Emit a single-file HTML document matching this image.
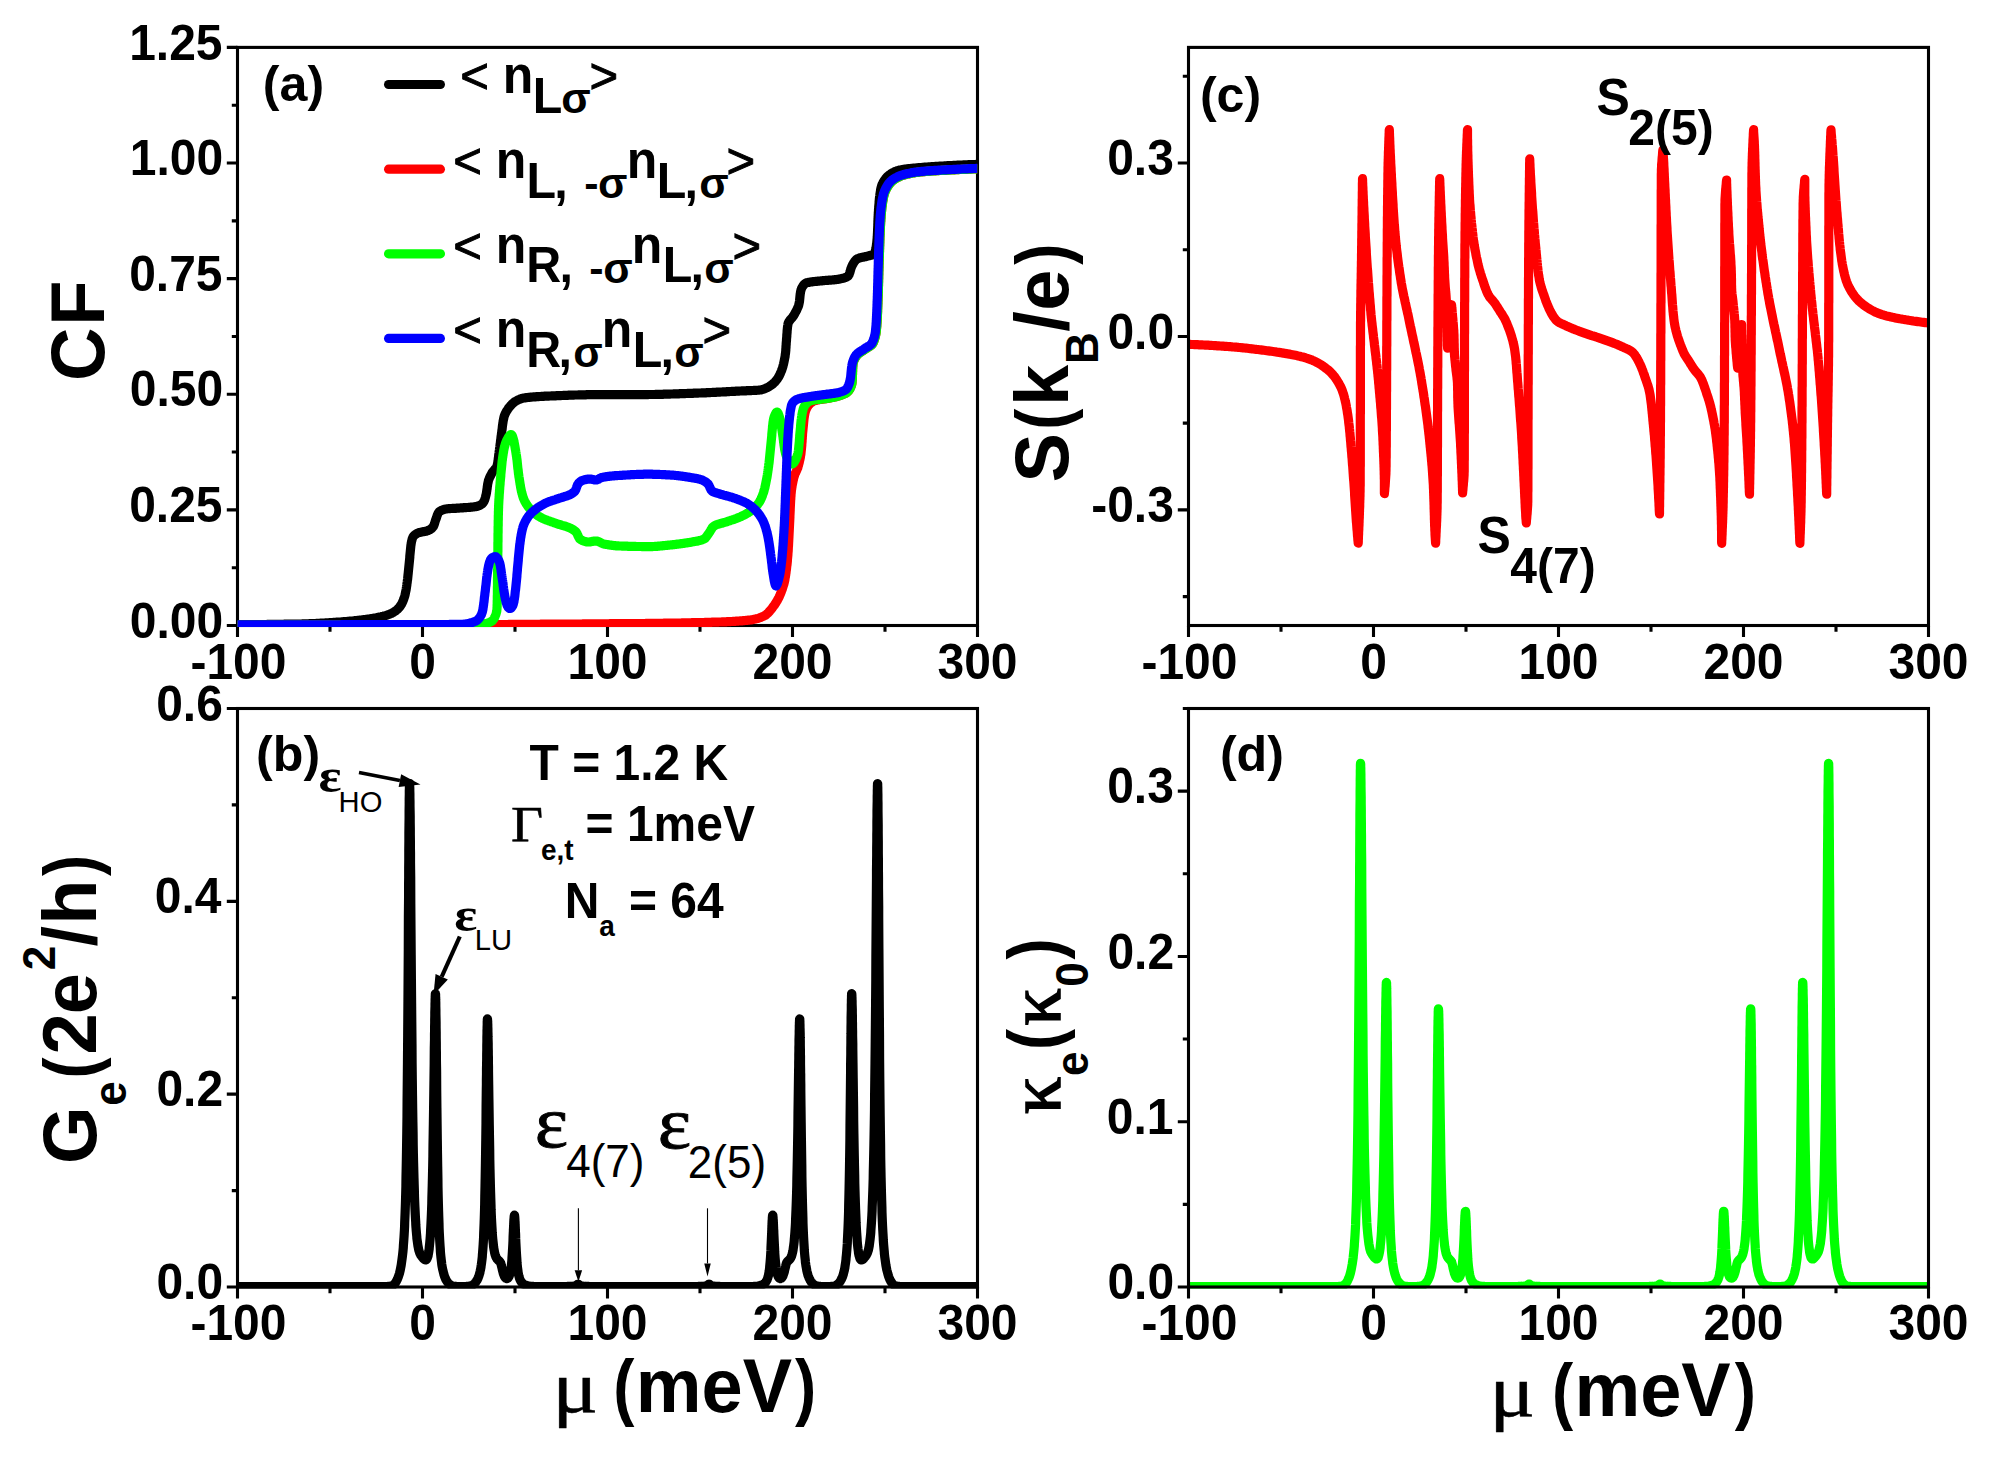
<!DOCTYPE html>
<html lang="en"><head><meta charset="utf-8"><title>Figure</title>
<style>html,body{margin:0;padding:0;background:#fff}svg{display:block}</style></head>
<body>
<svg width="1990" height="1470" viewBox="0 0 1990 1470" role="img" aria-label="Four panel figure: correlation functions, electrical conductance, Seebeck coefficient and electron thermal conductance versus chemical potential">
<desc>(a) CF versus μ (meV): &lt; nLσ&gt;, &lt; nL,-σ nL,σ&gt;, &lt; nR,-σ nL,σ&gt;, &lt; nR,σ nL,σ&gt;. (b) Ge (2e2/h) versus μ (meV), T = 1.2 K, Γe,t = 1meV, Na = 64, εHO, εLU, ε4(7), ε2(5). (c) S(kB/e) with S2(5) and S4(7). (d) κe(κ0) versus μ (meV).</desc>
<rect width="1990" height="1470" fill="#fff"/>
<defs>
<clipPath id="clipa"><rect x="237.00" y="47.40" width="740.50" height="579.65"/></clipPath>
<clipPath id="clipb"><rect x="237.00" y="708.50" width="740.50" height="580.05"/></clipPath>
<clipPath id="clipc"><rect x="1188.00" y="47.40" width="740.50" height="579.65"/></clipPath>
<clipPath id="clipd"><rect x="1188.00" y="708.50" width="740.50" height="580.05"/></clipPath>
</defs>
<rect x="237.5" y="47.4" width="740.0" height="578.1" fill="none" stroke="#000" stroke-width="3.1"/>
<path d="M237.50,625.50 L237.50,637.00 M422.50,625.50 L422.50,637.00 M607.50,625.50 L607.50,637.00 M792.50,625.50 L792.50,637.00 M977.50,625.50 L977.50,637.00 M330.00,625.50 L330.00,631.80 M515.00,625.50 L515.00,631.80 M700.00,625.50 L700.00,631.80 M885.00,625.50 L885.00,631.80 M237.50,625.50 L226.80,625.50 M237.50,509.88 L226.80,509.88 M237.50,394.26 L226.80,394.26 M237.50,278.64 L226.80,278.64 M237.50,163.02 L226.80,163.02 M237.50,47.40 L226.80,47.40 M237.50,567.69 L231.80,567.69 M237.50,452.07 L231.80,452.07 M237.50,336.45 L231.80,336.45 M237.50,220.83 L231.80,220.83 M237.50,105.21 L231.80,105.21" stroke="#000" stroke-width="3.1" fill="none"/>
<text transform="translate(129.76,637.60) scale(1.0,1.035)" font-family='"Liberation Sans", Arial, sans-serif' font-weight="bold" font-size="48" fill="#000">0.00</text>
<text transform="translate(129.16,521.98) scale(1.0,1.035)" font-family='"Liberation Sans", Arial, sans-serif' font-weight="bold" font-size="48" fill="#000">0.25</text>
<text transform="translate(129.76,406.36) scale(1.0,1.035)" font-family='"Liberation Sans", Arial, sans-serif' font-weight="bold" font-size="48" fill="#000">0.50</text>
<text transform="translate(129.16,290.74) scale(1.0,1.035)" font-family='"Liberation Sans", Arial, sans-serif' font-weight="bold" font-size="48" fill="#000">0.75</text>
<text transform="translate(129.76,175.12) scale(1.0,1.035)" font-family='"Liberation Sans", Arial, sans-serif' font-weight="bold" font-size="48" fill="#000">1.00</text>
<text transform="translate(129.16,59.50) scale(1.0,1.035)" font-family='"Liberation Sans", Arial, sans-serif' font-weight="bold" font-size="48" fill="#000">1.25</text>
<text transform="translate(190.46,678.50) scale(1.0,1.035)" font-family='"Liberation Sans", Arial, sans-serif' font-weight="bold" font-size="48" fill="#000">-100</text>
<text transform="translate(409.15,678.50) scale(1.0,1.035)" font-family='"Liberation Sans", Arial, sans-serif' font-weight="bold" font-size="48" fill="#000">0</text>
<text transform="translate(567.46,678.50) scale(1.0,1.035)" font-family='"Liberation Sans", Arial, sans-serif' font-weight="bold" font-size="48" fill="#000">100</text>
<text transform="translate(752.46,678.50) scale(1.0,1.035)" font-family='"Liberation Sans", Arial, sans-serif' font-weight="bold" font-size="48" fill="#000">200</text>
<text transform="translate(937.46,678.50) scale(1.0,1.035)" font-family='"Liberation Sans", Arial, sans-serif' font-weight="bold" font-size="48" fill="#000">300</text>
<path d="M237.5,624.6 238.5,624.6 239.5,624.6 240.5,624.6 241.5,624.6 242.5,624.6 243.5,624.6 244.5,624.6 245.5,624.6 246.5,624.6 247.5,624.6 248.5,624.6 249.5,624.6 250.5,624.6 251.5,624.6 252.5,624.6 253.5,624.6 254.5,624.5 255.5,624.5 256.5,624.5 257.5,624.5 258.5,624.5 259.5,624.5 260.5,624.5 261.5,624.5 262.6,624.5 263.6,624.5 264.6,624.5 265.6,624.5 266.6,624.5 267.6,624.4 268.6,624.4 269.6,624.4 270.6,624.4 271.6,624.4 272.6,624.4 273.6,624.4 274.6,624.4 275.6,624.4 276.6,624.3 277.6,624.3 278.6,624.3 279.6,624.3 280.6,624.3 281.6,624.3 282.6,624.3 283.6,624.3 284.6,624.2 285.6,624.2 286.6,624.2 287.6,624.2 288.6,624.2 289.6,624.2 290.6,624.2 291.6,624.1 292.6,624.1 293.6,624.1 294.6,624.1 295.6,624.1 296.6,624.1 297.6,624.0 298.6,624.0 299.6,624.0 300.6,624.0 301.6,624.0 302.6,623.9 303.6,623.9 304.6,623.9 305.6,623.9 306.6,623.8 307.6,623.8 308.6,623.8 309.6,623.7 310.6,623.7 311.6,623.7 312.6,623.6 313.6,623.6 314.6,623.5 315.6,623.5 316.6,623.4 317.6,623.4 318.6,623.3 319.6,623.3 320.6,623.2 321.6,623.2 322.6,623.1 323.6,623.1 324.6,623.0 325.6,622.9 326.6,622.9 327.6,622.8 328.6,622.8 329.6,622.7 330.6,622.6 331.6,622.6 332.6,622.5 333.6,622.4 334.6,622.4 335.6,622.3 336.6,622.2 337.6,622.2 338.6,622.1 339.6,622.0 340.6,622.0 341.6,621.9 342.6,621.8 343.6,621.7 344.6,621.7 345.6,621.6 346.6,621.5 347.6,621.4 348.6,621.3 349.6,621.2 350.6,621.1 351.6,621.0 352.6,621.0 353.6,620.9 354.6,620.7 355.6,620.6 356.6,620.5 357.6,620.4 358.6,620.3 359.6,620.2 360.6,620.1 361.6,620.0 362.6,619.8 363.6,619.7 364.5,619.6 365.5,619.5 366.5,619.3 367.5,619.2 368.5,619.1 369.5,618.9 370.5,618.8 371.5,618.6 372.5,618.4 373.5,618.3 374.5,618.1 375.5,617.9 376.5,617.7 377.4,617.5 378.4,617.3 379.4,617.1 380.4,616.9 381.4,616.7 382.3,616.4 383.3,616.2 384.2,615.9 385.2,615.7 386.2,615.4 387.1,615.1 388.1,614.7 389.1,614.4 390.0,614.0 391.0,613.6 391.9,613.2 392.7,612.7 393.6,612.2 394.4,611.7 395.2,611.2 396.0,610.6 396.8,609.9 397.6,609.2 398.3,608.5 399.0,607.7 399.7,606.9 400.3,606.1 400.8,605.3 401.3,604.5 401.8,603.7 402.2,602.8 402.6,601.9 403.1,600.9 403.4,600.0 403.8,599.0 404.1,598.0 404.4,597.1 404.7,596.1 405.0,595.1 405.2,594.2 405.4,593.2 405.6,592.2 405.8,591.3 406.0,590.3 406.2,589.3 406.3,588.3 406.5,587.3 406.6,586.3 406.8,585.3 406.9,584.3 407.0,583.3 407.2,582.3 407.3,581.3 407.4,580.3 407.6,579.3 407.7,578.3 407.8,577.3 407.9,576.3 408.0,575.3 408.1,574.3 408.2,573.4 408.3,572.4 408.4,571.4 408.5,570.4 408.6,569.4 408.7,568.4 408.8,567.4 408.9,566.4 409.0,565.4 409.1,564.4 409.2,563.4 409.3,562.4 409.4,561.4 409.5,560.4 409.6,559.4 409.7,558.4 409.8,557.4 409.8,556.4 409.9,555.4 410.0,554.4 410.1,553.4 410.2,552.4 410.3,551.4 410.4,550.4 410.5,549.4 410.6,548.4 410.7,547.4 410.8,546.4 410.9,545.4 411.1,544.4 411.2,543.4 411.4,542.4 411.6,541.3 411.9,540.3 412.1,539.3 412.4,538.4 412.8,537.5 413.1,536.7 413.7,536.0 414.4,535.3 415.2,534.6 416.1,534.0 417.1,533.4 417.9,533.0 418.8,532.7 419.8,532.4 420.8,532.2 421.8,532.0 422.8,531.8 423.8,531.6 424.8,531.5 425.8,531.3 426.8,531.0 427.7,530.7 428.6,530.3 429.5,529.9 430.4,529.3 431.3,528.7 432.1,528.0 432.7,527.3 433.3,526.6 433.7,525.8 434.1,524.9 434.4,524.0 434.7,523.0 435.0,522.0 435.3,521.0 435.6,520.0 436.0,519.0 436.4,518.0 436.7,517.0 437.0,516.0 437.4,514.9 437.8,514.0 438.2,513.1 438.7,512.4 439.2,511.8 439.9,511.2 440.8,510.7 441.7,510.3 442.7,509.9 443.8,509.5 444.8,509.2 445.8,509.0 446.8,508.9 447.7,508.8 448.7,508.7 449.7,508.6 450.7,508.5 451.7,508.5 452.7,508.4 453.7,508.4 454.7,508.3 455.7,508.3 456.8,508.2 457.8,508.2 458.8,508.1 459.8,508.0 460.8,507.9 461.8,507.9 462.8,507.8 463.8,507.7 464.8,507.7 465.8,507.6 466.9,507.5 467.9,507.5 468.9,507.4 469.9,507.3 470.9,507.2 471.9,507.1 472.9,507.0 473.9,506.9 474.8,506.8 475.8,506.6 476.7,506.5 477.7,506.2 478.7,505.8 479.7,505.3 480.7,504.8 481.6,504.3 482.3,503.7 482.9,503.1 483.4,502.4 483.9,501.6 484.3,500.7 484.7,499.8 485.0,498.7 485.3,497.7 485.6,496.6 485.8,495.6 486.1,494.7 486.3,493.7 486.5,492.7 486.6,491.7 486.8,490.7 486.9,489.7 487.1,488.7 487.2,487.7 487.3,486.7 487.5,485.7 487.6,484.7 487.8,483.7 488.0,482.8 488.2,481.8 488.4,480.8 488.7,479.9 489.1,479.0 489.4,478.0 489.9,477.1 490.3,476.2 490.8,475.3 491.2,474.4 491.7,473.5 492.2,472.6 492.8,471.8 493.4,471.0 494.1,470.2 494.8,469.4 495.5,468.6 496.1,467.8 496.6,467.0 497.0,466.2 497.2,465.3 497.4,464.3 497.6,463.4 497.8,462.4 497.9,461.4 498.1,460.4 498.2,459.4 498.3,458.4 498.5,457.4 498.6,456.3 498.7,455.3 498.8,454.3 499.0,453.3 499.1,452.3 499.2,451.3 499.4,450.3 499.5,449.3 499.6,448.3 499.8,447.3 499.9,446.3 500.0,445.4 500.1,444.4 500.3,443.4 500.4,442.4 500.5,441.4 500.6,440.4 500.8,439.4 500.9,438.4 501.0,437.4 501.1,436.4 501.3,435.4 501.4,434.4 501.5,433.4 501.7,432.4 501.8,431.4 501.9,430.4 502.1,429.4 502.2,428.4 502.3,427.4 502.4,426.4 502.5,425.4 502.7,424.4 502.8,423.4 503.0,422.4 503.1,421.4 503.3,420.4 503.5,419.5 503.7,418.5 503.9,417.6 504.1,416.6 504.4,415.7 504.8,414.7 505.2,413.8 505.6,412.9 506.1,412.0 506.6,411.1 507.2,410.2 507.7,409.4 508.3,408.6 508.8,407.8 509.5,407.0 510.1,406.2 510.8,405.4 511.5,404.7 512.2,403.9 513.0,403.2 513.8,402.6 514.5,401.9 515.3,401.4 516.2,400.9 517.0,400.5 517.9,400.0 518.8,399.6 519.8,399.2 520.7,398.8 521.7,398.5 522.7,398.3 523.7,398.1 524.6,397.9 525.6,397.8 526.6,397.6 527.6,397.5 528.5,397.4 529.5,397.3 530.5,397.2 531.5,397.1 532.5,397.0 533.5,396.9 534.5,396.9 535.5,396.8 536.5,396.7 537.5,396.6 538.5,396.6 539.5,396.5 540.6,396.5 541.6,396.4 542.6,396.3 543.6,396.3 544.6,396.2 545.6,396.2 546.6,396.1 547.6,396.1 548.6,396.1 549.6,396.0 550.6,396.0 551.6,395.9 552.6,395.9 553.6,395.8 554.6,395.8 555.6,395.8 556.6,395.7 557.6,395.7 558.6,395.6 559.6,395.6 560.6,395.6 561.6,395.5 562.6,395.5 563.6,395.4 564.6,395.4 565.6,395.4 566.6,395.3 567.6,395.3 568.6,395.2 569.6,395.2 570.6,395.2 571.6,395.1 572.6,395.1 573.6,395.1 574.6,395.0 575.6,395.0 576.7,395.0 577.7,395.0 578.7,394.9 579.7,394.9 580.7,394.9 581.7,394.8 582.7,394.8 583.7,394.8 584.7,394.8 585.7,394.8 586.7,394.7 587.7,394.7 588.7,394.7 589.7,394.7 590.7,394.7 591.7,394.7 592.7,394.6 593.7,394.6 594.7,394.6 595.7,394.6 596.7,394.6 597.7,394.6 598.7,394.6 599.7,394.6 600.7,394.6 601.7,394.6 602.7,394.6 603.7,394.6 604.7,394.6 605.7,394.6 606.7,394.6 607.7,394.6 608.7,394.6 609.7,394.6 610.7,394.6 611.7,394.6 612.7,394.6 613.7,394.6 614.7,394.6 615.7,394.6 616.7,394.6 617.7,394.6 618.7,394.6 619.7,394.6 620.7,394.6 621.7,394.6 622.7,394.6 623.7,394.6 624.7,394.6 625.7,394.6 626.7,394.6 627.7,394.6 628.7,394.6 629.7,394.6 630.7,394.6 631.7,394.6 632.7,394.6 633.7,394.6 634.8,394.6 635.8,394.6 636.8,394.6 637.8,394.6 638.8,394.6 639.8,394.6 640.8,394.6 641.8,394.6 642.8,394.6 643.8,394.6 644.8,394.6 645.8,394.6 646.8,394.6 647.8,394.6 648.8,394.5 649.8,394.5 650.8,394.5 651.8,394.5 652.8,394.5 653.8,394.5 654.8,394.5 655.8,394.4 656.8,394.4 657.8,394.4 658.8,394.4 659.8,394.3 660.8,394.3 661.8,394.3 662.8,394.3 663.8,394.2 664.8,394.2 665.8,394.2 666.8,394.2 667.8,394.1 668.8,394.1 669.8,394.1 670.8,394.0 671.8,394.0 672.8,394.0 673.8,393.9 674.8,393.9 675.8,393.9 676.8,393.8 677.8,393.8 678.8,393.8 679.8,393.7 680.8,393.7 681.8,393.7 682.8,393.6 683.8,393.6 684.8,393.6 685.8,393.5 686.8,393.5 687.8,393.4 688.8,393.4 689.8,393.4 690.8,393.3 691.8,393.3 692.8,393.3 693.8,393.2 694.8,393.2 695.8,393.2 696.8,393.1 697.8,393.1 698.8,393.0 699.8,393.0 700.8,393.0 701.8,392.9 702.8,392.9 703.8,392.9 704.8,392.8 705.8,392.8 706.8,392.7 707.8,392.7 708.8,392.6 709.8,392.6 710.8,392.5 711.8,392.5 712.8,392.4 713.8,392.4 714.8,392.3 715.8,392.3 716.8,392.2 717.8,392.2 718.8,392.1 719.8,392.1 720.9,392.0 721.9,392.0 722.9,391.9 723.9,391.9 724.9,391.8 725.9,391.8 726.9,391.7 727.9,391.6 728.9,391.6 729.9,391.5 730.9,391.5 731.9,391.4 732.9,391.4 733.9,391.3 734.9,391.3 735.9,391.2 736.9,391.2 737.9,391.1 738.9,391.1 739.9,391.0 740.9,391.0 741.9,390.9 742.9,390.9 743.9,390.8 744.9,390.8 745.9,390.8 746.9,390.7 747.9,390.7 748.9,390.7 750.0,390.6 751.0,390.6 752.0,390.5 753.0,390.5 754.0,390.4 755.0,390.4 756.0,390.3 757.0,390.3 757.9,390.2 758.9,390.1 759.9,390.0 760.8,389.9 761.8,389.7 762.8,389.4 763.8,389.1 764.7,388.7 765.7,388.3 766.6,387.9 767.5,387.4 768.4,386.9 769.3,386.4 770.1,385.9 770.9,385.4 771.7,384.8 772.5,384.2 773.3,383.5 774.0,382.8 774.8,382.1 775.5,381.3 776.1,380.5 776.8,379.8 777.4,378.9 777.9,378.1 778.4,377.3 778.9,376.5 779.4,375.6 779.8,374.7 780.2,373.8 780.6,372.9 781.0,371.9 781.4,371.0 781.8,370.0 782.1,369.0 782.4,368.1 782.7,367.1 783.0,366.2 783.2,365.2 783.5,364.2 783.7,363.3 783.9,362.3 784.1,361.3 784.3,360.3 784.5,359.3 784.7,358.3 784.9,357.3 785.1,356.4 785.2,355.4 785.3,354.4 785.5,353.4 785.6,352.4 785.7,351.4 785.8,350.4 785.8,349.4 785.9,348.4 786.0,347.4 786.0,346.4 786.1,345.4 786.2,344.4 786.2,343.4 786.3,342.4 786.4,341.4 786.5,340.4 786.5,339.4 786.6,338.4 786.7,337.4 786.8,336.3 786.8,335.3 786.9,334.3 787.0,333.3 787.1,332.2 787.1,331.2 787.2,330.2 787.3,329.2 787.4,328.2 787.5,327.2 787.6,326.3 787.8,325.3 787.9,324.4 788.1,323.5 788.4,322.6 788.9,321.8 789.4,320.9 790.0,320.1 790.7,319.3 791.4,318.5 792.1,317.7 792.7,316.9 793.3,316.1 793.9,315.2 794.4,314.3 794.9,313.5 795.3,312.6 795.8,311.7 796.3,310.8 796.8,309.9 797.2,308.9 797.6,308.0 798.0,307.1 798.4,306.2 798.7,305.2 798.9,304.3 799.1,303.3 799.3,302.3 799.5,301.3 799.6,300.3 799.7,299.3 799.8,298.3 799.9,297.3 800.0,296.2 800.1,295.2 800.2,294.2 800.4,293.2 800.5,292.2 800.7,291.3 800.9,290.4 801.2,289.5 801.5,288.5 802.0,287.5 802.6,286.5 803.2,285.6 803.8,284.7 804.6,283.9 805.3,283.4 806.0,283.0 806.8,282.8 807.6,282.5 808.5,282.4 809.4,282.2 810.4,282.0 811.4,281.9 812.4,281.8 813.5,281.6 814.6,281.5 815.7,281.4 816.8,281.3 817.8,281.2 818.9,281.1 819.9,281.0 820.9,280.9 821.9,280.8 822.9,280.7 823.9,280.6 824.9,280.5 825.9,280.4 826.9,280.4 827.9,280.3 828.9,280.2 829.9,280.1 830.9,280.1 831.9,280.0 832.9,279.9 833.9,279.8 834.9,279.7 835.9,279.6 836.9,279.5 837.9,279.3 838.9,279.2 839.8,279.0 840.8,278.8 841.8,278.6 842.9,278.3 844.0,278.0 845.0,277.7 846.0,277.3 846.8,276.8 847.6,276.4 848.2,275.9 848.6,275.2 849.1,274.5 849.4,273.6 849.8,272.6 850.1,271.6 850.4,270.5 850.7,269.4 851.0,268.4 851.4,267.4 851.8,266.4 852.2,265.5 852.7,264.6 853.2,263.7 853.8,262.7 854.4,261.8 855.0,260.9 855.6,260.2 856.3,259.5 857.0,259.0 857.7,258.6 858.6,258.3 859.4,258.0 860.4,257.7 861.4,257.5 862.4,257.3 863.5,257.1 864.5,256.8 865.6,256.6 866.6,256.4 867.6,256.1 868.6,255.8 869.7,255.6 870.8,255.3 871.9,255.0 872.9,254.7 873.6,254.3 874.1,253.9 874.4,253.3 874.8,252.6 875.1,251.9 875.3,251.0 875.6,250.0 875.8,248.9 876.0,247.9 876.2,246.7 876.4,245.6 876.5,244.4 876.7,243.3 876.8,242.1 876.9,241.1 877.0,240.0 877.1,239.1 877.2,238.1 877.2,237.1 877.3,236.1 877.4,235.1 877.4,234.1 877.5,233.1 877.5,232.1 877.6,231.1 877.6,230.1 877.6,229.1 877.7,228.1 877.7,227.1 877.8,226.1 877.8,225.1 877.8,224.1 877.9,223.1 877.9,222.1 877.9,221.1 878.0,220.0 878.0,219.0 878.1,218.0 878.1,217.0 878.2,216.0 878.2,215.0 878.3,214.0 878.3,213.0 878.4,212.0 878.5,211.0 878.5,210.0 878.6,209.0 878.7,208.0 878.7,207.0 878.8,206.0 878.9,204.9 879.0,203.9 879.1,202.9 879.1,201.9 879.2,200.9 879.3,199.8 879.4,198.8 879.5,197.8 879.6,196.8 879.8,195.8 879.9,194.8 880.0,193.8 880.2,192.9 880.3,191.9 880.5,190.9 880.6,190.0 880.8,189.0 881.0,188.1 881.2,187.2 881.5,186.2 881.8,185.3 882.2,184.3 882.7,183.4 883.1,182.4 883.7,181.5 884.2,180.6 884.8,179.7 885.4,178.9 886.1,178.1 886.7,177.3 887.4,176.6 888.0,176.0 888.7,175.4 889.4,174.8 890.2,174.3 891.1,173.7 891.9,173.2 892.9,172.7 893.8,172.2 894.8,171.7 895.7,171.3 896.7,171.0 897.7,170.6 898.7,170.3 899.6,170.1 900.6,169.9 901.5,169.7 902.5,169.5 903.5,169.4 904.4,169.2 905.4,169.1 906.4,168.9 907.4,168.8 908.4,168.7 909.4,168.6 910.4,168.5 911.4,168.4 912.4,168.3 913.4,168.2 914.5,168.1 915.5,168.0 916.5,167.9 917.5,167.8 918.5,167.7 919.5,167.6 920.5,167.6 921.5,167.5 922.5,167.4 923.5,167.3 924.5,167.2 925.5,167.1 926.5,167.1 927.5,167.0 928.5,166.9 929.5,166.8 930.5,166.8 931.5,166.7 932.5,166.6 933.5,166.6 934.5,166.5 935.5,166.4 936.5,166.4 937.5,166.3 938.5,166.3 939.5,166.2 940.5,166.1 941.5,166.1 942.5,166.0 943.5,166.0 944.5,165.9 945.5,165.8 946.5,165.8 947.5,165.7 948.5,165.7 949.5,165.6 950.5,165.6 951.5,165.5 952.5,165.5 953.5,165.4 954.5,165.4 955.5,165.3 956.5,165.3 957.5,165.2 958.5,165.2 959.5,165.1 960.5,165.1 961.5,165.0 962.5,165.0 963.5,164.9 964.5,164.9 965.5,164.9 966.5,164.8 967.5,164.8 968.5,164.7 969.5,164.7 970.5,164.7 971.5,164.6 972.5,164.6 973.5,164.5 974.5,164.5 975.5,164.5 976.5,164.4 977.5,164.4" fill="none" stroke="#000" stroke-width="9.2" stroke-linejoin="round" stroke-linecap="butt" clip-path="url(#clipa)"/>
<path d="M237.5,625.3 238.5,625.3 239.5,625.3 240.5,625.3 241.5,625.3 242.5,625.3 243.5,625.3 244.5,625.3 245.5,625.3 246.5,625.3 247.5,625.3 248.5,625.3 249.5,625.3 250.5,625.3 251.5,625.3 252.5,625.3 253.5,625.3 254.5,625.3 255.5,625.3 256.5,625.3 257.5,625.3 258.5,625.3 259.5,625.3 260.5,625.3 261.5,625.3 262.5,625.3 263.5,625.3 264.5,625.3 265.5,625.3 266.5,625.3 267.5,625.3 268.5,625.3 269.5,625.3 270.6,625.3 271.6,625.3 272.6,625.3 273.6,625.3 274.6,625.3 275.6,625.3 276.6,625.3 277.6,625.3 278.6,625.3 279.6,625.3 280.6,625.3 281.6,625.3 282.6,625.3 283.6,625.3 284.6,625.3 285.6,625.3 286.6,625.3 287.6,625.3 288.6,625.3 289.6,625.3 290.6,625.3 291.6,625.3 292.6,625.3 293.6,625.3 294.6,625.3 295.6,625.3 296.6,625.3 297.6,625.3 298.6,625.3 299.6,625.3 300.6,625.3 301.6,625.2 302.6,625.2 303.6,625.2 304.6,625.2 305.6,625.2 306.6,625.2 307.6,625.2 308.6,625.2 309.6,625.2 310.6,625.2 311.6,625.2 312.6,625.2 313.6,625.2 314.6,625.2 315.6,625.2 316.6,625.2 317.6,625.2 318.6,625.2 319.6,625.2 320.6,625.2 321.6,625.2 322.6,625.2 323.6,625.2 324.6,625.2 325.6,625.2 326.6,625.2 327.6,625.2 328.6,625.2 329.6,625.2 330.6,625.2 331.6,625.2 332.6,625.2 333.6,625.2 334.6,625.2 335.6,625.2 336.6,625.2 337.7,625.2 338.7,625.2 339.7,625.2 340.7,625.2 341.7,625.2 342.7,625.2 343.7,625.2 344.7,625.2 345.7,625.2 346.7,625.2 347.7,625.2 348.7,625.1 349.7,625.1 350.7,625.1 351.7,625.1 352.7,625.1 353.7,625.1 354.7,625.1 355.7,625.1 356.7,625.1 357.7,625.1 358.7,625.1 359.7,625.1 360.7,625.1 361.7,625.1 362.7,625.1 363.7,625.1 364.7,625.1 365.7,625.1 366.7,625.1 367.7,625.1 368.7,625.1 369.7,625.1 370.7,625.1 371.7,625.1 372.7,625.1 373.7,625.1 374.7,625.1 375.7,625.1 376.7,625.1 377.7,625.1 378.7,625.1 379.7,625.1 380.7,625.1 381.7,625.0 382.7,625.0 383.7,625.0 384.7,625.0 385.7,625.0 386.7,625.0 387.7,625.0 388.7,625.0 389.7,625.0 390.7,625.0 391.7,625.0 392.7,625.0 393.7,625.0 394.7,625.0 395.7,625.0 396.7,625.0 397.7,625.0 398.7,625.0 399.7,625.0 400.7,625.0 401.7,625.0 402.7,625.0 403.7,625.0 404.7,625.0 405.7,625.0 406.8,625.0 407.8,625.0 408.8,625.0 409.8,624.9 410.8,624.9 411.8,624.9 412.8,624.9 413.8,624.9 414.8,624.9 415.8,624.9 416.8,624.9 417.8,624.9 418.8,624.9 419.8,624.9 420.8,624.9 421.8,624.9 422.8,624.9 423.8,624.9 424.8,624.9 425.8,624.9 426.8,624.9 427.8,624.9 428.8,624.9 429.8,624.9 430.8,624.9 431.8,624.9 432.8,624.8 433.8,624.8 434.8,624.8 435.8,624.8 436.8,624.8 437.8,624.8 438.8,624.8 439.8,624.8 440.8,624.8 441.8,624.8 442.8,624.8 443.8,624.8 444.8,624.8 445.8,624.8 446.8,624.8 447.8,624.8 448.8,624.8 449.8,624.8 450.8,624.8 451.8,624.8 452.8,624.8 453.8,624.7 454.8,624.7 455.8,624.7 456.8,624.7 457.8,624.7 458.8,624.7 459.8,624.7 460.8,624.7 461.8,624.7 462.8,624.7 463.8,624.7 464.8,624.7 465.8,624.7 466.8,624.7 467.8,624.7 468.8,624.7 469.8,624.7 470.8,624.7 471.8,624.7 472.8,624.7 473.8,624.6 474.8,624.6 475.8,624.6 476.8,624.6 477.9,624.6 478.9,624.6 479.9,624.6 480.9,624.6 481.9,624.6 482.9,624.6 483.9,624.6 484.9,624.6 485.9,624.6 486.9,624.6 487.9,624.6 488.9,624.6 489.9,624.6 490.9,624.6 491.9,624.5 492.9,624.5 493.9,624.5 494.9,624.5 495.9,624.5 496.9,624.5 497.9,624.5 498.9,624.5 499.9,624.5 500.9,624.5 501.9,624.5 502.9,624.5 503.9,624.5 504.9,624.5 505.9,624.5 506.9,624.5 507.9,624.5 508.9,624.4 509.9,624.4 510.9,624.4 511.9,624.4 512.9,624.4 513.9,624.4 514.9,624.4 515.9,624.4 516.9,624.4 517.9,624.4 518.9,624.4 519.9,624.4 520.9,624.4 521.9,624.4 522.9,624.4 523.9,624.4 524.9,624.3 525.9,624.3 526.9,624.3 527.9,624.3 528.9,624.3 529.9,624.3 530.9,624.3 531.9,624.3 532.9,624.3 533.9,624.3 534.9,624.3 535.9,624.3 536.9,624.3 537.9,624.3 538.9,624.3 539.9,624.3 540.9,624.2 541.9,624.2 542.9,624.2 543.9,624.2 544.9,624.2 545.9,624.2 546.9,624.2 547.9,624.2 548.9,624.2 549.9,624.2 551.0,624.2 552.0,624.2 553.0,624.2 554.0,624.2 555.0,624.1 556.0,624.1 557.0,624.1 558.0,624.1 559.0,624.1 560.0,624.1 561.0,624.1 562.0,624.1 563.0,624.1 564.0,624.1 565.0,624.1 566.0,624.1 567.0,624.1 568.0,624.1 569.0,624.1 570.0,624.0 571.0,624.0 572.0,624.0 573.0,624.0 574.0,624.0 575.0,624.0 576.0,624.0 577.0,624.0 578.0,624.0 579.0,624.0 580.0,624.0 581.0,624.0 582.0,624.0 583.0,623.9 584.0,623.9 585.0,623.9 586.0,623.9 587.0,623.9 588.0,623.9 589.0,623.9 590.0,623.9 591.0,623.9 592.0,623.9 593.0,623.9 594.0,623.9 595.0,623.9 596.0,623.9 597.0,623.8 598.0,623.8 599.0,623.8 600.0,623.8 601.0,623.8 602.0,623.8 603.0,623.8 604.0,623.8 605.0,623.8 606.0,623.8 607.0,623.8 608.0,623.8 609.0,623.8 610.0,623.7 611.0,623.7 612.0,623.7 613.0,623.7 614.0,623.7 615.0,623.7 616.0,623.7 617.0,623.7 618.0,623.7 619.0,623.7 620.0,623.7 621.0,623.7 622.0,623.6 623.0,623.6 624.0,623.6 625.0,623.6 626.1,623.6 627.1,623.6 628.1,623.6 629.1,623.6 630.1,623.6 631.1,623.6 632.1,623.6 633.1,623.6 634.1,623.5 635.1,623.5 636.1,623.5 637.1,623.5 638.1,623.5 639.1,623.5 640.1,623.5 641.1,623.5 642.1,623.5 643.1,623.5 644.1,623.5 645.1,623.5 646.1,623.4 647.1,623.4 648.1,623.4 649.1,623.4 650.1,623.4 651.1,623.4 652.1,623.4 653.1,623.4 654.1,623.4 655.1,623.4 656.1,623.3 657.1,623.3 658.1,623.3 659.1,623.3 660.1,623.3 661.1,623.3 662.1,623.3 663.1,623.3 664.1,623.2 665.1,623.2 666.1,623.2 667.1,623.2 668.1,623.2 669.1,623.2 670.1,623.2 671.1,623.1 672.1,623.1 673.1,623.1 674.1,623.1 675.1,623.1 676.1,623.1 677.1,623.0 678.1,623.0 679.1,623.0 680.1,623.0 681.1,623.0 682.1,622.9 683.1,622.9 684.1,622.9 685.1,622.9 686.1,622.9 687.1,622.8 688.1,622.8 689.1,622.8 690.1,622.8 691.1,622.8 692.1,622.7 693.1,622.7 694.2,622.7 695.2,622.7 696.2,622.7 697.2,622.6 698.2,622.6 699.2,622.6 700.2,622.6 701.2,622.5 702.2,622.5 703.2,622.5 704.2,622.5 705.2,622.4 706.2,622.4 707.2,622.4 708.2,622.4 709.2,622.3 710.2,622.3 711.2,622.3 712.2,622.2 713.2,622.2 714.2,622.2 715.2,622.1 716.2,622.1 717.2,622.1 718.2,622.1 719.2,622.0 720.2,622.0 721.2,622.0 722.2,621.9 723.2,621.9 724.2,621.9 725.2,621.8 726.2,621.8 727.2,621.7 728.2,621.7 729.2,621.6 730.2,621.6 731.2,621.5 732.2,621.5 733.2,621.4 734.2,621.4 735.2,621.3 736.2,621.2 737.2,621.2 738.2,621.1 739.2,621.0 740.2,620.9 741.2,620.9 742.2,620.8 743.2,620.7 744.2,620.6 745.2,620.5 746.2,620.4 747.2,620.3 748.2,620.2 749.2,620.1 750.1,620.0 751.1,619.9 752.1,619.7 753.1,619.5 754.2,619.3 755.2,619.1 756.2,618.8 757.2,618.6 758.2,618.3 759.1,618.0 760.1,617.6 761.0,617.3 761.9,616.9 762.8,616.5 763.7,616.2 764.5,615.7 765.3,615.3 766.1,614.7 766.8,614.1 767.6,613.4 768.3,612.7 769.0,611.9 769.7,611.1 770.4,610.3 771.1,609.5 771.7,608.7 772.3,607.9 772.9,607.1 773.5,606.3 774.1,605.5 774.7,604.7 775.2,603.8 775.8,603.0 776.3,602.1 776.8,601.3 777.4,600.4 777.8,599.5 778.3,598.6 778.8,597.7 779.2,596.8 779.6,595.9 780.0,595.0 780.4,594.1 780.8,593.1 781.1,592.2 781.5,591.3 781.8,590.3 782.2,589.4 782.5,588.4 782.8,587.5 783.1,586.5 783.4,585.5 783.7,584.6 784.0,583.6 784.2,582.6 784.5,581.6 784.7,580.7 784.9,579.7 785.0,578.7 785.2,577.7 785.4,576.8 785.5,575.8 785.7,574.8 785.8,573.8 786.0,572.8 786.1,571.8 786.2,570.8 786.4,569.9 786.5,568.9 786.6,567.9 786.7,566.9 786.8,565.9 787.0,564.9 787.1,563.9 787.2,562.9 787.3,561.9 787.4,560.9 787.4,559.9 787.5,558.9 787.6,557.8 787.7,556.8 787.8,555.8 787.9,554.8 787.9,553.8 788.0,552.9 788.1,551.9 788.2,550.9 788.2,549.9 788.3,548.9 788.3,547.9 788.4,546.9 788.5,545.9 788.5,544.9 788.6,543.9 788.6,542.9 788.7,541.9 788.7,540.9 788.8,539.9 788.8,538.9 788.9,537.9 788.9,536.9 789.0,535.9 789.0,534.9 789.1,533.9 789.1,532.9 789.2,531.9 789.2,530.9 789.3,529.9 789.3,528.9 789.4,527.9 789.4,526.9 789.5,525.9 789.5,524.9 789.6,523.9 789.6,522.9 789.7,521.9 789.7,520.8 789.8,519.8 789.8,518.8 789.9,517.8 789.9,516.8 789.9,515.8 790.0,514.8 790.0,513.8 790.1,512.8 790.1,511.8 790.2,510.8 790.2,509.8 790.2,508.8 790.3,507.8 790.3,506.8 790.4,505.8 790.4,504.8 790.5,503.8 790.5,502.8 790.6,501.8 790.6,500.8 790.7,499.8 790.8,498.8 790.8,497.8 790.9,496.8 791.0,495.8 791.0,494.8 791.1,493.8 791.2,492.9 791.3,491.9 791.4,490.9 791.5,489.9 791.7,488.9 791.8,487.9 792.0,486.9 792.1,485.9 792.3,484.9 792.5,483.9 792.7,482.9 792.9,481.9 793.1,480.9 793.3,480.0 793.5,479.0 793.7,478.0 794.0,477.1 794.3,476.1 794.6,475.2 794.9,474.2 795.3,473.3 795.8,472.4 796.2,471.5 796.6,470.6 797.0,469.6 797.4,468.7 797.8,467.8 798.0,466.8 798.3,465.9 798.6,464.9 798.8,463.9 799.1,463.0 799.3,462.0 799.5,461.0 799.8,460.0 800.0,459.1 800.2,458.1 800.4,457.1 800.5,456.1 800.7,455.1 800.9,454.1 801.0,453.1 801.1,452.1 801.2,451.1 801.3,450.2 801.4,449.2 801.5,448.2 801.6,447.2 801.7,446.2 801.8,445.2 801.8,444.2 801.9,443.2 802.0,442.2 802.1,441.2 802.1,440.2 802.2,439.2 802.3,438.2 802.3,437.2 802.4,436.2 802.5,435.2 802.5,434.2 802.6,433.2 802.7,432.2 802.8,431.2 802.9,430.2 803.0,429.2 803.1,428.2 803.2,427.2 803.3,426.2 803.4,425.2 803.5,424.2 803.6,423.1 803.7,422.1 803.8,421.1 803.9,420.1 804.0,419.1 804.1,418.1 804.3,417.1 804.4,416.2 804.6,415.2 804.8,414.2 804.9,413.3 805.2,412.3 805.4,411.3 805.8,410.4 806.2,409.4 806.6,408.4 807.1,407.5 807.5,406.7 808.1,405.9 808.6,405.1 809.3,404.4 810.1,403.6 810.9,402.9 811.7,402.3 812.6,401.7 813.4,401.2 814.3,400.9 815.2,400.6 816.1,400.4 817.0,400.1 817.9,399.9 818.9,399.8 819.9,399.6 820.9,399.4 821.9,399.3 823.0,399.1 824.0,399.0 825.0,398.8 826.0,398.7 827.1,398.5 828.1,398.4 829.1,398.2 830.1,398.0 831.0,397.8 832.0,397.6 833.0,397.4 834.0,397.2 835.0,396.9 836.0,396.7 837.0,396.5 837.9,396.2 838.9,396.0 839.8,395.7 840.8,395.3 841.7,395.0 842.7,394.6 843.7,394.2 844.7,393.7 845.6,393.3 846.5,392.7 847.2,392.2 847.9,391.6 848.5,391.0 849.0,390.2 849.6,389.4 850.1,388.5 850.6,387.5 851.1,386.5 851.4,385.5 851.7,384.5 851.9,383.5 852.0,382.6 852.1,381.6 852.2,380.6 852.3,379.7 852.3,378.7 852.4,377.7 852.4,376.6 852.4,375.6 852.5,374.6 852.5,373.6 852.5,372.5 852.6,371.5 852.6,370.5 852.6,369.5 852.7,368.5 852.7,367.5 852.8,366.5 852.9,365.5 852.9,364.5 853.1,363.6 853.2,362.6 853.5,361.6 853.9,360.7 854.3,359.7 854.8,358.7 855.3,357.8 855.8,357.0 856.3,356.1 856.9,355.4 857.5,354.7 858.2,354.0 858.9,353.4 859.7,352.8 860.6,352.3 861.5,351.7 862.4,351.1 863.3,350.6 864.1,350.0 864.9,349.4 865.8,348.8 866.7,348.3 867.6,347.7 868.5,347.1 869.4,346.6 870.3,346.0 871.1,345.4 871.8,344.8 872.4,344.1 872.9,343.4 873.3,342.6 873.6,341.8 874.0,340.9 874.3,340.0 874.6,339.0 874.9,338.0 875.2,337.0 875.4,336.0 875.7,334.9 875.9,333.9 876.0,332.8 876.2,331.8 876.3,330.8 876.4,329.8 876.5,328.8 876.6,327.8 876.7,326.8 876.8,325.8 876.8,324.8 876.9,323.9 877.0,322.9 877.0,321.9 877.1,320.9 877.2,319.9 877.2,318.9 877.3,317.9 877.3,316.9 877.4,315.9 877.4,314.8 877.5,313.8 877.5,312.8 877.6,311.8 877.6,310.8 877.6,309.8 877.7,308.8 877.7,307.8 877.7,306.8 877.8,305.8 877.8,304.8 877.9,303.8 877.9,302.8 877.9,301.8 878.0,300.8 878.0,299.8 878.0,298.8 878.1,297.8 878.1,296.8 878.2,295.8 878.2,294.8 878.2,293.8 878.3,292.8 878.3,291.8 878.3,290.8 878.3,289.8 878.4,288.8 878.4,287.8 878.4,286.8 878.5,285.8 878.5,284.8 878.5,283.8 878.5,282.8 878.6,281.8 878.6,280.8 878.6,279.8 878.7,278.8 878.7,277.8 878.7,276.8 878.7,275.8 878.8,274.8 878.8,273.8 878.8,272.8 878.8,271.8 878.9,270.8 878.9,269.8 878.9,268.7 879.0,267.7 879.0,266.7 879.0,265.7 879.0,264.7 879.1,263.7 879.1,262.7 879.1,261.7 879.2,260.7 879.2,259.7 879.2,258.7 879.3,257.7 879.3,256.7 879.3,255.7 879.4,254.7 879.4,253.7 879.4,252.7 879.5,251.7 879.5,250.7 879.5,249.7 879.6,248.7 879.6,247.7 879.6,246.7 879.7,245.7 879.7,244.7 879.7,243.7 879.8,242.7 879.8,241.7 879.8,240.7 879.9,239.7 879.9,238.7 879.9,237.7 880.0,236.7 880.0,235.7 880.1,234.7 880.1,233.7 880.1,232.7 880.2,231.7 880.2,230.7 880.3,229.7 880.3,228.7 880.4,227.7 880.4,226.7 880.5,225.7 880.5,224.7 880.6,223.7 880.6,222.7 880.7,221.7 880.8,220.7 880.8,219.7 880.9,218.7 881.0,217.7 881.0,216.7 881.1,215.7 881.2,214.7 881.3,213.7 881.4,212.7 881.5,211.6 881.6,210.6 881.7,209.6 881.8,208.6 881.9,207.6 882.0,206.6 882.2,205.6 882.3,204.6 882.4,203.6 882.6,202.6 882.7,201.6 882.9,200.7 883.1,199.7 883.2,198.7 883.4,197.8 883.6,196.8 883.8,195.9 884.1,194.9 884.3,194.0 884.7,193.0 885.0,192.0 885.4,191.1 885.9,190.1 886.3,189.1 886.8,188.2 887.3,187.3 887.9,186.4 888.4,185.5 889.0,184.7 889.6,183.9 890.2,183.2 890.8,182.5 891.4,181.9 892.1,181.3 892.8,180.6 893.6,180.0 894.5,179.4 895.3,178.9 896.2,178.3 897.2,177.8 898.1,177.3 899.1,176.9 900.0,176.4 901.0,176.0 901.9,175.7 902.8,175.4 903.7,175.1 904.7,174.9 905.6,174.6 906.6,174.3 907.5,174.1 908.5,173.9 909.5,173.7 910.5,173.5 911.5,173.3 912.5,173.1 913.5,172.9 914.5,172.7 915.5,172.6 916.5,172.4 917.5,172.3 918.5,172.2 919.5,172.1 920.5,171.9 921.5,171.8 922.5,171.8 923.5,171.7 924.5,171.6 925.5,171.5 926.5,171.4 927.5,171.3 928.5,171.2 929.5,171.2 930.5,171.1 931.5,171.0 932.5,171.0 933.5,170.9 934.5,170.8 935.5,170.8 936.5,170.7 937.5,170.7 938.5,170.6 939.5,170.5 940.5,170.5 941.5,170.4 942.5,170.4 943.5,170.3 944.5,170.3 945.5,170.2 946.5,170.2 947.5,170.1 948.5,170.1 949.5,170.0 950.5,170.0 951.5,169.9 952.5,169.9 953.5,169.8 954.5,169.8 955.5,169.7 956.5,169.7 957.5,169.6 958.5,169.6 959.5,169.5 960.5,169.5 961.5,169.4 962.5,169.4 963.5,169.3 964.5,169.3 965.5,169.3 966.5,169.2 967.5,169.2 968.5,169.1 969.5,169.1 970.5,169.1 971.5,169.0 972.5,169.0 973.5,168.9 974.5,168.9 975.5,168.9 976.5,168.8 977.5,168.8" fill="none" stroke="#f00" stroke-width="9.2" stroke-linejoin="round" stroke-linecap="butt" clip-path="url(#clipa)"/>
<path d="M237.5,625.2 238.5,625.2 239.5,625.2 240.5,625.2 241.5,625.2 242.5,625.2 243.5,625.2 244.5,625.2 245.5,625.2 246.5,625.2 247.5,625.2 248.5,625.2 249.5,625.2 250.5,625.2 251.5,625.2 252.5,625.2 253.5,625.2 254.5,625.2 255.5,625.2 256.5,625.2 257.5,625.2 258.5,625.2 259.5,625.2 260.5,625.2 261.5,625.2 262.5,625.2 263.5,625.2 264.5,625.2 265.5,625.2 266.5,625.2 267.5,625.2 268.6,625.2 269.6,625.2 270.6,625.2 271.6,625.2 272.6,625.2 273.6,625.2 274.6,625.2 275.6,625.2 276.6,625.2 277.6,625.2 278.6,625.2 279.6,625.2 280.6,625.2 281.6,625.2 282.6,625.2 283.6,625.2 284.6,625.2 285.6,625.2 286.6,625.2 287.6,625.2 288.6,625.2 289.6,625.2 290.6,625.2 291.6,625.2 292.6,625.2 293.6,625.2 294.6,625.2 295.6,625.2 296.6,625.2 297.6,625.2 298.6,625.2 299.6,625.2 300.6,625.2 301.6,625.2 302.6,625.2 303.6,625.2 304.6,625.2 305.6,625.2 306.6,625.2 307.6,625.2 308.6,625.2 309.6,625.2 310.6,625.2 311.6,625.2 312.6,625.2 313.6,625.2 314.6,625.2 315.6,625.2 316.6,625.2 317.6,625.2 318.6,625.2 319.6,625.2 320.6,625.2 321.6,625.2 322.6,625.2 323.6,625.2 324.6,625.2 325.6,625.2 326.6,625.2 327.6,625.2 328.6,625.2 329.6,625.2 330.6,625.2 331.6,625.2 332.6,625.2 333.6,625.2 334.6,625.2 335.6,625.2 336.6,625.2 337.6,625.2 338.6,625.2 339.6,625.2 340.6,625.2 341.6,625.2 342.6,625.2 343.6,625.2 344.6,625.2 345.6,625.2 346.6,625.2 347.6,625.2 348.7,625.2 349.7,625.2 350.7,625.2 351.7,625.2 352.7,625.2 353.7,625.2 354.7,625.2 355.7,625.2 356.7,625.2 357.7,625.2 358.7,625.2 359.7,625.2 360.7,625.2 361.7,625.2 362.7,625.2 363.7,625.2 364.7,625.2 365.7,625.2 366.7,625.2 367.7,625.2 368.7,625.2 369.7,625.2 370.7,625.2 371.7,625.2 372.7,625.2 373.7,625.2 374.7,625.2 375.7,625.2 376.7,625.2 377.7,625.1 378.7,625.1 379.7,625.1 380.7,625.1 381.7,625.1 382.7,625.1 383.7,625.1 384.7,625.1 385.7,625.1 386.7,625.1 387.7,625.1 388.7,625.1 389.7,625.1 390.7,625.1 391.7,625.1 392.7,625.1 393.7,625.1 394.7,625.1 395.7,625.1 396.7,625.1 397.7,625.1 398.7,625.1 399.7,625.1 400.7,625.1 401.7,625.1 402.7,625.1 403.7,625.1 404.7,625.1 405.7,625.1 406.7,625.1 407.7,625.1 408.7,625.1 409.7,625.1 410.7,625.1 411.7,625.1 412.7,625.1 413.7,625.1 414.7,625.1 415.7,625.1 416.7,625.1 417.7,625.1 418.7,625.1 419.7,625.1 420.7,625.1 421.7,625.1 422.7,625.1 423.7,625.1 424.7,625.1 425.7,625.1 426.7,625.1 427.7,625.1 428.7,625.1 429.7,625.1 430.7,625.1 431.7,625.1 432.7,625.1 433.7,625.1 434.7,625.1 435.7,625.1 436.7,625.1 437.7,625.1 438.7,625.1 439.7,625.1 440.7,625.1 441.7,625.1 442.7,625.1 443.7,625.1 444.7,625.1 445.7,625.1 446.7,625.1 447.7,625.0 448.7,625.0 449.7,625.0 450.7,625.0 451.7,625.0 452.7,625.0 453.7,625.0 454.7,625.0 455.7,625.0 456.7,625.0 457.7,625.0 458.7,625.0 459.7,625.0 460.7,625.0 461.7,625.0 462.7,625.0 463.7,625.0 464.7,625.0 465.7,625.0 466.7,625.0 467.7,625.0 468.7,625.0 469.7,625.0 470.7,625.0 471.7,625.0 472.7,625.0 473.8,624.9 474.8,624.9 475.8,624.8 476.8,624.8 477.8,624.7 478.8,624.7 479.7,624.6 480.7,624.5 481.8,624.4 482.9,624.2 483.9,624.0 485.0,623.8 486.1,623.5 487.2,623.2 488.2,622.9 489.1,622.5 490.0,622.2 490.8,621.8 491.5,621.3 492.1,620.9 492.7,620.4 493.2,619.7 493.8,618.9 494.3,618.1 494.8,617.1 495.2,616.1 495.6,615.1 496.0,614.0 496.3,612.9 496.6,611.8 496.8,610.8 496.9,609.7 497.0,608.8 497.0,607.8 497.1,606.9 497.1,605.9 497.1,604.9 497.2,603.9 497.2,603.0 497.2,602.0 497.2,601.0 497.3,600.0 497.3,599.0 497.3,598.0 497.3,597.0 497.3,596.0 497.4,595.0 497.4,594.0 497.4,593.0 497.4,592.0 497.4,591.0 497.4,589.9 497.4,588.9 497.4,587.9 497.4,586.9 497.5,585.9 497.5,584.9 497.5,583.8 497.5,582.8 497.5,581.8 497.5,580.8 497.5,579.8 497.5,578.8 497.5,577.8 497.6,576.8 497.6,575.7 497.6,574.7 497.6,573.7 497.6,572.7 497.6,571.7 497.6,570.7 497.6,569.7 497.7,568.7 497.7,567.7 497.7,566.7 497.7,565.7 497.7,564.7 497.7,563.7 497.7,562.7 497.7,561.7 497.8,560.7 497.8,559.7 497.8,558.7 497.8,557.7 497.8,556.7 497.8,555.7 497.8,554.7 497.8,553.7 497.8,552.7 497.9,551.7 497.9,550.7 497.9,549.7 497.9,548.7 497.9,547.7 497.9,546.7 497.9,545.7 497.9,544.7 497.9,543.7 497.9,542.7 498.0,541.7 498.0,540.7 498.0,539.7 498.0,538.7 498.0,537.7 498.0,536.7 498.0,535.7 498.0,534.7 498.0,533.7 498.1,532.7 498.1,531.7 498.1,530.7 498.1,529.7 498.1,528.7 498.1,527.7 498.1,526.7 498.2,525.7 498.2,524.7 498.2,523.7 498.2,522.7 498.2,521.7 498.2,520.7 498.3,519.7 498.3,518.7 498.3,517.7 498.3,516.7 498.3,515.7 498.4,514.7 498.4,513.7 498.4,512.7 498.4,511.7 498.5,510.7 498.5,509.7 498.5,508.7 498.6,507.7 498.6,506.7 498.6,505.7 498.7,504.7 498.7,503.7 498.8,502.7 498.8,501.7 498.9,500.7 498.9,499.7 499.0,498.7 499.1,497.7 499.1,496.7 499.2,495.7 499.2,494.7 499.3,493.7 499.4,492.7 499.5,491.7 499.5,490.7 499.6,489.7 499.7,488.7 499.7,487.7 499.8,486.7 499.9,485.7 500.0,484.7 500.1,483.7 500.1,482.7 500.2,481.7 500.3,480.7 500.4,479.7 500.5,478.7 500.6,477.7 500.7,476.7 500.8,475.7 500.8,474.7 500.9,473.7 501.0,472.7 501.1,471.7 501.2,470.7 501.3,469.7 501.4,468.7 501.5,467.7 501.6,466.7 501.7,465.7 501.8,464.7 501.9,463.6 502.0,462.6 502.1,461.6 502.2,460.6 502.4,459.6 502.5,458.6 502.6,457.6 502.8,456.6 502.9,455.6 503.1,454.6 503.2,453.6 503.4,452.6 503.6,451.6 503.7,450.6 503.9,449.7 504.1,448.7 504.3,447.8 504.5,446.8 504.8,445.9 505.0,445.0 505.3,444.0 505.7,442.9 506.1,441.8 506.7,440.6 507.2,439.5 507.8,438.4 508.4,437.3 509.0,436.4 509.6,435.6 510.1,435.0 510.6,434.6 511.0,434.5 511.3,434.6 511.7,434.9 512.0,435.3 512.3,435.9 512.6,436.6 512.9,437.5 513.2,438.5 513.5,439.5 513.8,440.7 514.0,441.9 514.3,443.1 514.5,444.4 514.8,445.7 515.0,446.9 515.2,448.2 515.4,449.4 515.6,450.6 515.8,451.8 516.0,452.8 516.1,453.8 516.3,454.8 516.4,455.8 516.6,456.7 516.7,457.7 516.8,458.7 517.0,459.7 517.1,460.7 517.2,461.7 517.3,462.7 517.4,463.7 517.5,464.7 517.6,465.7 517.7,466.7 517.8,467.7 517.9,468.7 518.1,469.7 518.2,470.7 518.3,471.7 518.4,472.7 518.5,473.7 518.7,474.7 518.8,475.7 518.9,476.6 519.1,477.6 519.3,478.6 519.4,479.6 519.6,480.6 519.7,481.6 519.9,482.6 520.0,483.6 520.2,484.6 520.4,485.6 520.5,486.6 520.7,487.6 520.9,488.6 521.1,489.6 521.3,490.6 521.5,491.6 521.8,492.5 522.0,493.5 522.3,494.4 522.5,495.4 522.8,496.3 523.1,497.2 523.4,498.2 523.8,499.1 524.2,500.0 524.6,500.9 525.1,501.8 525.6,502.7 526.1,503.6 526.7,504.5 527.2,505.3 527.8,506.2 528.4,507.0 529.0,507.8 529.6,508.5 530.2,509.3 530.9,510.0 531.6,510.7 532.3,511.4 533.0,512.1 533.8,512.7 534.6,513.4 535.4,514.0 536.3,514.6 537.1,515.2 538.0,515.8 538.8,516.3 539.7,516.8 540.5,517.3 541.4,517.7 542.2,518.2 543.1,518.6 544.0,519.0 545.0,519.4 545.9,519.8 546.8,520.1 547.8,520.5 548.7,520.8 549.7,521.2 550.6,521.5 551.6,521.9 552.6,522.2 553.5,522.5 554.5,522.9 555.4,523.2 556.4,523.5 557.3,523.8 558.3,524.2 559.2,524.4 560.2,524.7 561.2,525.0 562.1,525.3 563.1,525.6 564.1,525.9 565.1,526.1 566.0,526.4 567.0,526.8 567.9,527.1 568.8,527.5 569.7,527.9 570.6,528.3 571.5,528.7 572.4,529.2 573.3,529.8 574.1,530.4 574.9,531.0 575.6,531.6 576.3,532.3 576.8,533.1 577.3,534.1 577.7,535.1 578.2,536.1 578.6,537.1 579.1,537.9 579.6,538.7 580.3,539.2 581.0,539.7 581.9,540.2 582.8,540.7 583.8,541.1 584.8,541.4 585.8,541.7 586.9,541.9 587.9,542.0 588.8,542.0 589.8,541.9 590.8,541.7 591.8,541.5 592.8,541.3 593.8,541.2 594.8,541.1 595.8,541.0 596.8,541.1 597.7,541.3 598.6,541.6 599.6,542.1 600.5,542.6 601.4,543.0 602.4,543.5 603.3,543.8 604.3,544.1 605.2,544.2 606.2,544.4 607.2,544.6 608.2,544.8 609.2,544.9 610.1,545.1 611.1,545.2 612.1,545.3 613.1,545.5 614.2,545.6 615.2,545.7 616.2,545.8 617.2,545.8 618.2,545.9 619.2,546.0 620.2,546.0 621.2,546.0 622.2,546.1 623.2,546.1 624.2,546.1 625.2,546.2 626.2,546.2 627.2,546.2 628.2,546.3 629.2,546.3 630.2,546.3 631.2,546.4 632.2,546.4 633.2,546.4 634.2,546.4 635.2,546.4 636.2,546.5 637.2,546.5 638.2,546.5 639.2,546.5 640.2,546.5 641.2,546.5 642.2,546.6 643.2,546.6 644.2,546.6 645.2,546.6 646.2,546.6 647.2,546.6 648.2,546.6 649.2,546.6 650.2,546.6 651.2,546.6 652.2,546.6 653.2,546.5 654.2,546.5 655.2,546.4 656.2,546.4 657.2,546.3 658.2,546.2 659.2,546.1 660.2,546.0 661.2,545.9 662.2,545.8 663.2,545.7 664.2,545.6 665.2,545.5 666.2,545.4 667.2,545.3 668.2,545.2 669.1,545.1 670.1,545.0 671.1,544.9 672.1,544.8 673.1,544.7 674.1,544.6 675.1,544.5 676.1,544.3 677.1,544.2 678.1,544.1 679.1,544.0 680.1,543.8 681.1,543.7 682.1,543.6 683.1,543.4 684.1,543.3 685.1,543.1 686.1,543.0 687.0,542.8 688.0,542.7 689.0,542.5 690.0,542.4 691.0,542.2 692.0,542.0 693.0,541.8 694.0,541.6 695.0,541.5 696.0,541.3 697.1,541.1 698.1,540.9 699.1,540.6 700.1,540.4 701.1,540.1 702.0,539.8 702.9,539.5 703.7,539.1 704.5,538.7 705.2,538.2 705.8,537.5 706.5,536.6 707.1,535.8 707.7,534.9 708.3,534.0 708.9,533.2 709.5,532.3 710.0,531.5 710.6,530.5 711.1,529.6 711.7,528.7 712.2,527.8 712.8,527.1 713.5,526.4 714.2,525.9 714.9,525.5 715.7,525.1 716.6,524.7 717.6,524.4 718.5,524.1 719.5,523.8 720.5,523.5 721.6,523.3 722.6,523.0 723.6,522.7 724.6,522.4 725.6,522.1 726.5,521.8 727.5,521.5 728.4,521.2 729.4,520.9 730.4,520.5 731.3,520.2 732.3,519.9 733.2,519.6 734.2,519.3 735.1,518.9 736.1,518.6 737.0,518.2 737.9,517.9 738.8,517.5 739.7,517.1 740.7,516.7 741.6,516.3 742.5,515.8 743.4,515.4 744.3,514.9 745.2,514.5 746.1,514.0 747.0,513.4 747.8,512.9 748.7,512.4 749.5,511.8 750.3,511.3 751.1,510.7 751.9,510.1 752.6,509.5 753.4,508.8 754.1,508.2 754.9,507.4 755.6,506.7 756.3,506.0 757.0,505.2 757.7,504.4 758.3,503.6 758.9,502.8 759.4,502.0 759.9,501.2 760.4,500.3 760.8,499.4 761.2,498.6 761.6,497.7 762.0,496.7 762.4,495.8 762.7,494.8 763.0,493.9 763.4,492.9 763.7,491.9 764.0,490.9 764.2,490.0 764.5,489.0 764.8,488.0 765.0,487.0 765.2,486.1 765.4,485.1 765.6,484.1 765.8,483.2 766.0,482.2 766.2,481.2 766.4,480.2 766.6,479.2 766.8,478.2 767.0,477.3 767.1,476.3 767.3,475.3 767.4,474.3 767.6,473.3 767.7,472.3 767.9,471.3 768.0,470.3 768.2,469.3 768.3,468.3 768.4,467.3 768.6,466.3 768.7,465.3 768.8,464.3 769.0,463.3 769.1,462.3 769.2,461.4 769.3,460.4 769.4,459.4 769.5,458.4 769.6,457.4 769.7,456.4 769.8,455.4 769.9,454.4 770.0,453.4 770.1,452.4 770.2,451.4 770.3,450.4 770.4,449.4 770.5,448.4 770.6,447.4 770.7,446.4 770.8,445.4 770.9,444.4 771.0,443.4 771.1,442.4 771.2,441.4 771.3,440.4 771.4,439.4 771.5,438.4 771.6,437.4 771.7,436.4 771.8,435.4 771.8,434.4 771.9,433.4 772.0,432.4 772.1,431.4 772.2,430.4 772.3,429.4 772.4,428.4 772.5,427.4 772.5,426.4 772.7,425.4 772.8,424.4 772.9,423.4 773.0,422.4 773.2,421.4 773.3,420.5 773.5,419.5 773.7,418.5 774.0,417.4 774.4,416.3 774.9,415.1 775.4,414.0 775.9,413.0 776.4,412.4 776.9,412.0 777.3,412.1 777.7,412.6 778.2,413.4 778.6,414.5 779.0,415.6 779.4,416.9 779.7,418.0 780.0,419.1 780.3,420.0 780.5,421.0 780.7,422.0 780.9,422.9 781.0,423.9 781.2,424.9 781.3,425.9 781.5,426.9 781.6,427.9 781.8,428.9 781.9,429.9 782.1,430.9 782.2,431.9 782.4,432.9 782.5,433.9 782.7,434.9 782.8,435.9 783.0,436.9 783.1,437.9 783.2,438.9 783.4,439.9 783.5,441.0 783.6,442.0 783.8,443.0 783.9,444.0 784.0,445.0 784.2,446.0 784.3,447.0 784.5,448.0 784.6,449.0 784.8,450.0 785.0,450.9 785.2,451.9 785.4,452.8 785.6,453.7 785.9,454.7 786.2,455.6 786.6,456.6 787.0,457.7 787.6,458.8 788.2,459.9 788.8,460.9 789.5,461.9 790.1,462.7 790.7,463.4 791.3,463.8 791.9,464.0 792.4,463.9 793.0,463.6 793.6,463.0 794.1,462.3 794.7,461.4 795.3,460.4 795.8,459.3 796.3,458.2 796.8,457.0 797.2,455.9 797.6,454.7 797.9,453.7 798.1,452.7 798.2,451.8 798.4,450.8 798.5,449.9 798.6,448.9 798.7,447.9 798.8,446.9 798.9,445.9 799.0,444.9 799.1,443.9 799.2,442.9 799.3,441.9 799.4,440.9 799.4,439.9 799.5,438.8 799.6,437.8 799.7,436.8 799.7,435.8 799.8,434.8 799.9,433.8 800.0,432.8 800.1,431.8 800.2,430.8 800.3,429.8 800.4,428.8 800.5,427.8 800.6,426.8 800.6,425.8 800.7,424.8 800.8,423.8 800.9,422.8 801.0,421.8 801.1,420.8 801.2,419.8 801.4,418.8 801.5,417.8 801.6,416.8 801.8,415.8 801.9,414.8 802.1,413.8 802.3,412.8 802.5,411.8 802.8,410.8 803.0,409.8 803.3,408.8 803.6,407.9 804.0,407.1 804.4,406.3 804.9,405.4 805.5,404.5 806.3,403.7 807.0,402.9 807.8,402.2 808.7,401.6 809.5,401.2 810.3,400.9 811.2,400.6 812.0,400.4 812.9,400.2 813.9,400.0 814.8,399.9 815.8,399.7 816.8,399.6 817.8,399.5 818.8,399.4 819.9,399.3 820.9,399.2 822.0,399.0 823.0,398.9 824.1,398.8 825.1,398.7 826.2,398.6 827.2,398.5 828.2,398.3 829.2,398.1 830.2,398.0 831.2,397.8 832.2,397.6 833.2,397.4 834.1,397.2 835.1,396.9 836.1,396.7 837.1,396.5 838.0,396.2 839.0,395.9 839.9,395.6 840.9,395.3 841.9,394.9 842.9,394.6 843.8,394.1 844.8,393.7 845.7,393.2 846.6,392.7 847.3,392.1 848.0,391.5 848.5,390.9 849.1,390.1 849.7,389.3 850.2,388.4 850.7,387.4 851.1,386.4 851.5,385.4 851.7,384.4 851.9,383.4 852.1,382.5 852.1,381.5 852.2,380.5 852.3,379.5 852.3,378.5 852.4,377.5 852.4,376.5 852.4,375.5 852.5,374.5 852.5,373.5 852.5,372.4 852.6,371.4 852.6,370.4 852.6,369.4 852.7,368.4 852.7,367.4 852.8,366.4 852.9,365.4 853.0,364.4 853.1,363.5 853.3,362.5 853.6,361.5 853.9,360.5 854.3,359.6 854.8,358.6 855.3,357.7 855.9,356.9 856.4,356.1 856.9,355.3 857.6,354.6 858.3,354.0 859.0,353.4 859.8,352.8 860.7,352.2 861.6,351.6 862.5,351.1 863.3,350.5 864.2,349.9 865.0,349.3 865.9,348.8 866.8,348.2 867.7,347.6 868.6,347.1 869.5,346.5 870.4,345.9 871.2,345.3 871.9,344.7 872.5,344.0 872.9,343.3 873.3,342.5 873.7,341.7 874.0,340.8 874.3,339.9 874.7,338.9 874.9,337.9 875.2,336.9 875.5,335.8 875.7,334.8 875.9,333.8 876.1,332.7 876.2,331.7 876.3,330.7 876.4,329.7 876.5,328.7 876.6,327.7 876.7,326.7 876.8,325.7 876.8,324.8 876.9,323.8 877.0,322.8 877.1,321.8 877.1,320.8 877.2,319.8 877.2,318.8 877.3,317.8 877.3,316.8 877.4,315.8 877.4,314.8 877.5,313.8 877.5,312.7 877.6,311.7 877.6,310.7 877.6,309.7 877.7,308.7 877.7,307.7 877.8,306.7 877.8,305.7 877.8,304.7 877.9,303.7 877.9,302.7 877.9,301.7 878.0,300.7 878.0,299.7 878.0,298.7 878.1,297.7 878.1,296.7 878.2,295.7 878.2,294.7 878.2,293.7 878.3,292.7 878.3,291.7 878.3,290.7 878.4,289.7 878.4,288.7 878.4,287.7 878.4,286.7 878.5,285.7 878.5,284.7 878.5,283.7 878.6,282.7 878.6,281.7 878.6,280.7 878.6,279.7 878.7,278.7 878.7,277.7 878.7,276.7 878.7,275.7 878.8,274.7 878.8,273.7 878.8,272.7 878.8,271.7 878.9,270.7 878.9,269.7 878.9,268.7 879.0,267.7 879.0,266.7 879.0,265.7 879.0,264.7 879.1,263.7 879.1,262.7 879.1,261.7 879.2,260.7 879.2,259.7 879.2,258.7 879.3,257.7 879.3,256.7 879.3,255.7 879.4,254.7 879.4,253.7 879.4,252.7 879.5,251.7 879.5,250.7 879.5,249.7 879.6,248.7 879.6,247.7 879.6,246.7 879.7,245.7 879.7,244.7 879.7,243.7 879.8,242.7 879.8,241.7 879.8,240.6 879.9,239.6 879.9,238.6 879.9,237.6 880.0,236.6 880.0,235.6 880.1,234.6 880.1,233.6 880.1,232.6 880.2,231.6 880.2,230.6 880.3,229.6 880.3,228.6 880.4,227.6 880.4,226.6 880.5,225.6 880.5,224.7 880.6,223.7 880.6,222.7 880.7,221.7 880.8,220.7 880.8,219.7 880.9,218.7 881.0,217.7 881.0,216.7 881.1,215.6 881.2,214.6 881.3,213.6 881.4,212.6 881.5,211.6 881.6,210.6 881.7,209.6 881.8,208.6 881.9,207.6 882.0,206.5 882.2,205.5 882.3,204.5 882.4,203.6 882.6,202.6 882.7,201.6 882.9,200.6 883.1,199.6 883.3,198.7 883.4,197.7 883.6,196.8 883.8,195.8 884.1,194.9 884.4,193.9 884.7,193.0 885.0,192.0 885.4,191.0 885.9,190.1 886.3,189.1 886.8,188.2 887.3,187.3 887.9,186.4 888.4,185.5 889.0,184.7 889.6,183.9 890.2,183.2 890.8,182.5 891.4,181.9 892.1,181.2 892.9,180.6 893.7,180.0 894.5,179.4 895.4,178.8 896.3,178.3 897.2,177.8 898.1,177.3 899.1,176.8 900.0,176.4 901.0,176.0 901.9,175.7 902.8,175.4 903.8,175.1 904.7,174.8 905.6,174.6 906.6,174.3 907.6,174.1 908.6,173.9 909.5,173.7 910.5,173.4 911.5,173.2 912.5,173.1 913.5,172.9 914.5,172.7 915.5,172.6 916.5,172.4 917.5,172.3 918.5,172.2 919.5,172.0 920.5,171.9 921.5,171.8 922.5,171.7 923.5,171.7 924.5,171.6 925.5,171.5 926.5,171.4 927.5,171.3 928.5,171.2 929.5,171.2 930.5,171.1 931.5,171.0 932.5,171.0 933.5,170.9 934.5,170.8 935.5,170.8 936.5,170.7 937.5,170.7 938.5,170.6 939.5,170.5 940.5,170.5 941.5,170.4 942.5,170.4 943.5,170.3 944.5,170.3 945.5,170.2 946.5,170.2 947.5,170.1 948.5,170.1 949.5,170.0 950.5,170.0 951.5,169.9 952.5,169.9 953.5,169.8 954.5,169.8 955.5,169.7 956.5,169.7 957.5,169.6 958.5,169.6 959.5,169.5 960.5,169.5 961.5,169.4 962.5,169.4 963.5,169.3 964.5,169.3 965.5,169.3 966.5,169.2 967.5,169.2 968.5,169.1 969.5,169.1 970.5,169.1 971.5,169.0 972.5,169.0 973.5,168.9 974.5,168.9 975.5,168.9 976.5,168.8 977.5,168.8" fill="none" stroke="#0f0" stroke-width="9.2" stroke-linejoin="round" stroke-linecap="butt" clip-path="url(#clipa)"/>
<path d="M237.5,624.8 238.5,624.8 239.5,624.8 240.6,624.8 241.6,624.8 242.6,624.8 243.6,624.8 244.6,624.8 245.7,624.8 246.7,624.8 247.7,624.8 248.7,624.8 249.7,624.8 250.8,624.8 251.8,624.8 252.8,624.8 253.8,624.8 254.8,624.8 255.9,624.8 256.9,624.8 257.9,624.8 258.9,624.8 259.9,624.8 260.9,624.8 262.0,624.8 263.0,624.8 264.0,624.8 265.0,624.8 266.0,624.8 267.0,624.8 268.0,624.8 269.1,624.8 270.1,624.8 271.1,624.8 272.1,624.8 273.1,624.8 274.1,624.8 275.1,624.8 276.2,624.8 277.2,624.8 278.2,624.8 279.2,624.8 280.2,624.8 281.2,624.8 282.2,624.8 283.2,624.8 284.3,624.8 285.3,624.8 286.3,624.8 287.3,624.8 288.3,624.8 289.3,624.8 290.3,624.8 291.3,624.8 292.3,624.8 293.4,624.8 294.4,624.8 295.4,624.8 296.4,624.8 297.4,624.8 298.4,624.8 299.4,624.8 300.4,624.8 301.4,624.8 302.4,624.8 303.4,624.8 304.4,624.8 305.5,624.8 306.5,624.8 307.5,624.8 308.5,624.8 309.5,624.8 310.5,624.8 311.5,624.8 312.5,624.8 313.5,624.8 314.5,624.8 315.5,624.8 316.5,624.8 317.5,624.8 318.5,624.8 319.5,624.8 320.5,624.8 321.5,624.8 322.6,624.8 323.6,624.8 324.6,624.8 325.6,624.8 326.6,624.8 327.6,624.8 328.6,624.8 329.6,624.8 330.6,624.8 331.6,624.8 332.6,624.8 333.6,624.8 334.6,624.8 335.6,624.8 336.6,624.8 337.6,624.8 338.6,624.8 339.6,624.8 340.6,624.8 341.6,624.7 342.6,624.7 343.6,624.7 344.6,624.7 345.6,624.7 346.6,624.7 347.6,624.7 348.6,624.7 349.6,624.7 350.6,624.7 351.6,624.7 352.6,624.7 353.6,624.7 354.6,624.7 355.6,624.7 356.6,624.7 357.6,624.7 358.6,624.7 359.6,624.7 360.6,624.7 361.6,624.7 362.6,624.7 363.6,624.7 364.6,624.7 365.6,624.7 366.6,624.7 367.6,624.7 368.6,624.7 369.6,624.7 370.6,624.7 371.6,624.7 372.6,624.7 373.6,624.7 374.6,624.7 375.6,624.7 376.5,624.7 377.5,624.7 378.5,624.7 379.5,624.7 380.5,624.7 381.5,624.7 382.5,624.7 383.5,624.7 384.5,624.7 385.5,624.7 386.5,624.7 387.5,624.7 388.5,624.7 389.5,624.7 390.5,624.7 391.5,624.7 392.5,624.7 393.5,624.7 394.5,624.6 395.4,624.6 396.4,624.6 397.4,624.6 398.4,624.6 399.4,624.6 400.4,624.6 401.4,624.6 402.4,624.6 403.4,624.6 404.4,624.6 405.4,624.6 406.4,624.6 407.4,624.6 408.3,624.6 409.3,624.6 410.3,624.6 411.3,624.6 412.3,624.6 413.3,624.6 414.3,624.6 415.3,624.6 416.3,624.6 417.3,624.6 418.3,624.6 419.3,624.6 420.2,624.6 421.2,624.6 422.2,624.6 423.2,624.6 424.2,624.6 425.2,624.6 426.2,624.5 427.2,624.5 428.2,624.5 429.2,624.5 430.1,624.5 431.1,624.5 432.1,624.5 433.1,624.5 434.1,624.5 435.1,624.5 436.1,624.5 437.1,624.5 438.1,624.5 439.0,624.5 440.0,624.5 441.0,624.5 442.0,624.5 443.0,624.5 444.0,624.5 445.0,624.5 446.0,624.5 447.0,624.5 447.9,624.5 448.9,624.5 449.9,624.4 450.9,624.4 451.9,624.4 452.9,624.4 453.9,624.4 454.9,624.4 455.8,624.4 456.8,624.4 457.8,624.4 458.8,624.4 459.8,624.4 460.8,624.4 461.8,624.3 462.8,624.3 463.9,624.2 465.0,624.0 466.0,623.9 467.1,623.7 468.1,623.5 469.2,623.3 470.2,623.0 471.2,622.7 472.1,622.5 473.1,622.2 474.0,621.8 474.8,621.5 475.6,621.2 476.3,620.8 477.1,620.3 477.8,619.7 478.5,619.0 479.2,618.1 479.9,617.2 480.5,616.3 481.0,615.3 481.5,614.4 481.8,613.5 482.1,612.6 482.4,611.7 482.6,610.8 482.8,609.8 483.0,608.9 483.1,607.9 483.3,606.9 483.4,605.9 483.6,604.9 483.7,603.9 483.8,602.9 484.0,601.9 484.1,600.9 484.2,599.8 484.3,598.8 484.4,597.8 484.5,596.8 484.7,595.7 484.8,594.7 484.9,593.7 485.0,592.7 485.2,591.7 485.3,590.7 485.4,589.7 485.5,588.7 485.6,587.7 485.7,586.7 485.9,585.7 486.0,584.7 486.1,583.7 486.2,582.7 486.3,581.7 486.4,580.7 486.5,579.8 486.6,578.8 486.7,577.8 486.8,576.8 487.0,575.8 487.1,574.8 487.2,573.8 487.4,572.8 487.5,571.8 487.7,570.8 487.8,569.9 488.0,568.9 488.2,567.9 488.4,566.8 488.6,565.8 488.9,564.7 489.1,563.7 489.4,562.7 489.7,561.7 490.1,560.8 490.4,559.9 490.9,559.2 491.4,558.5 492.2,557.8 493.2,557.2 494.2,556.8 495.0,556.6 495.8,556.8 496.6,557.4 497.4,558.2 498.1,559.2 498.6,560.2 499.0,561.1 499.3,561.9 499.6,562.8 499.9,563.7 500.1,564.7 500.3,565.6 500.5,566.6 500.6,567.6 500.8,568.6 501.0,569.7 501.1,570.7 501.2,571.7 501.4,572.8 501.5,573.8 501.7,574.8 501.8,575.8 502.0,576.8 502.1,577.8 502.3,578.8 502.4,579.8 502.6,580.8 502.7,581.8 502.9,582.8 503.0,583.8 503.1,584.8 503.2,585.8 503.4,586.8 503.5,587.8 503.6,588.8 503.8,589.8 503.9,590.7 504.1,591.7 504.2,592.7 504.4,593.7 504.6,594.7 504.7,595.7 504.9,596.6 505.1,597.6 505.3,598.6 505.5,599.7 505.8,600.7 506.0,601.7 506.3,602.8 506.6,603.7 506.9,604.7 507.2,605.6 507.7,606.4 508.1,607.2 508.9,608.0 509.7,608.5 510.5,608.5 511.2,607.9 512.0,607.0 512.6,606.0 513.0,605.0 513.3,604.2 513.5,603.3 513.8,602.3 514.0,601.4 514.1,600.4 514.3,599.4 514.5,598.4 514.6,597.4 514.8,596.4 514.9,595.4 515.0,594.3 515.1,593.3 515.2,592.3 515.3,591.2 515.5,590.2 515.6,589.2 515.7,588.2 515.8,587.2 515.9,586.2 516.0,585.2 516.1,584.2 516.2,583.2 516.3,582.2 516.4,581.3 516.5,580.3 516.6,579.3 516.7,578.3 516.8,577.3 516.9,576.3 516.9,575.3 517.0,574.3 517.1,573.3 517.2,572.3 517.3,571.3 517.4,570.3 517.4,569.3 517.5,568.3 517.6,567.3 517.7,566.3 517.8,565.3 517.9,564.3 518.0,563.3 518.1,562.3 518.2,561.3 518.3,560.3 518.3,559.3 518.4,558.3 518.5,557.3 518.6,556.3 518.7,555.3 518.8,554.3 518.9,553.3 519.0,552.3 519.1,551.3 519.2,550.3 519.3,549.3 519.4,548.3 519.5,547.3 519.6,546.3 519.7,545.3 519.8,544.3 520.0,543.4 520.1,542.4 520.2,541.4 520.4,540.4 520.5,539.4 520.6,538.4 520.8,537.4 521.0,536.4 521.1,535.4 521.3,534.4 521.5,533.4 521.7,532.4 521.9,531.4 522.1,530.5 522.3,529.5 522.6,528.5 522.8,527.6 523.1,526.6 523.4,525.7 523.8,524.8 524.1,523.8 524.6,522.9 525.0,522.0 525.5,521.1 526.0,520.2 526.5,519.3 527.0,518.5 527.6,517.6 528.1,516.8 528.7,516.0 529.3,515.3 530.0,514.5 530.7,513.8 531.4,513.0 532.1,512.3 532.8,511.6 533.6,511.0 534.4,510.3 535.2,509.7 535.9,509.1 536.7,508.5 537.5,507.9 538.3,507.3 539.2,506.8 540.0,506.2 540.9,505.7 541.8,505.2 542.7,504.7 543.6,504.2 544.4,503.7 545.3,503.3 546.2,502.9 547.1,502.5 548.1,502.1 549.0,501.7 549.9,501.4 550.9,501.1 551.8,500.7 552.8,500.4 553.7,500.1 554.7,499.8 555.6,499.5 556.6,499.1 557.5,498.8 558.5,498.5 559.5,498.2 560.4,497.9 561.4,497.6 562.3,497.3 563.3,497.0 564.3,496.7 565.2,496.4 566.2,496.1 567.2,495.8 568.1,495.4 569.0,495.1 569.9,494.7 570.8,494.2 571.7,493.7 572.6,493.1 573.4,492.5 574.2,491.9 574.8,491.2 575.4,490.5 575.8,489.6 576.1,488.6 576.5,487.6 576.8,486.6 577.2,485.6 577.6,484.7 578.1,483.9 578.7,483.1 579.4,482.4 580.2,481.7 581.0,481.1 581.9,480.6 582.8,480.3 583.7,480.0 584.7,479.8 585.7,479.5 586.7,479.3 587.7,479.2 588.7,479.1 589.7,479.0 590.7,479.0 591.7,479.2 592.7,479.4 593.7,479.7 594.7,479.9 595.7,480.0 596.6,479.9 597.5,479.6 598.4,479.2 599.4,478.6 600.3,478.1 601.2,477.7 602.1,477.4 603.1,477.2 604.0,477.0 605.0,476.9 606.0,476.7 607.0,476.6 608.0,476.4 609.0,476.3 610.0,476.2 611.0,476.1 612.0,476.0 613.0,475.9 614.0,475.8 615.0,475.7 616.0,475.7 617.0,475.6 618.0,475.5 619.0,475.5 620.0,475.4 621.0,475.3 622.0,475.3 623.0,475.2 624.0,475.1 625.0,475.1 626.0,475.0 627.0,475.0 628.0,474.9 629.0,474.8 630.0,474.8 631.0,474.7 632.0,474.7 633.0,474.6 634.0,474.6 635.0,474.5 636.0,474.5 637.0,474.4 638.0,474.4 639.0,474.4 640.0,474.3 641.0,474.3 642.0,474.3 643.0,474.3 644.0,474.2 645.0,474.2 646.0,474.2 647.0,474.2 648.0,474.2 649.0,474.2 650.0,474.2 651.0,474.2 652.0,474.2 653.1,474.3 654.1,474.3 655.1,474.3 656.1,474.3 657.1,474.4 658.1,474.4 659.1,474.4 660.1,474.5 661.1,474.5 662.1,474.6 663.1,474.6 664.1,474.7 665.1,474.7 666.1,474.8 667.1,474.8 668.1,474.9 669.1,474.9 670.1,475.0 671.1,475.1 672.1,475.1 673.1,475.2 674.0,475.3 675.0,475.4 676.0,475.5 677.0,475.6 678.0,475.7 679.0,475.8 680.0,475.9 681.0,476.1 682.0,476.2 683.0,476.3 684.0,476.5 685.0,476.6 686.0,476.8 687.0,476.9 688.0,477.1 689.0,477.2 689.9,477.4 690.9,477.5 691.9,477.7 692.9,477.9 693.9,478.0 694.9,478.2 696.0,478.4 696.9,478.6 697.9,478.8 698.9,479.1 699.9,479.3 700.8,479.6 701.7,479.9 702.6,480.2 703.5,480.7 704.4,481.2 705.3,481.7 706.2,482.3 706.9,483.0 707.7,483.6 708.3,484.3 708.8,485.2 709.3,486.1 709.7,487.1 710.2,488.1 710.6,489.1 711.1,490.0 711.6,490.7 712.3,491.2 713.0,491.7 713.9,492.1 714.8,492.4 715.8,492.8 716.9,493.1 717.9,493.4 718.9,493.7 719.9,494.0 720.9,494.3 721.8,494.6 722.8,494.8 723.7,495.1 724.7,495.4 725.7,495.6 726.6,495.9 727.6,496.1 728.6,496.4 729.6,496.7 730.5,496.9 731.5,497.2 732.4,497.5 733.4,497.8 734.3,498.1 735.3,498.4 736.2,498.8 737.2,499.1 738.1,499.5 739.1,499.8 740.0,500.2 741.0,500.6 741.9,501.0 742.9,501.4 743.8,501.8 744.7,502.2 745.6,502.6 746.4,503.1 747.3,503.6 748.1,504.1 748.9,504.6 749.7,505.2 750.6,505.7 751.4,506.4 752.1,507.0 752.9,507.7 753.7,508.4 754.4,509.1 755.1,509.8 755.9,510.5 756.5,511.3 757.2,512.0 757.8,512.8 758.4,513.5 759.0,514.3 759.6,515.1 760.2,516.0 760.7,516.8 761.3,517.7 761.8,518.6 762.3,519.4 762.8,520.3 763.2,521.2 763.6,522.1 764.0,523.1 764.4,524.0 764.7,524.9 765.0,525.8 765.4,526.8 765.7,527.7 766.0,528.7 766.2,529.7 766.5,530.6 766.8,531.6 767.0,532.6 767.3,533.6 767.5,534.6 767.7,535.5 767.9,536.5 768.1,537.5 768.3,538.5 768.5,539.5 768.6,540.4 768.8,541.4 769.0,542.4 769.1,543.4 769.3,544.4 769.4,545.4 769.6,546.4 769.7,547.4 769.9,548.4 770.0,549.4 770.1,550.4 770.3,551.4 770.4,552.3 770.5,553.3 770.6,554.3 770.8,555.3 770.9,556.3 771.0,557.3 771.2,558.3 771.3,559.3 771.4,560.3 771.5,561.3 771.6,562.3 771.8,563.3 771.9,564.3 772.0,565.3 772.1,566.3 772.2,567.3 772.3,568.3 772.5,569.3 772.6,570.3 772.7,571.2 772.9,572.2 773.0,573.2 773.2,574.3 773.4,575.5 773.6,576.7 773.8,578.0 774.0,579.3 774.2,580.6 774.5,581.8 774.7,582.9 775.0,583.9 775.2,584.8 775.5,585.4 775.7,585.8 776.0,586.0 776.2,585.9 776.5,585.5 776.8,585.0 777.2,584.2 777.5,583.3 777.8,582.2 778.2,581.0 778.5,579.8 778.8,578.5 779.1,577.3 779.4,576.0 779.7,574.8 779.9,573.7 780.1,572.7 780.2,571.7 780.4,570.7 780.5,569.8 780.7,568.8 780.8,567.8 781.0,566.8 781.1,565.8 781.2,564.8 781.3,563.8 781.4,562.8 781.6,561.8 781.7,560.8 781.8,559.8 781.9,558.8 782.0,557.8 782.1,556.8 782.2,555.8 782.2,554.8 782.3,553.8 782.4,552.8 782.5,551.8 782.6,550.8 782.7,549.8 782.8,548.8 782.8,547.8 782.9,546.8 783.0,545.8 783.1,544.8 783.1,543.8 783.2,542.8 783.3,541.8 783.3,540.8 783.4,539.8 783.5,538.8 783.5,537.8 783.6,536.8 783.7,535.8 783.7,534.8 783.8,533.8 783.9,532.8 783.9,531.8 784.0,530.8 784.0,529.8 784.1,528.8 784.1,527.8 784.2,526.8 784.3,525.8 784.3,524.8 784.4,523.8 784.4,522.8 784.5,521.8 784.5,520.8 784.6,519.8 784.6,518.8 784.6,517.8 784.7,516.8 784.7,515.8 784.8,514.8 784.8,513.8 784.9,512.8 784.9,511.8 784.9,510.8 785.0,509.8 785.0,508.8 785.1,507.8 785.1,506.8 785.1,505.8 785.2,504.8 785.2,503.8 785.3,502.8 785.3,501.8 785.3,500.8 785.4,499.8 785.4,498.8 785.4,497.8 785.5,496.8 785.5,495.8 785.6,494.8 785.6,493.8 785.6,492.8 785.7,491.8 785.7,490.8 785.7,489.8 785.8,488.8 785.8,487.8 785.9,486.8 785.9,485.8 785.9,484.8 786.0,483.8 786.0,482.8 786.0,481.8 786.1,480.8 786.1,479.8 786.2,478.8 786.2,477.8 786.2,476.8 786.3,475.8 786.3,474.8 786.3,473.8 786.4,472.8 786.4,471.8 786.5,470.8 786.5,469.8 786.5,468.8 786.6,467.8 786.6,466.8 786.6,465.8 786.7,464.8 786.7,463.8 786.7,462.8 786.8,461.8 786.8,460.8 786.9,459.8 786.9,458.8 786.9,457.8 787.0,456.8 787.0,455.8 787.0,454.8 787.1,453.8 787.1,452.8 787.2,451.8 787.2,450.8 787.3,449.8 787.3,448.8 787.4,447.8 787.4,446.8 787.5,445.8 787.5,444.8 787.6,443.8 787.6,442.8 787.7,441.8 787.7,440.8 787.8,439.8 787.8,438.8 787.9,437.8 788.0,436.8 788.0,435.8 788.1,434.8 788.1,433.8 788.2,432.8 788.3,431.8 788.3,430.8 788.4,429.8 788.5,428.8 788.6,427.8 788.7,426.8 788.7,425.8 788.8,424.8 788.9,423.8 789.0,422.8 789.1,421.8 789.2,420.8 789.3,419.8 789.4,418.8 789.5,417.8 789.6,416.8 789.7,415.8 789.9,414.8 790.0,413.8 790.1,412.7 790.2,411.7 790.4,410.6 790.6,409.6 790.8,408.6 791.0,407.6 791.2,406.6 791.4,405.7 791.7,404.8 792.0,404.0 792.4,403.2 793.0,402.4 793.7,401.6 794.5,400.9 795.4,400.3 796.3,399.7 797.1,399.3 798.0,399.0 798.9,398.7 799.8,398.5 800.8,398.2 801.8,398.0 802.8,397.8 803.8,397.6 804.8,397.4 805.8,397.3 806.9,397.1 807.9,396.9 808.9,396.8 809.9,396.6 810.9,396.5 811.9,396.3 812.9,396.1 813.8,396.0 814.8,395.8 815.8,395.7 816.8,395.6 817.8,395.4 818.8,395.3 819.8,395.2 820.8,395.0 821.8,394.9 822.8,394.8 823.8,394.6 824.8,394.5 825.8,394.4 826.8,394.2 827.8,394.1 828.8,394.0 829.8,393.9 830.8,393.8 831.8,393.6 832.8,393.5 833.8,393.4 834.7,393.2 835.7,393.0 836.7,392.9 837.7,392.7 838.6,392.5 839.7,392.2 840.7,391.9 841.8,391.6 842.8,391.2 843.8,390.8 844.6,390.4 845.4,390.0 846.0,389.5 846.6,388.9 847.1,388.1 847.6,387.3 848.1,386.4 848.5,385.4 848.9,384.3 849.3,383.3 849.6,382.2 849.8,381.2 850.1,380.3 850.2,379.3 850.4,378.3 850.6,377.4 850.7,376.4 850.8,375.4 850.9,374.3 851.0,373.3 851.1,372.3 851.2,371.3 851.3,370.3 851.4,369.3 851.5,368.3 851.6,367.3 851.8,366.3 851.9,365.3 852.1,364.4 852.3,363.4 852.6,362.4 852.9,361.4 853.2,360.5 853.6,359.5 854.0,358.5 854.5,357.6 854.9,356.7 855.4,355.9 855.9,355.1 856.5,354.4 857.2,353.7 857.9,353.1 858.7,352.5 859.5,351.9 860.4,351.3 861.3,350.8 862.2,350.2 863.1,349.7 863.9,349.1 864.7,348.5 865.6,347.9 866.5,347.3 867.5,346.8 868.4,346.2 869.3,345.7 870.1,345.1 870.8,344.4 871.5,343.8 872.0,343.1 872.4,342.3 872.7,341.5 873.1,340.6 873.5,339.7 873.8,338.8 874.1,337.8 874.4,336.8 874.6,335.7 874.9,334.7 875.1,333.6 875.3,332.6 875.4,331.6 875.5,330.6 875.6,329.6 875.7,328.6 875.8,327.6 875.9,326.6 876.0,325.6 876.1,324.7 876.1,323.7 876.2,322.7 876.3,321.7 876.3,320.7 876.4,319.7 876.4,318.7 876.5,317.7 876.5,316.7 876.6,315.7 876.6,314.7 876.7,313.7 876.7,312.6 876.8,311.6 876.8,310.6 876.8,309.6 876.9,308.6 876.9,307.6 877.0,306.6 877.0,305.6 877.0,304.6 877.1,303.6 877.1,302.6 877.1,301.6 877.2,300.6 877.2,299.6 877.3,298.6 877.3,297.6 877.3,296.6 877.4,295.6 877.4,294.6 877.4,293.6 877.5,292.6 877.5,291.6 877.5,290.6 877.6,289.6 877.6,288.6 877.6,287.6 877.6,286.6 877.7,285.6 877.7,284.6 877.7,283.6 877.8,282.6 877.8,281.6 877.8,280.6 877.8,279.6 877.9,278.6 877.9,277.6 877.9,276.6 877.9,275.6 878.0,274.6 878.0,273.6 878.0,272.6 878.0,271.6 878.1,270.6 878.1,269.6 878.1,268.6 878.2,267.6 878.2,266.6 878.2,265.6 878.3,264.6 878.3,263.6 878.3,262.6 878.3,261.5 878.4,260.5 878.4,259.5 878.4,258.5 878.5,257.5 878.5,256.5 878.5,255.5 878.6,254.5 878.6,253.5 878.6,252.5 878.7,251.5 878.7,250.5 878.7,249.5 878.8,248.5 878.8,247.5 878.8,246.5 878.9,245.5 878.9,244.5 878.9,243.5 879.0,242.5 879.0,241.5 879.0,240.5 879.1,239.5 879.1,238.5 879.1,237.5 879.2,236.5 879.2,235.5 879.3,234.5 879.3,233.5 879.3,232.5 879.4,231.5 879.4,230.5 879.5,229.5 879.5,228.5 879.6,227.5 879.6,226.5 879.7,225.5 879.7,224.5 879.8,223.5 879.8,222.5 879.9,221.5 880.0,220.5 880.0,219.5 880.1,218.5 880.2,217.5 880.2,216.5 880.3,215.5 880.4,214.5 880.5,213.5 880.6,212.5 880.7,211.5 880.8,210.5 880.9,209.4 881.0,208.4 881.1,207.4 881.3,206.4 881.4,205.4 881.5,204.4 881.7,203.4 881.8,202.4 882.0,201.5 882.1,200.5 882.3,199.5 882.5,198.5 882.7,197.6 882.9,196.6 883.1,195.7 883.3,194.7 883.6,193.8 883.9,192.8 884.3,191.8 884.6,190.8 885.1,189.9 885.5,188.9 886.0,187.9 886.5,187.0 887.0,186.1 887.5,185.3 888.1,184.4 888.6,183.6 889.2,182.9 889.8,182.2 890.4,181.6 891.1,180.9 891.8,180.3 892.6,179.7 893.4,179.1 894.3,178.5 895.2,178.0 896.1,177.5 897.1,177.0 898.0,176.5 899.0,176.1 899.9,175.7 900.9,175.4 901.8,175.1 902.7,174.8 903.7,174.5 904.6,174.3 905.6,174.0 906.6,173.8 907.5,173.6 908.5,173.4 909.5,173.2 910.5,173.0 911.5,172.8 912.5,172.6 913.5,172.4 914.5,172.3 915.5,172.1 916.5,172.0 917.5,171.9 918.5,171.8 919.5,171.7 920.5,171.5 921.5,171.4 922.5,171.4 923.5,171.3 924.5,171.2 925.5,171.1 926.5,171.0 927.5,170.9 928.5,170.9 929.5,170.8 930.5,170.7 931.5,170.6 932.5,170.6 933.5,170.5 934.5,170.4 935.5,170.4 936.5,170.3 937.5,170.3 938.5,170.2 939.5,170.2 940.5,170.1 941.5,170.0 942.5,170.0 943.5,169.9 944.5,169.9 945.5,169.8 946.5,169.8 947.5,169.7 948.5,169.7 949.5,169.6 950.5,169.6 951.5,169.5 952.5,169.5 953.5,169.4 954.5,169.4 955.5,169.3 956.5,169.3 957.5,169.2 958.5,169.2 959.5,169.1 960.5,169.1 961.5,169.0 962.5,169.0 963.5,168.9 964.5,168.9 965.5,168.9 966.5,168.8 967.5,168.8 968.5,168.7 969.5,168.7 970.5,168.7 971.5,168.6 972.5,168.6 973.5,168.5 974.5,168.5 975.5,168.5 976.5,168.4 977.5,168.4" fill="none" stroke="#00f" stroke-width="9.2" stroke-linejoin="round" stroke-linecap="butt" clip-path="url(#clipa)"/>
<path d="M388.6,84.50 L440.4,84.50" stroke="#000" stroke-width="9.2" stroke-linecap="round" fill="none"/>
<path d="M388.6,169.15 L440.4,169.15" stroke="#f00" stroke-width="9.2" stroke-linecap="round" fill="none"/>
<path d="M388.6,253.80 L440.4,253.80" stroke="#0f0" stroke-width="9.2" stroke-linecap="round" fill="none"/>
<path d="M388.6,338.45 L440.4,338.45" stroke="#00f" stroke-width="9.2" stroke-linecap="round" fill="none"/>
<text transform="translate(460.35,93.00) scale(1.0,1.035)" font-family='"Liberation Sans", Arial, sans-serif' font-weight="normal" font-size="49" fill="#000" stroke="#000" stroke-width="1.0">&lt;</text>
<text transform="translate(502.75,93.00) scale(1.0,1.035)" font-family='"Liberation Sans", Arial, sans-serif' font-weight="bold" font-size="50" fill="#000">n</text>
<text transform="translate(532.73,112.70) scale(1.0,1.035)" font-family='"Liberation Sans", Arial, sans-serif' font-weight="bold" font-size="48.4" fill="#000">L</text>
<text transform="translate(561.28,113.00) scale(1.0,1.0)" font-family='"Liberation Sans", Arial, sans-serif' font-weight="bold" font-size="43" fill="#000">σ</text>
<text transform="translate(589.55,93.00) scale(1.0,1.035)" font-family='"Liberation Sans", Arial, sans-serif' font-weight="normal" font-size="49" fill="#000" stroke="#000" stroke-width="1.0">&gt;</text>
<text transform="translate(453.25,177.90) scale(1.0,1.035)" font-family='"Liberation Sans", Arial, sans-serif' font-weight="normal" font-size="49" fill="#000" stroke="#000" stroke-width="1.0">&lt;</text>
<text transform="translate(495.75,177.90) scale(1.0,1.035)" font-family='"Liberation Sans", Arial, sans-serif' font-weight="bold" font-size="50" fill="#000">n</text>
<text transform="translate(526.53,197.60) scale(1.0,1.035)" font-family='"Liberation Sans", Arial, sans-serif' font-weight="bold" font-size="48.4" fill="#000">L</text>
<text transform="translate(554.21,197.60) scale(1.0,1.035)" font-family='"Liberation Sans", Arial, sans-serif' font-weight="bold" font-size="48.4" fill="#000">,</text>
<text transform="translate(584.28,197.90) scale(1.0,1.0)" font-family='"Liberation Sans", Arial, sans-serif' font-weight="bold" font-size="43" fill="#000">-</text>
<text transform="translate(598.08,197.90) scale(1.0,1.0)" font-family='"Liberation Sans", Arial, sans-serif' font-weight="bold" font-size="43" fill="#000">σ</text>
<text transform="translate(626.75,177.90) scale(1.0,1.035)" font-family='"Liberation Sans", Arial, sans-serif' font-weight="bold" font-size="50" fill="#000">n</text>
<text transform="translate(656.73,197.60) scale(1.0,1.035)" font-family='"Liberation Sans", Arial, sans-serif' font-weight="bold" font-size="48.4" fill="#000">L</text>
<text transform="translate(684.61,197.60) scale(1.0,1.035)" font-family='"Liberation Sans", Arial, sans-serif' font-weight="bold" font-size="48.4" fill="#000">,</text>
<text transform="translate(699.28,197.90) scale(1.0,1.0)" font-family='"Liberation Sans", Arial, sans-serif' font-weight="bold" font-size="43" fill="#000">σ</text>
<text transform="translate(726.55,177.90) scale(1.0,1.035)" font-family='"Liberation Sans", Arial, sans-serif' font-weight="normal" font-size="49" fill="#000" stroke="#000" stroke-width="1.0">&gt;</text>
<text transform="translate(453.25,262.60) scale(1.0,1.035)" font-family='"Liberation Sans", Arial, sans-serif' font-weight="normal" font-size="49" fill="#000" stroke="#000" stroke-width="1.0">&lt;</text>
<text transform="translate(495.75,262.60) scale(1.0,1.035)" font-family='"Liberation Sans", Arial, sans-serif' font-weight="bold" font-size="50" fill="#000">n</text>
<text transform="translate(526.33,282.30) scale(1.0,1.035)" font-family='"Liberation Sans", Arial, sans-serif' font-weight="bold" font-size="48.4" fill="#000">R</text>
<text transform="translate(559.61,282.30) scale(1.0,1.035)" font-family='"Liberation Sans", Arial, sans-serif' font-weight="bold" font-size="48.4" fill="#000">,</text>
<text transform="translate(589.28,282.60) scale(1.0,1.0)" font-family='"Liberation Sans", Arial, sans-serif' font-weight="bold" font-size="43" fill="#000">-</text>
<text transform="translate(603.28,282.60) scale(1.0,1.0)" font-family='"Liberation Sans", Arial, sans-serif' font-weight="bold" font-size="43" fill="#000">σ</text>
<text transform="translate(631.75,262.60) scale(1.0,1.035)" font-family='"Liberation Sans", Arial, sans-serif' font-weight="bold" font-size="50" fill="#000">n</text>
<text transform="translate(662.73,282.30) scale(1.0,1.035)" font-family='"Liberation Sans", Arial, sans-serif' font-weight="bold" font-size="48.4" fill="#000">L</text>
<text transform="translate(690.61,282.30) scale(1.0,1.035)" font-family='"Liberation Sans", Arial, sans-serif' font-weight="bold" font-size="48.4" fill="#000">,</text>
<text transform="translate(704.28,282.60) scale(1.0,1.0)" font-family='"Liberation Sans", Arial, sans-serif' font-weight="bold" font-size="43" fill="#000">σ</text>
<text transform="translate(732.55,262.60) scale(1.0,1.035)" font-family='"Liberation Sans", Arial, sans-serif' font-weight="normal" font-size="49" fill="#000" stroke="#000" stroke-width="1.0">&gt;</text>
<text transform="translate(453.25,347.40) scale(1.0,1.035)" font-family='"Liberation Sans", Arial, sans-serif' font-weight="normal" font-size="49" fill="#000" stroke="#000" stroke-width="1.0">&lt;</text>
<text transform="translate(495.75,347.40) scale(1.0,1.035)" font-family='"Liberation Sans", Arial, sans-serif' font-weight="bold" font-size="50" fill="#000">n</text>
<text transform="translate(526.33,367.10) scale(1.0,1.035)" font-family='"Liberation Sans", Arial, sans-serif' font-weight="bold" font-size="48.4" fill="#000">R</text>
<text transform="translate(558.61,367.10) scale(1.0,1.035)" font-family='"Liberation Sans", Arial, sans-serif' font-weight="bold" font-size="48.4" fill="#000">,</text>
<text transform="translate(573.28,367.40) scale(1.0,1.0)" font-family='"Liberation Sans", Arial, sans-serif' font-weight="bold" font-size="43" fill="#000">σ</text>
<text transform="translate(601.75,347.40) scale(1.0,1.035)" font-family='"Liberation Sans", Arial, sans-serif' font-weight="bold" font-size="50" fill="#000">n</text>
<text transform="translate(632.73,367.10) scale(1.0,1.035)" font-family='"Liberation Sans", Arial, sans-serif' font-weight="bold" font-size="48.4" fill="#000">L</text>
<text transform="translate(660.61,367.10) scale(1.0,1.035)" font-family='"Liberation Sans", Arial, sans-serif' font-weight="bold" font-size="48.4" fill="#000">,</text>
<text transform="translate(674.28,367.40) scale(1.0,1.0)" font-family='"Liberation Sans", Arial, sans-serif' font-weight="bold" font-size="43" fill="#000">σ</text>
<text transform="translate(702.55,347.40) scale(1.0,1.035)" font-family='"Liberation Sans", Arial, sans-serif' font-weight="normal" font-size="49" fill="#000" stroke="#000" stroke-width="1.0">&gt;</text>
<text transform="translate(262.79,100.50) scale(1.045,1.035)" font-family='"Liberation Sans", Arial, sans-serif' font-weight="bold" font-size="48" fill="#000">(a)</text>
<text transform="translate(103.60,381.06) rotate(-90) scale(1.0,1.035)" font-family='"Liberation Sans", Arial, sans-serif' font-weight="bold" font-size="74" fill="#000" letter-spacing="1.8">CF</text>
<rect x="237.5" y="708.5" width="740.0" height="578.5" fill="none" stroke="#000" stroke-width="3.1"/>
<path d="M237.50,1287.00 L237.50,1298.50 M422.50,1287.00 L422.50,1298.50 M607.50,1287.00 L607.50,1298.50 M792.50,1287.00 L792.50,1298.50 M977.50,1287.00 L977.50,1298.50 M330.00,1287.00 L330.00,1293.30 M515.00,1287.00 L515.00,1293.30 M700.00,1287.00 L700.00,1293.30 M885.00,1287.00 L885.00,1293.30 M237.50,1287.00 L226.80,1287.00 M237.50,1094.17 L226.80,1094.17 M237.50,901.33 L226.80,901.33 M237.50,708.50 L226.80,708.50 M237.50,1190.58 L231.80,1190.58 M237.50,997.75 L231.80,997.75 M237.50,804.92 L231.80,804.92" stroke="#000" stroke-width="3.1" fill="none"/>
<text transform="translate(156.40,1299.10) scale(1.0,1.035)" font-family='"Liberation Sans", Arial, sans-serif' font-weight="bold" font-size="48" fill="#000">0.0</text>
<text transform="translate(156.40,1106.27) scale(1.0,1.035)" font-family='"Liberation Sans", Arial, sans-serif' font-weight="bold" font-size="48" fill="#000">0.2</text>
<text transform="translate(154.72,913.43) scale(1.0,1.035)" font-family='"Liberation Sans", Arial, sans-serif' font-weight="bold" font-size="48" fill="#000">0.4</text>
<text transform="translate(156.16,720.60) scale(1.0,1.035)" font-family='"Liberation Sans", Arial, sans-serif' font-weight="bold" font-size="48" fill="#000">0.6</text>
<text transform="translate(190.46,1340.00) scale(1.0,1.035)" font-family='"Liberation Sans", Arial, sans-serif' font-weight="bold" font-size="48" fill="#000">-100</text>
<text transform="translate(409.15,1340.00) scale(1.0,1.035)" font-family='"Liberation Sans", Arial, sans-serif' font-weight="bold" font-size="48" fill="#000">0</text>
<text transform="translate(567.46,1340.00) scale(1.0,1.035)" font-family='"Liberation Sans", Arial, sans-serif' font-weight="bold" font-size="48" fill="#000">100</text>
<text transform="translate(752.46,1340.00) scale(1.0,1.035)" font-family='"Liberation Sans", Arial, sans-serif' font-weight="bold" font-size="48" fill="#000">200</text>
<text transform="translate(937.46,1340.00) scale(1.0,1.035)" font-family='"Liberation Sans", Arial, sans-serif' font-weight="bold" font-size="48" fill="#000">300</text>
<path d="M237.5,1286.5 241.2,1286.5 244.9,1286.5 248.6,1286.5 252.3,1286.5 256.0,1286.5 259.7,1286.5 263.4,1286.5 267.1,1286.5 270.8,1286.5 274.5,1286.5 278.2,1286.5 281.9,1286.5 285.6,1286.5 289.3,1286.5 293.0,1286.5 296.7,1286.5 300.4,1286.5 304.1,1286.5 307.8,1286.5 311.5,1286.5 315.2,1286.5 318.9,1286.5 322.6,1286.5 326.3,1286.5 330.0,1286.5 333.7,1286.5 337.4,1286.5 341.1,1286.5 344.8,1286.5 348.5,1286.5 352.2,1286.5 355.9,1286.5 359.6,1286.5 363.3,1286.5 367.0,1286.5 370.7,1286.5 374.4,1286.5 378.1,1286.5 381.8,1286.5 383.6,1286.5 384.6,1286.5 385.5,1286.5 386.4,1286.5 387.4,1286.5 388.3,1286.4 389.2,1286.4 390.1,1286.3 391.0,1286.1 392.0,1285.7 392.9,1285.3 393.8,1284.6 394.8,1283.7 395.7,1282.4 396.6,1280.9 397.5,1279.0 398.4,1276.6 399.4,1273.6 400.3,1269.9 401.2,1265.1 402.1,1258.7 402.3,1257.2 402.5,1255.5 402.7,1253.8 402.9,1251.9 403.1,1249.9 403.3,1247.7 403.4,1245.4 403.6,1242.9 403.8,1240.2 404.0,1237.2 404.2,1234.0 404.4,1230.5 404.6,1226.6 404.7,1222.4 404.9,1217.8 405.1,1212.7 405.3,1207.1 405.5,1200.9 405.7,1194.0 405.9,1186.3 406.0,1177.8 406.2,1168.2 406.4,1157.5 406.6,1145.5 406.8,1131.9 407.0,1116.8 407.1,1099.7 407.3,1080.5 407.5,1059.0 407.7,1035.1 407.9,1008.7 408.1,979.9 408.3,949.0 408.4,916.7 408.5,906.9 408.6,897.1 408.6,887.4 408.6,884.1 408.7,877.7 408.7,868.3 408.8,859.0 408.8,852.9 408.8,850.0 408.9,841.3 408.9,832.9 409.0,825.1 409.1,817.7 409.1,810.9 409.2,804.8 409.2,802.9 409.2,799.3 409.3,794.6 409.3,790.7 409.4,788.5 409.4,787.6 409.4,785.3 409.5,784.0 409.6,783.5 409.6,783.8 409.7,784.7 409.7,786.1 409.7,786.7 409.8,788.1 409.8,790.6 409.9,793.7 409.9,796.1 409.9,797.3 410.0,801.4 410.0,805.9 410.1,810.9 410.2,816.2 410.2,822.0 410.3,828.1 410.3,830.2 410.3,834.5 410.4,841.2 410.4,848.1 410.5,852.8 410.5,855.2 410.5,862.5 410.6,870.0 410.7,877.6 410.8,903.5 411.0,929.5 411.2,955.1 411.4,979.6 411.6,1002.9 411.8,1024.5 412.0,1044.6 412.1,1063.2 412.3,1080.1 412.5,1095.6 412.7,1109.7 412.9,1122.5 413.1,1134.2 413.2,1144.8 413.4,1154.5 413.6,1163.2 413.8,1171.2 414.0,1178.5 414.2,1185.2 414.4,1191.3 414.5,1196.8 414.7,1201.9 414.9,1206.6 415.1,1210.8 415.3,1214.8 415.5,1218.4 415.7,1221.7 415.8,1224.7 416.0,1227.5 416.2,1230.1 416.4,1232.4 416.6,1234.6 416.8,1236.6 416.9,1238.4 417.9,1245.5 418.8,1250.1 419.7,1253.0 420.6,1254.9 421.6,1256.2 422.5,1257.4 423.4,1258.5 424.4,1259.4 425.3,1260.0 426.2,1259.9 427.1,1258.6 428.1,1255.7 428.2,1254.8 428.4,1253.8 428.6,1252.8 428.8,1251.6 429.0,1250.2 429.2,1248.8 429.3,1247.1 429.5,1245.4 429.7,1243.4 429.9,1241.2 430.1,1238.9 430.3,1236.2 430.5,1233.4 430.6,1230.2 430.8,1226.8 431.0,1223.0 431.2,1218.8 431.4,1214.2 431.6,1209.1 431.8,1203.5 431.9,1197.4 432.1,1190.7 432.3,1183.2 432.5,1175.0 432.7,1166.1 432.9,1156.2 433.0,1145.5 433.2,1133.8 433.4,1121.2 433.6,1107.7 433.8,1093.4 434.0,1078.5 434.2,1063.3 434.3,1048.3 434.4,1043.9 434.5,1039.5 434.5,1035.2 434.5,1033.8 434.6,1031.1 434.6,1027.1 434.7,1023.2 434.7,1020.7 434.7,1019.5 434.8,1015.9 434.8,1012.6 434.9,1009.4 435.0,1006.5 435.0,1003.9 435.1,1001.5 435.1,1000.8 435.1,999.4 435.2,997.7 435.2,996.2 435.3,995.4 435.3,995.0 435.3,994.2 435.4,993.7 435.5,993.5 435.5,993.8 435.6,994.6 435.6,995.9 435.6,996.4 435.7,997.7 435.7,1000.0 435.8,1002.7 435.8,1004.8 435.8,1005.9 435.9,1009.5 435.9,1013.4 436.0,1017.7 436.1,1022.3 436.1,1027.2 436.2,1032.2 436.2,1034.0 436.2,1037.5 436.3,1042.9 436.3,1048.4 436.4,1052.1 436.4,1054.0 436.4,1059.7 436.5,1065.4 436.6,1071.1 436.7,1089.9 436.9,1107.9 437.1,1124.7 437.3,1140.1 437.5,1154.0 437.7,1166.5 437.9,1177.7 438.0,1187.6 438.2,1196.5 438.4,1204.3 438.6,1211.4 438.8,1217.6 439.0,1223.2 439.1,1228.1 439.3,1232.6 439.5,1236.6 439.7,1240.2 439.9,1243.5 440.1,1246.5 440.3,1249.2 440.4,1251.6 440.6,1253.9 440.8,1255.9 441.0,1257.8 441.2,1259.5 441.4,1261.1 441.6,1262.6 441.7,1263.9 441.9,1265.2 442.1,1266.4 442.3,1267.5 442.5,1268.5 442.7,1269.4 442.9,1270.3 443.8,1274.0 444.7,1276.8 445.6,1279.0 446.5,1280.7 447.5,1282.1 448.4,1283.2 449.3,1284.1 450.2,1284.8 451.2,1285.4 452.1,1285.8 453.0,1286.1 453.9,1286.2 454.9,1286.4 455.8,1286.4 456.7,1286.5 457.6,1286.5 458.6,1286.5 459.5,1286.5 460.4,1286.5 461.4,1286.5 461.5,1286.5 462.5,1286.5 463.2,1286.5 463.4,1286.5 464.3,1286.5 465.2,1286.5 466.2,1286.5 466.9,1286.4 467.1,1286.4 468.0,1286.4 468.9,1286.3 469.9,1286.1 470.6,1285.9 470.8,1285.8 471.7,1285.5 472.6,1285.0 473.6,1284.4 474.3,1283.7 474.5,1283.6 475.2,1282.8 475.4,1282.5 476.1,1281.6 476.3,1281.3 477.1,1280.1 477.3,1279.7 478.0,1278.2 478.2,1277.7 478.9,1275.8 479.1,1275.2 479.9,1272.6 480.0,1271.8 480.2,1271.0 480.4,1270.1 480.6,1269.2 480.8,1268.2 481.0,1267.1 481.1,1265.9 481.3,1264.7 481.5,1263.3 481.7,1261.9 481.9,1260.3 482.1,1258.5 482.3,1256.7 482.4,1254.6 482.6,1252.4 482.8,1249.9 483.0,1247.2 483.2,1244.1 483.4,1240.8 483.6,1237.1 483.7,1233.0 483.9,1228.5 484.1,1223.4 484.3,1217.7 484.5,1211.2 484.7,1204.0 484.8,1196.0 485.0,1186.9 485.2,1176.7 485.4,1165.3 485.6,1152.6 485.8,1138.6 486.0,1123.3 486.1,1106.9 486.3,1089.8 486.4,1084.6 486.4,1079.4 486.5,1074.2 486.5,1072.5 486.5,1069.1 486.6,1064.1 486.7,1059.2 486.7,1056.0 486.7,1054.4 486.8,1049.8 486.8,1045.3 486.9,1041.2 486.9,1037.2 487.0,1033.6 487.0,1030.3 487.1,1029.3 487.1,1027.4 487.2,1024.9 487.2,1022.8 487.2,1021.6 487.3,1021.1 487.3,1019.9 487.4,1019.1 487.4,1018.9 487.5,1019.0 487.5,1019.4 487.6,1020.2 487.6,1020.5 487.7,1021.3 487.7,1022.7 487.8,1024.4 487.8,1025.7 487.8,1026.4 487.9,1028.7 487.9,1031.2 488.0,1034.0 488.0,1037.0 488.1,1040.2 488.2,1043.5 488.2,1044.7 488.2,1047.1 488.3,1050.8 488.3,1054.6 488.4,1057.2 488.4,1058.6 488.4,1062.6 488.5,1066.7 488.5,1070.9 488.7,1084.9 488.9,1099.0 489.1,1112.7 489.3,1125.7 489.5,1137.9 489.7,1149.2 489.8,1159.6 490.0,1169.1 490.2,1177.7 490.4,1185.5 490.6,1192.6 490.8,1199.0 491.0,1204.8 491.1,1210.0 491.3,1214.7 491.5,1218.9 491.7,1222.8 491.9,1226.3 492.1,1229.4 492.2,1232.3 492.4,1234.9 492.6,1237.2 492.8,1239.4 493.0,1241.3 493.2,1243.1 493.4,1244.7 493.5,1246.2 493.7,1247.6 493.9,1248.8 494.1,1249.9 494.3,1250.9 494.5,1251.9 494.6,1252.7 494.8,1253.5 495.0,1254.2 495.2,1254.9 495.4,1255.4 495.6,1256.0 495.8,1256.5 495.9,1256.9 496.1,1257.3 496.3,1257.7 496.5,1258.0 496.7,1258.3 496.9,1258.6 497.1,1258.9 497.2,1259.1 497.4,1259.3 497.6,1259.5 497.8,1259.7 498.0,1259.9 498.2,1260.1 498.3,1260.3 498.5,1260.5 498.7,1260.6 498.9,1260.8 499.1,1261.0 499.1,1261.0 499.2,1261.1 499.3,1261.1 499.3,1261.2 499.3,1261.2 499.4,1261.3 499.4,1261.3 499.5,1261.4 499.5,1261.4 499.5,1261.4 499.6,1261.5 499.6,1261.6 499.7,1261.6 499.8,1261.7 499.8,1261.7 499.8,1261.8 499.9,1261.8 499.9,1261.9 500.0,1261.9 500.0,1262.0 500.0,1262.0 500.1,1262.1 500.1,1262.1 500.2,1262.2 500.3,1262.3 500.3,1262.4 500.4,1262.4 500.4,1262.5 500.4,1262.5 500.5,1262.7 500.5,1262.8 500.6,1262.9 500.6,1262.9 500.6,1263.0 500.7,1263.2 500.8,1263.4 500.8,1263.5 500.9,1263.7 500.9,1263.9 500.9,1263.9 501.0,1264.0 501.0,1264.2 501.1,1264.4 501.1,1264.6 501.1,1264.6 501.2,1264.8 501.3,1265.1 501.3,1265.3 501.5,1266.0 501.7,1266.8 501.9,1267.6 502.1,1268.4 502.2,1269.2 502.4,1270.0 502.6,1270.8 502.8,1271.5 503.0,1272.2 503.2,1272.8 503.3,1273.5 503.5,1274.0 503.7,1274.6 503.9,1275.1 504.1,1275.5 504.3,1276.0 504.5,1276.4 504.6,1276.7 504.8,1277.0 505.0,1277.3 505.2,1277.6 505.4,1277.8 505.6,1278.0 505.8,1278.1 505.9,1278.3 506.1,1278.4 506.3,1278.5 506.5,1278.5 506.7,1278.5 506.9,1278.6 507.0,1278.5 507.2,1278.5 507.4,1278.4 507.6,1278.3 507.8,1278.2 508.0,1278.0 508.2,1277.8 508.3,1277.6 508.5,1277.3 508.7,1277.0 508.9,1276.7 509.1,1276.3 509.3,1275.9 509.4,1275.4 509.6,1274.8 509.8,1274.2 510.0,1273.6 510.2,1272.8 510.4,1271.9 510.6,1271.0 510.7,1269.9 510.9,1268.7 511.1,1267.3 511.3,1265.8 511.5,1264.1 511.7,1262.2 511.9,1260.0 512.0,1257.6 512.2,1254.9 512.4,1251.9 512.6,1248.6 512.8,1244.9 513.0,1241.0 513.1,1236.8 513.3,1232.5 513.4,1231.2 513.4,1229.9 513.5,1228.6 513.5,1228.1 513.6,1227.3 513.6,1226.1 513.7,1224.8 513.7,1224.1 513.7,1223.7 513.8,1222.5 513.8,1221.5 513.9,1220.5 513.9,1219.5 514.0,1218.7 514.1,1217.9 514.1,1217.6 514.1,1217.2 514.2,1216.6 514.2,1216.1 514.3,1215.8 514.3,1215.7 514.3,1215.4 514.4,1215.3 514.4,1215.2 514.5,1215.3 514.6,1215.5 514.6,1215.8 514.6,1215.9 514.7,1216.3 514.7,1216.8 514.8,1217.5 514.8,1218.0 514.8,1218.3 514.9,1219.1 514.9,1220.1 515.0,1221.1 515.1,1222.3 515.1,1223.4 515.2,1224.7 515.2,1225.1 515.2,1225.9 515.3,1227.3 515.3,1228.6 515.4,1229.5 515.4,1230.0 515.4,1231.3 515.5,1232.7 515.6,1234.1 515.7,1238.7 515.9,1243.1 516.1,1247.1 516.3,1250.9 516.5,1254.3 516.7,1257.3 516.9,1260.0 517.0,1262.4 517.2,1264.6 517.4,1266.5 517.6,1268.2 517.8,1269.7 518.0,1271.1 518.1,1272.3 518.3,1273.4 518.5,1274.4 518.7,1275.3 518.9,1276.1 519.1,1276.8 519.3,1277.4 519.4,1278.0 519.6,1278.6 519.8,1279.1 520.0,1279.5 520.2,1280.0 520.4,1280.3 520.5,1280.7 520.7,1281.0 520.9,1281.3 521.1,1281.6 521.3,1281.9 521.5,1282.1 521.7,1282.4 521.8,1282.6 522.4,1283.2 522.8,1283.5 523.3,1283.9 523.7,1284.2 524.2,1284.5 524.6,1284.7 525.2,1284.9 525.5,1285.1 526.1,1285.3 526.5,1285.4 527.4,1285.7 528.3,1285.9 529.2,1286.1 529.8,1286.2 530.2,1286.2 531.1,1286.3 532.0,1286.4 532.9,1286.4 533.5,1286.5 533.9,1286.5 534.8,1286.5 535.7,1286.5 536.6,1286.5 537.2,1286.5 537.6,1286.5 538.5,1286.5 539.4,1286.5 540.3,1286.5 540.9,1286.5 544.6,1286.5 548.3,1286.5 552.0,1286.5 552.2,1286.5 553.1,1286.5 554.0,1286.5 555.0,1286.5 555.7,1286.5 555.9,1286.5 556.8,1286.5 557.7,1286.5 558.7,1286.5 559.4,1286.5 559.6,1286.5 560.5,1286.5 561.4,1286.5 562.4,1286.5 563.1,1286.5 563.3,1286.5 564.2,1286.5 565.1,1286.5 566.1,1286.5 566.8,1286.5 567.0,1286.5 567.9,1286.4 568.8,1286.4 569.8,1286.4 570.5,1286.4 570.7,1286.4 570.9,1286.4 571.1,1286.4 571.2,1286.4 571.4,1286.3 571.6,1286.3 571.8,1286.3 572.0,1286.3 572.2,1286.3 572.4,1286.3 572.5,1286.3 572.7,1286.3 572.9,1286.3 573.1,1286.2 573.3,1286.2 573.5,1286.2 573.6,1286.2 573.8,1286.1 574.0,1286.1 574.2,1286.1 574.4,1286.1 574.6,1286.0 574.8,1286.0 574.9,1285.9 575.1,1285.9 575.3,1285.8 575.5,1285.8 575.7,1285.7 575.9,1285.6 576.0,1285.5 576.2,1285.4 576.4,1285.3 576.6,1285.1 576.8,1285.0 577.0,1284.9 577.0,1284.8 577.1,1284.8 577.1,1284.7 577.2,1284.7 577.2,1284.7 577.3,1284.7 577.3,1284.6 577.3,1284.6 577.4,1284.6 577.4,1284.5 577.5,1284.5 577.5,1284.5 577.6,1284.4 577.6,1284.4 577.7,1284.4 577.7,1284.4 577.8,1284.4 577.8,1284.3 577.9,1284.3 577.9,1284.3 577.9,1284.3 578.0,1284.3 578.0,1284.3 578.1,1284.3 578.1,1284.3 578.2,1284.3 578.3,1284.3 578.3,1284.3 578.3,1284.3 578.4,1284.3 578.4,1284.4 578.5,1284.4 578.5,1284.4 578.5,1284.4 578.6,1284.4 578.6,1284.5 578.7,1284.5 578.8,1284.5 578.8,1284.6 578.8,1284.6 578.9,1284.6 578.9,1284.7 579.0,1284.7 579.0,1284.7 579.0,1284.7 579.1,1284.8 579.1,1284.8 579.2,1284.9 579.4,1285.0 579.6,1285.1 579.8,1285.3 579.9,1285.4 580.1,1285.5 580.3,1285.6 580.5,1285.7 580.7,1285.8 580.9,1285.8 581.0,1285.9 581.2,1285.9 581.4,1286.0 581.6,1286.0 581.8,1286.1 582.0,1286.1 582.2,1286.1 582.3,1286.1 582.5,1286.2 582.7,1286.2 582.9,1286.2 583.1,1286.2 583.3,1286.3 583.5,1286.3 583.6,1286.3 583.8,1286.3 584.0,1286.3 584.2,1286.3 584.4,1286.3 584.6,1286.3 584.7,1286.3 584.9,1286.4 585.1,1286.4 585.3,1286.4 585.5,1286.4 586.4,1286.4 587.3,1286.4 588.3,1286.4 589.0,1286.5 589.2,1286.5 590.1,1286.5 591.0,1286.5 592.0,1286.5 592.7,1286.5 592.9,1286.5 593.8,1286.5 594.7,1286.5 595.7,1286.5 596.4,1286.5 596.6,1286.5 597.5,1286.5 598.4,1286.5 599.4,1286.5 600.1,1286.5 600.3,1286.5 601.2,1286.5 602.1,1286.5 603.1,1286.5 603.8,1286.5 604.0,1286.5 607.5,1286.5 611.2,1286.5 614.9,1286.5 618.6,1286.5 622.3,1286.5 626.0,1286.5 629.7,1286.5 633.4,1286.5 637.1,1286.5 640.8,1286.5 644.5,1286.5 648.2,1286.5 651.9,1286.5 655.6,1286.5 659.3,1286.5 663.0,1286.5 666.7,1286.5 670.4,1286.5 674.1,1286.5 677.8,1286.5 681.5,1286.5 683.2,1286.5 684.1,1286.5 685.0,1286.5 685.2,1286.5 685.9,1286.5 686.9,1286.5 687.8,1286.5 688.7,1286.5 688.9,1286.5 689.6,1286.5 690.6,1286.5 691.5,1286.5 692.4,1286.5 692.6,1286.5 693.3,1286.5 694.3,1286.5 695.2,1286.5 696.1,1286.5 696.3,1286.5 697.0,1286.5 698.0,1286.5 698.9,1286.4 699.8,1286.4 700.0,1286.4 700.7,1286.4 701.7,1286.4 701.8,1286.4 702.0,1286.4 702.2,1286.4 702.4,1286.3 702.6,1286.3 702.8,1286.3 703.0,1286.3 703.1,1286.3 703.3,1286.3 703.5,1286.3 703.7,1286.3 703.9,1286.3 704.1,1286.2 704.3,1286.2 704.4,1286.2 704.6,1286.2 704.8,1286.1 705.0,1286.1 705.2,1286.1 705.4,1286.1 705.5,1286.0 705.7,1286.0 705.9,1285.9 706.1,1285.9 706.3,1285.8 706.5,1285.8 706.7,1285.7 706.8,1285.6 707.0,1285.5 707.2,1285.4 707.4,1285.3 707.6,1285.1 707.8,1285.0 708.0,1284.9 708.0,1284.8 708.1,1284.8 708.1,1284.7 708.1,1284.7 708.2,1284.7 708.2,1284.7 708.3,1284.6 708.3,1284.6 708.3,1284.6 708.4,1284.5 708.5,1284.5 708.5,1284.5 708.6,1284.4 708.6,1284.4 708.7,1284.4 708.7,1284.4 708.7,1284.4 708.8,1284.3 708.8,1284.3 708.9,1284.3 708.9,1284.3 709.0,1284.3 709.0,1284.3 709.1,1284.3 709.1,1284.3 709.2,1284.3 709.2,1284.3 709.2,1284.3 709.3,1284.3 709.3,1284.3 709.4,1284.4 709.4,1284.4 709.5,1284.4 709.5,1284.4 709.6,1284.4 709.6,1284.5 709.7,1284.5 709.7,1284.5 709.8,1284.6 709.8,1284.6 709.8,1284.6 709.9,1284.7 710.0,1284.7 710.0,1284.7 710.0,1284.7 710.1,1284.8 710.1,1284.8 710.2,1284.9 710.4,1285.0 710.5,1285.1 710.7,1285.3 710.9,1285.4 711.1,1285.5 711.3,1285.6 711.5,1285.7 711.7,1285.8 711.8,1285.8 712.0,1285.9 712.2,1285.9 712.4,1286.0 712.6,1286.0 712.8,1286.1 713.0,1286.1 713.1,1286.1 713.3,1286.1 713.5,1286.2 713.7,1286.2 713.9,1286.2 714.1,1286.2 714.2,1286.3 714.4,1286.3 714.6,1286.3 714.8,1286.3 715.0,1286.3 715.2,1286.3 715.4,1286.3 715.5,1286.3 715.7,1286.3 715.9,1286.4 716.1,1286.4 716.3,1286.4 716.5,1286.4 717.4,1286.4 718.3,1286.4 718.5,1286.4 719.2,1286.4 720.2,1286.5 721.1,1286.5 722.0,1286.5 722.2,1286.5 722.9,1286.5 723.9,1286.5 724.8,1286.5 725.7,1286.5 725.9,1286.5 726.6,1286.5 727.6,1286.5 728.5,1286.5 729.4,1286.5 729.6,1286.5 730.3,1286.5 731.3,1286.5 732.2,1286.5 733.1,1286.5 733.3,1286.5 734.0,1286.5 735.0,1286.5 737.0,1286.5 740.7,1286.5 744.4,1286.5 746.8,1286.5 747.7,1286.5 748.1,1286.5 748.7,1286.5 749.6,1286.5 750.5,1286.5 751.4,1286.5 751.8,1286.5 752.4,1286.5 753.3,1286.5 754.2,1286.4 755.1,1286.4 755.5,1286.4 756.1,1286.3 757.0,1286.2 757.9,1286.1 758.8,1285.9 759.2,1285.8 759.8,1285.7 760.7,1285.4 761.1,1285.3 761.6,1285.1 762.0,1284.9 762.5,1284.7 762.9,1284.5 763.5,1284.2 763.8,1283.9 764.4,1283.5 764.8,1283.2 765.3,1282.6 765.5,1282.4 765.7,1282.1 765.9,1281.9 766.0,1281.6 766.2,1281.3 766.4,1281.0 766.6,1280.7 766.8,1280.3 767.0,1280.0 767.2,1279.5 767.3,1279.1 767.5,1278.6 767.7,1278.0 767.9,1277.4 768.1,1276.8 768.3,1276.1 768.5,1275.3 768.6,1274.4 768.8,1273.4 769.0,1272.3 769.2,1271.1 769.4,1269.7 769.6,1268.2 769.7,1266.5 769.9,1264.6 770.1,1262.4 770.3,1260.0 770.5,1257.3 770.7,1254.3 770.9,1250.9 771.0,1247.1 771.2,1243.1 771.4,1238.7 771.6,1234.1 771.7,1232.7 771.7,1231.3 771.8,1230.0 771.8,1229.5 771.8,1228.6 771.9,1227.3 771.9,1225.9 772.0,1225.1 772.0,1224.7 772.0,1223.4 772.1,1222.3 772.1,1221.1 772.2,1220.1 772.3,1219.1 772.3,1218.3 772.3,1218.0 772.4,1217.5 772.4,1216.8 772.5,1216.3 772.5,1215.9 772.5,1215.8 772.6,1215.5 772.6,1215.3 772.7,1215.2 772.8,1215.3 772.8,1215.4 772.9,1215.7 772.9,1215.8 772.9,1216.1 773.0,1216.6 773.0,1217.2 773.1,1217.6 773.1,1217.9 773.1,1218.7 773.2,1219.5 773.3,1220.5 773.3,1221.5 773.4,1222.5 773.4,1223.7 773.4,1224.1 773.5,1224.8 773.5,1226.1 773.6,1227.3 773.6,1228.1 773.6,1228.6 773.7,1229.9 773.8,1231.2 773.8,1232.5 774.0,1236.8 774.2,1241.0 774.4,1244.9 774.6,1248.6 774.7,1251.9 774.9,1254.9 775.1,1257.6 775.3,1260.0 775.5,1262.2 775.7,1264.1 775.9,1265.8 776.0,1267.3 776.2,1268.7 776.4,1269.9 776.6,1271.0 776.8,1271.9 777.0,1272.8 777.1,1273.6 777.3,1274.2 777.5,1274.8 777.7,1275.4 777.9,1275.9 778.1,1276.3 778.3,1276.7 778.4,1277.0 778.6,1277.3 778.8,1277.6 779.0,1277.8 779.2,1278.0 779.4,1278.2 779.6,1278.3 779.7,1278.4 779.9,1278.5 780.1,1278.5 780.3,1278.6 780.5,1278.5 780.7,1278.5 780.8,1278.5 781.0,1278.4 781.2,1278.3 781.4,1278.1 781.6,1278.0 781.8,1277.8 782.0,1277.6 782.1,1277.3 782.3,1277.0 782.5,1276.7 782.7,1276.4 782.9,1276.0 783.1,1275.5 783.2,1275.1 783.4,1274.6 783.6,1274.0 783.8,1273.5 784.0,1272.8 784.2,1272.2 784.4,1271.5 784.5,1270.8 784.7,1270.0 784.9,1269.2 785.1,1268.4 785.3,1267.6 785.5,1266.8 785.7,1266.0 785.8,1265.3 785.9,1265.1 786.0,1264.8 786.0,1264.6 786.0,1264.6 786.1,1264.4 786.1,1264.2 786.2,1264.0 786.2,1263.9 786.2,1263.9 786.3,1263.7 786.3,1263.5 786.4,1263.4 786.5,1263.2 786.5,1263.0 786.6,1262.9 786.6,1262.9 786.6,1262.8 786.7,1262.7 786.7,1262.5 786.8,1262.5 786.8,1262.4 786.8,1262.4 786.9,1262.3 787.0,1262.2 787.0,1262.1 787.1,1262.1 787.1,1262.0 787.1,1262.0 787.2,1261.9 787.2,1261.9 787.3,1261.8 787.3,1261.8 787.3,1261.7 787.4,1261.7 787.4,1261.6 787.5,1261.6 787.6,1261.5 787.6,1261.4 787.7,1261.4 787.7,1261.4 787.7,1261.3 787.8,1261.3 787.8,1261.2 787.9,1261.2 787.9,1261.1 787.9,1261.1 788.0,1261.0 788.1,1261.0 788.2,1260.8 788.4,1260.6 788.6,1260.5 788.8,1260.3 789.0,1260.1 789.2,1259.9 789.4,1259.7 789.5,1259.5 789.7,1259.3 789.9,1259.1 790.1,1258.9 790.3,1258.6 790.5,1258.3 790.7,1258.0 790.8,1257.7 791.0,1257.3 791.2,1256.9 791.4,1256.5 791.6,1256.0 791.8,1255.4 791.9,1254.9 792.1,1254.2 792.3,1253.5 792.5,1252.7 792.7,1251.9 792.9,1250.9 793.1,1249.9 793.2,1248.8 793.4,1247.6 793.6,1246.2 793.8,1244.7 794.0,1243.1 794.2,1241.3 794.3,1239.4 794.5,1237.2 794.7,1234.9 794.9,1232.3 795.1,1229.4 795.3,1226.3 795.5,1222.8 795.6,1218.9 795.8,1214.7 796.0,1210.0 796.2,1204.8 796.4,1199.0 796.6,1192.6 796.8,1185.5 796.9,1177.7 797.1,1169.1 797.3,1159.6 797.5,1149.2 797.7,1137.9 797.9,1125.7 798.0,1112.7 798.2,1099.0 798.4,1084.9 798.6,1070.9 798.7,1066.7 798.7,1062.6 798.8,1058.6 798.8,1057.2 798.8,1054.6 798.9,1050.8 798.9,1047.1 799.0,1044.7 799.0,1043.5 799.0,1040.2 799.1,1037.0 799.2,1034.0 799.2,1031.2 799.3,1028.7 799.3,1026.4 799.3,1025.7 799.4,1024.4 799.4,1022.7 799.5,1021.3 799.5,1020.5 799.5,1020.2 799.6,1019.4 799.7,1019.0 799.7,1018.9 799.8,1019.1 799.8,1019.9 799.9,1021.1 799.9,1021.6 799.9,1022.8 800.0,1024.9 800.0,1027.4 800.1,1029.3 800.1,1030.3 800.2,1033.6 800.2,1037.2 800.3,1041.2 800.3,1045.3 800.4,1049.8 800.4,1054.4 800.5,1056.0 800.5,1059.2 800.5,1064.1 800.6,1069.1 800.6,1072.5 800.7,1074.2 800.7,1079.4 800.8,1084.6 800.8,1089.8 801.0,1106.9 801.2,1123.3 801.4,1138.6 801.6,1152.6 801.8,1165.3 801.9,1176.7 802.1,1186.9 802.3,1196.0 802.5,1204.0 802.7,1211.2 802.9,1217.7 803.0,1223.4 803.2,1228.5 803.4,1233.0 803.6,1237.1 803.8,1240.8 804.0,1244.1 804.2,1247.2 804.3,1249.9 804.5,1252.4 804.7,1254.6 804.9,1256.7 805.1,1258.5 805.3,1260.3 805.4,1261.9 805.6,1263.3 805.8,1264.7 806.0,1265.9 806.2,1267.1 806.4,1268.2 806.6,1269.2 806.7,1270.1 806.9,1271.0 807.1,1271.8 807.3,1272.6 808.0,1275.2 808.2,1275.8 809.0,1277.7 809.1,1278.2 809.9,1279.7 810.1,1280.1 810.8,1281.3 811.0,1281.6 811.7,1282.5 811.9,1282.8 812.7,1283.6 812.9,1283.7 813.6,1284.4 814.5,1285.0 814.7,1285.1 815.4,1285.5 816.4,1285.8 817.3,1286.1 818.2,1286.3 818.4,1286.3 819.1,1286.4 820.1,1286.4 821.0,1286.5 821.9,1286.5 822.1,1286.5 822.8,1286.5 823.8,1286.5 824.7,1286.5 825.6,1286.5 825.8,1286.5 826.7,1286.5 827.6,1286.5 828.6,1286.5 829.5,1286.5 830.4,1286.5 831.4,1286.4 832.3,1286.4 833.2,1286.2 834.1,1286.1 835.0,1285.8 836.0,1285.4 836.9,1284.8 837.8,1284.1 838.8,1283.2 839.7,1282.1 840.6,1280.7 841.5,1279.0 842.5,1276.8 843.4,1274.0 844.3,1270.3 844.5,1269.4 844.7,1268.5 844.9,1267.5 845.0,1266.4 845.2,1265.2 845.4,1263.9 845.6,1262.6 845.8,1261.1 846.0,1259.5 846.1,1257.8 846.3,1255.9 846.5,1253.9 846.7,1251.6 846.9,1249.2 847.1,1246.5 847.3,1243.5 847.4,1240.2 847.6,1236.6 847.8,1232.6 848.0,1228.1 848.2,1223.2 848.4,1217.6 848.6,1211.4 848.7,1204.3 848.9,1196.5 849.1,1187.6 849.3,1177.7 849.5,1166.5 849.7,1154.0 849.9,1140.1 850.0,1124.7 850.2,1107.9 850.4,1089.9 850.6,1071.1 850.6,1065.4 850.7,1059.7 850.8,1054.0 850.8,1052.1 850.8,1048.4 850.9,1042.9 850.9,1037.5 851.0,1034.0 851.0,1032.2 851.0,1027.2 851.1,1022.3 851.1,1017.7 851.2,1013.4 851.3,1009.5 851.3,1005.9 851.3,1004.8 851.4,1002.7 851.4,1000.0 851.5,997.7 851.5,996.4 851.5,995.9 851.6,994.6 851.6,993.8 851.7,993.5 851.8,993.7 851.8,994.2 851.9,995.0 851.9,995.4 851.9,996.2 852.0,997.7 852.0,999.4 852.1,1000.8 852.1,1001.5 852.1,1003.9 852.2,1006.5 852.3,1009.4 852.3,1012.6 852.4,1015.9 852.4,1019.5 852.4,1020.7 852.5,1023.2 852.5,1027.1 852.6,1031.1 852.6,1033.8 852.6,1035.2 852.7,1039.5 852.8,1043.9 852.8,1048.3 853.0,1063.3 853.2,1078.5 853.4,1093.4 853.6,1107.7 853.7,1121.2 853.9,1133.8 854.1,1145.5 854.3,1156.2 854.5,1166.1 854.7,1175.0 854.8,1183.2 855.0,1190.7 855.2,1197.4 855.4,1203.5 855.6,1209.1 855.8,1214.2 856.0,1218.8 856.1,1223.0 856.3,1226.8 856.5,1230.2 856.7,1233.4 856.9,1236.2 857.1,1238.9 857.2,1241.2 857.4,1243.4 857.6,1245.4 857.8,1247.1 858.0,1248.8 858.2,1250.2 858.4,1251.6 858.5,1252.8 858.7,1253.8 858.9,1254.8 859.1,1255.7 860.0,1258.6 861.0,1259.9 861.9,1260.0 862.8,1259.4 863.7,1258.5 864.6,1257.4 865.6,1256.2 866.5,1254.9 867.4,1253.0 868.4,1250.1 869.3,1245.5 870.2,1238.4 870.4,1236.6 870.6,1234.6 870.8,1232.4 870.9,1230.1 871.1,1227.5 871.3,1224.7 871.5,1221.7 871.7,1218.4 871.9,1214.8 872.1,1210.8 872.2,1206.6 872.4,1201.9 872.6,1196.8 872.8,1191.3 873.0,1185.2 873.2,1178.5 873.3,1171.2 873.5,1163.2 873.7,1154.5 873.9,1144.8 874.1,1134.2 874.3,1122.5 874.5,1109.7 874.6,1095.6 874.8,1080.1 875.0,1063.2 875.2,1044.6 875.4,1024.5 875.6,1002.9 875.8,979.6 875.9,955.1 876.1,929.5 876.3,903.5 876.5,877.6 876.5,870.0 876.6,862.5 876.7,855.2 876.7,852.8 876.7,848.1 876.8,841.2 876.8,834.5 876.9,830.2 876.9,828.1 876.9,822.0 877.0,816.2 877.0,810.9 877.1,805.9 877.2,801.4 877.2,797.3 877.2,796.1 877.3,793.7 877.3,790.6 877.4,788.1 877.4,786.7 877.4,786.1 877.5,784.7 877.5,783.8 877.6,783.5 877.7,784.0 877.7,785.3 877.8,787.6 877.8,788.5 877.8,790.7 877.9,794.6 877.9,799.3 878.0,802.9 878.0,804.8 878.0,810.9 878.1,817.7 878.2,825.1 878.2,832.9 878.3,841.3 878.3,850.0 878.3,852.9 878.4,859.0 878.4,868.3 878.5,877.7 878.5,884.1 878.5,887.4 878.6,897.1 878.7,906.9 878.7,916.7 878.9,949.0 879.1,979.9 879.3,1008.7 879.5,1035.1 879.6,1059.0 879.8,1080.5 880.0,1099.7 880.2,1116.8 880.4,1131.9 880.6,1145.5 880.7,1157.5 880.9,1168.2 881.1,1177.8 881.3,1186.3 881.5,1194.0 881.7,1200.9 881.9,1207.1 882.0,1212.7 882.2,1217.8 882.4,1222.4 882.6,1226.6 882.8,1230.5 883.0,1234.0 883.2,1237.2 883.3,1240.2 883.5,1242.9 883.7,1245.4 883.9,1247.7 884.1,1249.9 884.3,1251.9 884.4,1253.8 884.6,1255.5 884.8,1257.2 885.0,1258.7 885.9,1265.1 886.8,1269.9 887.8,1273.6 888.7,1276.6 889.6,1279.0 890.5,1280.9 891.5,1282.4 892.4,1283.7 893.3,1284.6 894.2,1285.3 895.2,1285.7 896.1,1286.1 897.0,1286.3 897.9,1286.4 898.9,1286.4 899.8,1286.5 900.7,1286.5 901.6,1286.5 902.6,1286.5 903.5,1286.5 907.2,1286.5 910.9,1286.5 914.6,1286.5 918.3,1286.5 922.0,1286.5 925.7,1286.5 929.4,1286.5 933.1,1286.5 936.8,1286.5 940.5,1286.5 944.2,1286.5 947.9,1286.5 951.6,1286.5 955.3,1286.5 959.0,1286.5 962.7,1286.5 966.4,1286.5 970.1,1286.5 973.8,1286.5 977.5,1286.5" fill="none" stroke="#000" stroke-width="9.2" stroke-linejoin="round" stroke-linecap="butt" clip-path="url(#clipb)"/>
<text transform="translate(256.09,771.00) scale(1.045,1.035)" font-family='"Liberation Sans", Arial, sans-serif' font-weight="bold" font-size="48" fill="#000">(b)</text>
<text transform="translate(318.52,791.60) scale(1.1,1.0)" font-family='"Liberation Serif", "Times New Roman", serif' font-weight="bold" font-size="49" fill="#000">ε</text>
<text transform="translate(338.59,812.00) scale(1.0,1.04)" font-family='"Liberation Sans", Arial, sans-serif' font-weight="normal" font-size="29.2" fill="#000">HO</text>
<text transform="translate(454.22,930.80) scale(1.1,1.0)" font-family='"Liberation Serif", "Times New Roman", serif' font-weight="bold" font-size="49" fill="#000">ε</text>
<text transform="translate(474.69,949.90) scale(1.0,1.04)" font-family='"Liberation Sans", Arial, sans-serif' font-weight="normal" font-size="29.2" fill="#000">LU</text>
<path d="M359.00,772.60 L399.89,780.58" stroke="#000" stroke-width="3.6" fill="none"/>
<path d="M420.50,784.60 L398.64,786.96 L401.13,774.20 Z" fill="#000"/>
<path d="M459.80,936.50 L441.70,976.76" stroke="#000" stroke-width="4.2" fill="none"/>
<path d="M433.50,995.00 L435.54,973.99 L447.86,979.53 Z" fill="#000"/>
<path d="M578.40,1208.30 L578.40,1270.20" stroke="#000" stroke-width="1.1" fill="none"/>
<path d="M578.40,1281.70 L574.65,1270.20 L582.15,1270.20 Z" fill="#000"/>
<path d="M707.50,1208.30 L707.50,1263.40" stroke="#000" stroke-width="1.1" fill="none"/>
<path d="M707.50,1276.40 L704.25,1263.40 L710.75,1263.40 Z" fill="#000"/>
<text transform="translate(529.52,779.80) scale(1.0,1.035)" font-family='"Liberation Sans", Arial, sans-serif' font-weight="bold" font-size="48" fill="#000">T = 1.2 K</text>
<text transform="translate(511.04,841.00) scale(1.11,1.0)" font-family='"Liberation Serif", "Times New Roman", serif' font-weight="normal" font-size="50" fill="#000" stroke="#000" stroke-width="0.5">Γ</text>
<text transform="translate(540.88,860.00) scale(1.0,1.035)" font-family='"Liberation Sans", Arial, sans-serif' font-weight="bold" font-size="28" fill="#000">e,t</text>
<text transform="translate(585.56,841.00) scale(1.0,1.035)" font-family='"Liberation Sans", Arial, sans-serif' font-weight="bold" font-size="48" fill="#000">= 1meV</text>
<text transform="translate(564.76,918.00) scale(1.0,1.035)" font-family='"Liberation Sans", Arial, sans-serif' font-weight="bold" font-size="48" fill="#000">N</text>
<text transform="translate(599.16,936.40) scale(1.0,1.035)" font-family='"Liberation Sans", Arial, sans-serif' font-weight="bold" font-size="28" fill="#000">a</text>
<text transform="translate(628.96,918.00) scale(1.0,1.035)" font-family='"Liberation Sans", Arial, sans-serif' font-weight="bold" font-size="48" fill="#000">= 64</text>
<text transform="translate(534.72,1147.00) scale(1.09,1.0)" font-family='"Liberation Serif", "Times New Roman", serif' font-weight="normal" font-size="73" fill="#000" stroke="#000" stroke-width="0.9">ε</text>
<text transform="translate(566.21,1177.00) scale(1.0,1.035)" font-family='"Liberation Sans", Arial, sans-serif' font-weight="normal" font-size="44" fill="#000">4(7)</text>
<text transform="translate(657.82,1147.60) scale(1.09,1.0)" font-family='"Liberation Serif", "Times New Roman", serif' font-weight="normal" font-size="73" fill="#000" stroke="#000" stroke-width="0.9">ε</text>
<text transform="translate(687.80,1177.60) scale(1.0,1.035)" font-family='"Liberation Sans", Arial, sans-serif' font-weight="normal" font-size="44" fill="#000">2(5)</text>
<text transform="translate(96.20,1163.96) rotate(-90) scale(1.0,1.035)" font-family='"Liberation Sans", Arial, sans-serif' font-weight="bold" font-size="74" fill="#000">G</text>
<text transform="translate(125.70,1105.76) rotate(-90) scale(1.0,1.035)" font-family='"Liberation Sans", Arial, sans-serif' font-weight="bold" font-size="44" fill="#000">e</text>
<text transform="translate(96.20,1078.58) rotate(-90) scale(0.86,1.0)" font-family='"Liberation Sans", Arial, sans-serif' font-weight="bold" font-size="74" fill="#000">(</text>
<text transform="translate(96.20,1054.49) rotate(-90) scale(1.0,1.035)" font-family='"Liberation Sans", Arial, sans-serif' font-weight="bold" font-size="74" fill="#000">2</text>
<text transform="translate(96.20,1014.16) rotate(-90) scale(1.0,1.035)" font-family='"Liberation Sans", Arial, sans-serif' font-weight="bold" font-size="74" fill="#000">e</text>
<text transform="translate(54.90,970.14) rotate(-90) scale(1.0,1.035)" font-family='"Liberation Sans", Arial, sans-serif' font-weight="bold" font-size="44" fill="#000">2</text>
<text transform="translate(96.20,946.54) rotate(-90) scale(1.0,1.035)" font-family='"Liberation Sans", Arial, sans-serif' font-weight="bold" font-size="74" fill="#000">/</text>
<text transform="translate(96.20,924.78) rotate(-90) scale(1.0,1.035)" font-family='"Liberation Sans", Arial, sans-serif' font-weight="bold" font-size="74" fill="#000">h</text>
<text transform="translate(96.20,875.96) rotate(-90) scale(0.86,1.0)" font-family='"Liberation Sans", Arial, sans-serif' font-weight="bold" font-size="74" fill="#000">)</text>
<text transform="translate(552.13,1412.00) scale(1.16,1.0)" font-family='"Liberation Serif", "Times New Roman", serif' font-weight="normal" font-size="74" fill="#000" stroke="#000" stroke-width="0.5">μ</text>
<text transform="translate(613.32,1412.00) scale(0.86,1.0)" font-family='"Liberation Sans", Arial, sans-serif' font-weight="bold" font-size="74" fill="#000">(</text>
<text transform="translate(635.69,1412.00) scale(1.0,1.035)" font-family='"Liberation Sans", Arial, sans-serif' font-weight="bold" font-size="74" fill="#000">meV</text>
<text transform="translate(795.04,1412.00) scale(0.86,1.0)" font-family='"Liberation Sans", Arial, sans-serif' font-weight="bold" font-size="74" fill="#000">)</text>
<path d="M1188.5,344.4 1190.0,344.4 1191.5,344.5 1193.0,344.5 1194.6,344.6 1196.1,344.7 1197.6,344.7 1199.1,344.8 1200.6,344.8 1202.1,344.9 1203.6,345.0 1205.1,345.1 1206.7,345.2 1208.2,345.2 1209.7,345.3 1211.2,345.4 1212.7,345.5 1214.2,345.6 1215.7,345.7 1217.2,345.8 1218.7,345.9 1220.3,346.0 1221.8,346.1 1223.3,346.2 1224.8,346.3 1226.3,346.4 1227.8,346.5 1229.3,346.6 1230.8,346.7 1232.3,346.9 1233.8,347.0 1235.3,347.1 1236.9,347.2 1238.4,347.4 1239.9,347.5 1241.4,347.7 1242.9,347.8 1244.4,348.0 1245.9,348.1 1247.4,348.3 1248.9,348.5 1250.4,348.7 1251.9,348.8 1253.4,349.0 1254.9,349.2 1256.4,349.4 1257.9,349.5 1259.4,349.7 1260.9,349.9 1262.4,350.1 1263.9,350.3 1265.4,350.5 1266.9,350.7 1268.4,350.9 1270.0,351.1 1271.5,351.3 1273.0,351.5 1274.5,351.7 1276.0,351.9 1277.5,352.2 1279.0,352.4 1280.5,352.6 1282.0,352.9 1283.4,353.1 1284.9,353.4 1286.4,353.6 1287.9,353.9 1289.4,354.1 1290.9,354.4 1292.4,354.7 1293.9,355.0 1295.3,355.3 1296.8,355.6 1298.3,356.0 1299.8,356.3 1301.3,356.7 1302.8,357.0 1304.2,357.4 1305.7,357.9 1307.1,358.3 1308.6,358.8 1310.0,359.3 1311.4,359.8 1312.7,360.4 1314.1,361.0 1315.5,361.7 1316.8,362.4 1318.2,363.1 1319.5,363.9 1320.8,364.7 1322.1,365.5 1323.4,366.4 1324.6,367.3 1325.8,368.2 1327.0,369.1 1328.2,370.0 1329.3,371.0 1330.4,372.1 1331.5,373.2 1332.5,374.3 1333.5,375.5 1334.5,376.6 1335.3,377.8 1336.2,379.1 1337.0,380.3 1337.8,381.6 1338.6,382.9 1339.3,384.3 1340.1,385.7 1340.8,387.0 1341.4,388.4 1342.0,389.8 1342.5,391.3 1343.0,392.7 1343.5,394.1 1343.9,395.5 1344.3,396.9 1344.6,398.4 1345.0,399.9 1345.3,401.3 1345.7,402.8 1346.0,404.3 1346.3,405.8 1346.5,407.3 1346.8,408.8 1347.1,410.3 1347.3,411.8 1347.5,413.3 1347.8,414.9 1348.0,416.4 1348.2,417.9 1348.4,419.4 1348.6,420.8 1348.7,422.3 1348.9,423.8 1349.1,425.4 1349.3,426.9 1349.4,428.4 1349.6,429.9 1349.7,431.4 1349.9,432.9 1350.0,434.4 1350.1,435.9 1350.3,437.4 1350.4,438.9 1350.5,440.4 1350.7,441.9 1350.8,443.5 1350.9,445.0 1351.0,446.5 1351.2,448.0 1351.3,449.5 1351.4,451.0 1351.6,452.5 1351.7,454.0 1351.8,455.5 1351.9,457.0 1352.1,458.5 1352.2,460.1 1352.3,461.6 1352.4,463.1 1352.5,464.6 1352.7,466.1 1352.8,467.6 1352.9,469.1 1353.0,470.6 1353.1,472.1 1353.2,473.6 1353.3,475.2 1353.4,476.7 1353.5,478.2 1353.6,479.7 1353.8,481.2 1353.9,482.7 1354.0,484.2 1354.1,485.7 1354.2,487.2 1354.3,488.7 1354.4,490.3 1354.5,491.8 1354.6,493.3 1354.6,494.8 1354.7,496.3 1354.8,497.8 1354.9,499.3 1355.0,500.8 1355.1,502.3 1355.2,503.9 1355.3,505.4 1355.4,506.9 1355.5,508.4 1355.6,509.9 1355.7,511.4 1355.8,512.9 1355.9,514.4 1356.0,515.9 1356.1,517.4 1356.2,519.0 1356.3,520.5 1356.4,522.0 1356.6,523.5 1356.7,525.0 1356.8,526.5 1356.9,528.0 1357.0,529.5 1357.2,531.0 1357.3,532.5 1357.4,534.0 1357.5,535.6 1357.7,537.1 1357.8,538.6 1357.9,540.1 1358.1,541.6 1358.2,543.1 1358.3,541.6 1358.3,540.1 1358.4,538.6 1358.4,537.1 1358.5,535.5 1358.6,534.0 1358.6,532.5 1358.7,531.0 1358.8,529.5 1358.8,528.0 1358.9,526.5 1359.0,525.0 1359.0,523.5 1359.1,521.9 1359.1,520.4 1359.2,518.9 1359.3,517.4 1359.3,515.9 1359.4,514.4 1359.4,512.9 1359.5,511.4 1359.5,509.9 1359.6,508.3 1359.7,506.8 1359.7,505.3 1359.7,503.8 1359.8,502.3 1359.8,500.8 1359.9,499.3 1359.9,497.8 1360.0,496.2 1360.0,494.7 1360.0,493.2 1360.1,491.7 1360.1,490.2 1360.1,488.7 1360.1,487.2 1360.2,485.7 1360.2,484.2 1360.2,482.6 1360.2,481.1 1360.2,479.6 1360.2,478.1 1360.2,476.6 1360.2,475.1 1360.2,473.6 1360.2,472.1 1360.2,470.5 1360.2,469.0 1360.2,467.5 1360.3,466.0 1360.3,464.5 1360.3,463.0 1360.3,461.5 1360.3,460.0 1360.3,458.5 1360.3,456.9 1360.3,455.4 1360.3,453.9 1360.3,452.4 1360.3,450.9 1360.3,449.4 1360.3,447.9 1360.3,446.4 1360.3,444.8 1360.3,443.3 1360.3,441.8 1360.3,440.3 1360.3,438.8 1360.3,437.3 1360.3,435.8 1360.3,434.3 1360.3,432.7 1360.3,431.2 1360.3,429.7 1360.3,428.2 1360.3,426.7 1360.3,425.2 1360.3,423.7 1360.3,422.2 1360.3,420.6 1360.3,419.1 1360.3,417.6 1360.3,416.1 1360.3,414.6 1360.4,413.1 1360.4,411.6 1360.4,410.1 1360.4,408.5 1360.4,407.0 1360.4,405.5 1360.4,404.0 1360.4,402.5 1360.4,401.0 1360.4,399.5 1360.4,398.0 1360.4,396.5 1360.4,394.9 1360.4,393.4 1360.4,391.9 1360.4,390.4 1360.4,388.9 1360.4,387.4 1360.4,385.9 1360.4,384.4 1360.4,382.8 1360.4,381.3 1360.4,379.8 1360.4,378.3 1360.4,376.8 1360.4,375.3 1360.4,373.8 1360.4,372.3 1360.4,370.7 1360.4,369.2 1360.4,367.7 1360.4,366.2 1360.4,364.7 1360.4,363.2 1360.4,361.7 1360.4,360.2 1360.4,358.6 1360.4,357.1 1360.4,355.6 1360.4,354.1 1360.4,352.6 1360.4,351.1 1360.4,349.6 1360.4,348.1 1360.4,346.5 1360.5,345.0 1360.5,343.5 1360.5,342.0 1360.5,340.5 1360.5,339.0 1360.5,337.5 1360.5,336.0 1360.5,334.4 1360.5,332.9 1360.5,331.4 1360.5,329.9 1360.5,328.4 1360.5,326.9 1360.5,325.4 1360.5,323.9 1360.5,322.3 1360.6,320.8 1360.6,319.3 1360.6,317.8 1360.6,316.3 1360.6,314.8 1360.6,313.3 1360.6,311.8 1360.7,310.3 1360.7,308.7 1360.7,307.2 1360.7,305.7 1360.7,304.2 1360.8,302.7 1360.8,301.2 1360.8,299.7 1360.8,298.2 1360.9,296.6 1360.9,295.1 1360.9,293.6 1360.9,292.1 1360.9,290.6 1361.0,289.1 1361.0,287.6 1361.0,286.1 1361.0,284.5 1361.1,283.0 1361.1,281.5 1361.1,280.0 1361.2,278.5 1361.2,277.0 1361.2,275.5 1361.2,274.0 1361.3,272.4 1361.3,270.9 1361.3,269.4 1361.3,267.9 1361.4,266.4 1361.4,264.9 1361.4,263.4 1361.4,261.9 1361.5,260.4 1361.5,258.8 1361.5,257.3 1361.5,255.8 1361.5,254.3 1361.6,252.8 1361.6,251.3 1361.6,249.8 1361.6,248.3 1361.6,246.7 1361.7,245.2 1361.7,243.7 1361.7,242.2 1361.7,240.7 1361.7,239.2 1361.8,237.7 1361.8,236.2 1361.8,234.6 1361.8,233.1 1361.8,231.6 1361.9,230.1 1361.9,228.6 1361.9,227.1 1361.9,225.6 1361.9,224.1 1362.0,222.6 1362.0,221.0 1362.0,219.5 1362.0,218.0 1362.0,216.5 1362.1,215.0 1362.1,213.5 1362.1,212.0 1362.1,210.5 1362.1,208.9 1362.1,207.4 1362.2,205.9 1362.2,204.4 1362.2,202.9 1362.2,201.4 1362.2,199.9 1362.3,198.4 1362.3,196.8 1362.3,195.3 1362.3,193.8 1362.3,192.3 1362.4,190.8 1362.4,189.3 1362.4,187.8 1362.4,186.3 1362.4,184.7 1362.4,183.2 1362.5,181.7 1362.5,180.2 1362.5,178.7 1362.6,180.2 1362.6,181.7 1362.7,183.2 1362.7,184.7 1362.8,186.2 1362.9,187.8 1362.9,189.3 1363.0,190.8 1363.1,192.3 1363.1,193.8 1363.2,195.3 1363.3,196.8 1363.3,198.3 1363.4,199.8 1363.5,201.3 1363.6,202.9 1363.6,204.4 1363.7,205.9 1363.8,207.4 1363.9,208.9 1363.9,210.4 1364.0,211.9 1364.1,213.4 1364.2,214.9 1364.3,216.4 1364.3,217.9 1364.4,219.5 1364.5,221.0 1364.6,222.5 1364.7,224.0 1364.7,225.5 1364.8,227.0 1364.9,228.5 1365.0,230.0 1365.1,231.5 1365.2,233.0 1365.3,234.5 1365.3,236.0 1365.4,237.6 1365.5,239.1 1365.6,240.6 1365.7,242.1 1365.8,243.6 1365.9,245.1 1366.0,246.6 1366.1,248.1 1366.2,249.6 1366.3,251.1 1366.3,252.6 1366.4,254.1 1366.5,255.7 1366.6,257.2 1366.7,258.7 1366.8,260.2 1366.9,261.7 1367.0,263.2 1367.1,264.7 1367.2,266.2 1367.3,267.7 1367.4,269.2 1367.6,270.7 1367.7,272.2 1367.8,273.7 1367.9,275.2 1368.0,276.8 1368.1,278.3 1368.2,279.8 1368.3,281.3 1368.4,282.8 1368.6,284.3 1368.7,285.8 1368.8,287.3 1368.9,288.8 1369.0,290.3 1369.1,291.8 1369.3,293.3 1369.4,294.8 1369.5,296.3 1369.6,297.8 1369.8,299.4 1369.9,300.9 1370.0,302.4 1370.1,303.9 1370.3,305.4 1370.4,306.9 1370.5,308.4 1370.6,309.9 1370.8,311.4 1370.9,312.9 1371.0,314.4 1371.2,315.9 1371.3,317.4 1371.5,318.9 1371.6,320.4 1371.8,321.9 1372.0,323.4 1372.1,324.9 1372.3,326.4 1372.5,327.9 1372.7,329.4 1372.8,330.9 1373.0,332.4 1373.2,333.9 1373.4,335.4 1373.5,336.9 1373.7,338.4 1373.9,339.9 1374.1,341.4 1374.3,342.9 1374.4,344.4 1374.6,345.9 1374.8,347.4 1375.0,348.9 1375.1,350.4 1375.3,351.9 1375.5,353.4 1375.7,354.9 1375.9,356.4 1376.0,357.9 1376.2,359.4 1376.4,360.9 1376.6,362.4 1376.7,363.9 1376.9,365.4 1377.1,366.9 1377.2,368.5 1377.4,370.0 1377.6,371.5 1377.7,373.0 1377.9,374.5 1378.0,376.0 1378.2,377.5 1378.3,379.0 1378.5,380.5 1378.6,382.0 1378.7,383.5 1378.9,385.0 1379.0,386.5 1379.1,388.0 1379.3,389.5 1379.4,391.0 1379.5,392.5 1379.7,394.0 1379.8,395.5 1379.9,397.0 1380.1,398.5 1380.2,400.0 1380.3,401.5 1380.5,403.0 1380.6,404.6 1380.7,406.1 1380.8,407.6 1381.0,409.1 1381.1,410.6 1381.2,412.1 1381.3,413.6 1381.4,415.1 1381.5,416.6 1381.7,418.1 1381.8,419.6 1381.9,421.1 1382.0,422.6 1382.1,424.1 1382.2,425.7 1382.3,427.2 1382.4,428.7 1382.4,430.2 1382.5,431.7 1382.6,433.2 1382.7,434.7 1382.8,436.2 1382.9,437.7 1382.9,439.2 1383.0,440.7 1383.1,442.2 1383.1,443.8 1383.2,445.3 1383.3,446.8 1383.3,448.3 1383.4,449.8 1383.4,451.3 1383.5,452.8 1383.6,454.3 1383.6,455.8 1383.7,457.3 1383.8,458.9 1383.8,460.4 1383.9,461.9 1383.9,463.4 1384.0,464.9 1384.0,466.4 1384.1,467.9 1384.1,469.4 1384.2,470.9 1384.2,472.4 1384.2,474.0 1384.3,475.5 1384.3,477.0 1384.3,478.5 1384.4,480.0 1384.4,481.5 1384.4,483.0 1384.4,484.5 1384.4,486.0 1384.4,487.6 1384.4,489.1 1384.4,490.6 1384.4,492.1 1384.4,493.6 1384.5,492.1 1384.7,490.6 1384.8,489.1 1384.9,487.6 1385.1,486.1 1385.2,484.6 1385.3,483.1 1385.4,481.5 1385.5,480.0 1385.6,478.5 1385.7,477.0 1385.8,475.5 1385.9,474.0 1385.9,472.5 1386.0,471.0 1386.0,469.5 1386.0,468.0 1386.1,466.5 1386.1,465.0 1386.1,463.4 1386.1,461.9 1386.1,460.4 1386.1,458.9 1386.2,457.4 1386.2,455.9 1386.2,454.4 1386.2,452.9 1386.2,451.4 1386.2,449.9 1386.2,448.3 1386.3,446.8 1386.3,445.3 1386.3,443.8 1386.3,442.3 1386.3,440.8 1386.3,439.3 1386.3,437.8 1386.3,436.3 1386.3,434.7 1386.3,433.2 1386.3,431.7 1386.4,430.2 1386.4,428.7 1386.4,427.2 1386.4,425.7 1386.4,424.2 1386.4,422.7 1386.4,421.1 1386.4,419.6 1386.4,418.1 1386.4,416.6 1386.4,415.1 1386.4,413.6 1386.4,412.1 1386.4,410.6 1386.5,409.1 1386.5,407.5 1386.5,406.0 1386.5,404.5 1386.5,403.0 1386.5,401.5 1386.5,400.0 1386.5,398.5 1386.5,397.0 1386.5,395.5 1386.5,393.9 1386.5,392.4 1386.6,390.9 1386.6,389.4 1386.6,387.9 1386.6,386.4 1386.6,384.9 1386.6,383.4 1386.6,381.9 1386.6,380.4 1386.6,378.8 1386.6,377.3 1386.6,375.8 1386.6,374.3 1386.6,372.8 1386.6,371.3 1386.7,369.8 1386.7,368.3 1386.7,366.8 1386.7,365.2 1386.7,363.7 1386.7,362.2 1386.7,360.7 1386.7,359.2 1386.7,357.7 1386.7,356.2 1386.7,354.7 1386.7,353.2 1386.7,351.6 1386.7,350.1 1386.7,348.6 1386.7,347.1 1386.8,345.6 1386.8,344.1 1386.8,342.6 1386.8,341.1 1386.8,339.6 1386.8,338.1 1386.8,336.5 1386.8,335.0 1386.8,333.5 1386.8,332.0 1386.8,330.5 1386.8,329.0 1386.8,327.5 1386.8,326.0 1386.8,324.5 1386.8,322.9 1386.8,321.4 1386.9,319.9 1386.9,318.4 1386.9,316.9 1386.9,315.4 1386.9,313.9 1386.9,312.4 1386.9,310.9 1386.9,309.3 1386.9,307.8 1386.9,306.3 1386.9,304.8 1386.9,303.3 1386.9,301.8 1386.9,300.3 1386.9,298.8 1386.9,297.3 1387.0,295.8 1387.0,294.2 1387.0,292.7 1387.0,291.2 1387.0,289.7 1387.0,288.2 1387.0,286.7 1387.0,285.2 1387.0,283.7 1387.0,282.2 1387.0,280.6 1387.0,279.1 1387.0,277.6 1387.0,276.1 1387.1,274.6 1387.1,273.1 1387.1,271.6 1387.1,270.1 1387.1,268.6 1387.1,267.0 1387.1,265.5 1387.1,264.0 1387.1,262.5 1387.1,261.0 1387.1,259.5 1387.1,258.0 1387.2,256.5 1387.2,255.0 1387.2,253.5 1387.2,251.9 1387.2,250.4 1387.2,248.9 1387.2,247.4 1387.2,245.9 1387.2,244.4 1387.2,242.9 1387.3,241.4 1387.3,239.9 1387.3,238.3 1387.3,236.8 1387.3,235.3 1387.3,233.8 1387.3,232.3 1387.3,230.8 1387.3,229.3 1387.4,227.8 1387.4,226.3 1387.4,224.7 1387.4,223.2 1387.4,221.7 1387.4,220.2 1387.4,218.7 1387.4,217.2 1387.5,215.7 1387.5,214.2 1387.5,212.7 1387.5,211.2 1387.5,209.6 1387.5,208.1 1387.5,206.6 1387.6,205.1 1387.6,203.6 1387.6,202.1 1387.6,200.6 1387.6,199.1 1387.6,197.6 1387.6,196.0 1387.7,194.5 1387.7,193.0 1387.7,191.5 1387.7,190.0 1387.7,188.5 1387.8,187.0 1387.8,185.5 1387.8,184.0 1387.8,182.5 1387.8,180.9 1387.9,179.4 1387.9,177.9 1387.9,176.4 1387.9,174.9 1387.9,173.4 1388.0,171.9 1388.0,170.4 1388.0,168.9 1388.0,167.3 1388.1,165.8 1388.1,164.3 1388.1,162.8 1388.2,161.3 1388.2,159.8 1388.3,158.3 1388.3,156.8 1388.4,155.3 1388.4,153.8 1388.4,152.2 1388.5,150.7 1388.6,149.2 1388.6,147.7 1388.7,146.2 1388.7,144.7 1388.8,143.2 1388.8,141.7 1388.9,140.2 1388.9,138.7 1389.0,137.1 1389.1,135.6 1389.1,134.1 1389.2,132.6 1389.2,131.1 1389.3,129.6 1389.4,131.1 1389.4,132.6 1389.5,134.1 1389.5,135.6 1389.6,137.1 1389.7,138.7 1389.7,140.2 1389.8,141.7 1389.8,143.2 1389.9,144.7 1390.0,146.2 1390.0,147.7 1390.1,149.2 1390.2,150.7 1390.2,152.2 1390.3,153.8 1390.4,155.3 1390.5,156.8 1390.5,158.3 1390.6,159.8 1390.7,161.3 1390.7,162.8 1390.8,164.3 1390.9,165.8 1391.0,167.3 1391.1,168.8 1391.1,170.4 1391.2,171.9 1391.3,173.4 1391.4,174.9 1391.4,176.4 1391.5,177.9 1391.6,179.4 1391.7,180.9 1391.8,182.4 1391.9,183.9 1391.9,185.4 1392.0,186.9 1392.1,188.5 1392.2,190.0 1392.3,191.5 1392.4,193.0 1392.4,194.5 1392.5,196.0 1392.6,197.5 1392.7,199.0 1392.8,200.5 1392.9,202.0 1393.0,203.5 1393.1,205.0 1393.1,206.6 1393.2,208.1 1393.3,209.6 1393.4,211.1 1393.5,212.6 1393.6,214.1 1393.7,215.6 1393.8,217.1 1393.9,218.6 1394.0,220.1 1394.1,221.6 1394.2,223.1 1394.3,224.7 1394.5,226.2 1394.6,227.7 1394.7,229.2 1394.8,230.7 1394.9,232.2 1395.1,233.7 1395.2,235.2 1395.3,236.7 1395.5,238.2 1395.6,239.7 1395.7,241.2 1395.9,242.7 1396.1,244.2 1396.2,245.7 1396.4,247.2 1396.5,248.7 1396.7,250.2 1396.9,251.7 1397.1,253.2 1397.3,254.7 1397.4,256.2 1397.6,257.7 1397.8,259.2 1398.0,260.7 1398.2,262.2 1398.4,263.7 1398.6,265.2 1398.8,266.7 1399.1,268.2 1399.3,269.7 1399.5,271.2 1399.7,272.7 1399.9,274.2 1400.2,275.7 1400.4,277.2 1400.6,278.7 1400.9,280.2 1401.1,281.6 1401.3,283.1 1401.6,284.6 1401.9,286.1 1402.1,287.6 1402.4,289.1 1402.7,290.5 1403.0,292.0 1403.3,293.5 1403.6,295.0 1403.9,296.5 1404.3,297.9 1404.6,299.4 1404.9,300.9 1405.2,302.4 1405.6,303.8 1405.9,305.3 1406.2,306.8 1406.5,308.3 1406.9,309.8 1407.2,311.2 1407.5,312.7 1407.9,314.2 1408.2,315.7 1408.5,317.1 1408.8,318.6 1409.1,320.1 1409.4,321.6 1409.7,323.1 1410.0,324.5 1410.3,326.0 1410.7,327.5 1411.0,329.0 1411.3,330.5 1411.6,331.9 1411.9,333.4 1412.2,334.9 1412.6,336.4 1412.9,337.8 1413.2,339.3 1413.5,340.8 1413.8,342.3 1414.2,343.8 1414.5,345.2 1414.8,346.7 1415.1,348.2 1415.4,349.7 1415.7,351.1 1416.0,352.6 1416.4,354.1 1416.7,355.6 1417.0,357.1 1417.3,358.5 1417.6,360.0 1417.9,361.5 1418.2,363.0 1418.5,364.5 1418.8,365.9 1419.1,367.4 1419.3,368.9 1419.6,370.4 1419.9,371.9 1420.2,373.4 1420.4,374.8 1420.7,376.3 1421.0,377.8 1421.2,379.3 1421.5,380.8 1421.7,382.3 1421.9,383.8 1422.2,385.3 1422.4,386.8 1422.6,388.2 1422.9,389.7 1423.1,391.2 1423.4,392.7 1423.6,394.2 1423.8,395.7 1424.0,397.2 1424.3,398.7 1424.5,400.2 1424.7,401.7 1424.9,403.2 1425.1,404.7 1425.4,406.2 1425.6,407.7 1425.8,409.2 1426.0,410.7 1426.2,412.2 1426.4,413.7 1426.6,415.2 1426.8,416.7 1427.0,418.2 1427.2,419.7 1427.4,421.2 1427.6,422.7 1427.8,424.2 1428.0,425.7 1428.1,427.2 1428.3,428.7 1428.5,430.2 1428.7,431.7 1428.8,433.2 1429.0,434.7 1429.2,436.2 1429.3,437.7 1429.5,439.2 1429.6,440.7 1429.8,442.2 1429.9,443.7 1430.1,445.2 1430.2,446.7 1430.4,448.2 1430.5,449.7 1430.7,451.2 1430.8,452.7 1431.0,454.2 1431.1,455.7 1431.3,457.2 1431.4,458.7 1431.5,460.2 1431.7,461.7 1431.8,463.2 1431.9,464.7 1432.1,466.2 1432.2,467.7 1432.3,469.3 1432.4,470.8 1432.5,472.3 1432.6,473.8 1432.7,475.3 1432.8,476.8 1432.9,478.3 1433.0,479.8 1433.1,481.3 1433.2,482.8 1433.3,484.3 1433.4,485.8 1433.4,487.3 1433.5,488.9 1433.6,490.4 1433.6,491.9 1433.7,493.4 1433.7,494.9 1433.8,496.4 1433.8,497.9 1433.9,499.4 1433.9,500.9 1434.0,502.4 1434.0,504.0 1434.1,505.5 1434.1,507.0 1434.1,508.5 1434.2,510.0 1434.2,511.5 1434.3,513.0 1434.3,514.5 1434.4,516.0 1434.4,517.5 1434.4,519.1 1434.5,520.6 1434.5,522.1 1434.6,523.6 1434.6,525.1 1434.7,526.6 1434.8,528.1 1434.8,529.6 1434.9,531.1 1435.0,532.6 1435.0,534.2 1435.1,535.7 1435.2,537.2 1435.3,538.7 1435.4,540.2 1435.5,541.7 1435.6,543.2 1435.7,541.7 1435.7,540.2 1435.8,538.7 1435.9,537.2 1436.0,535.7 1436.0,534.2 1436.1,532.7 1436.2,531.2 1436.2,529.7 1436.3,528.1 1436.4,526.6 1436.5,525.1 1436.5,523.6 1436.6,522.1 1436.7,520.6 1436.7,519.1 1436.8,517.6 1436.8,516.1 1436.9,514.6 1436.9,513.1 1437.0,511.6 1437.0,510.1 1437.1,508.6 1437.1,507.1 1437.1,505.6 1437.1,504.1 1437.2,502.6 1437.2,501.1 1437.2,499.5 1437.2,498.0 1437.2,496.5 1437.2,495.0 1437.2,493.5 1437.3,492.0 1437.3,490.5 1437.3,489.0 1437.3,487.5 1437.3,486.0 1437.3,484.5 1437.3,483.0 1437.3,481.5 1437.3,480.0 1437.3,478.5 1437.3,477.0 1437.4,475.4 1437.4,473.9 1437.4,472.4 1437.4,470.9 1437.4,469.4 1437.4,467.9 1437.4,466.4 1437.4,464.9 1437.4,463.4 1437.4,461.9 1437.4,460.4 1437.4,458.9 1437.4,457.4 1437.4,455.9 1437.4,454.4 1437.4,452.9 1437.4,451.3 1437.4,449.8 1437.4,448.3 1437.5,446.8 1437.5,445.3 1437.5,443.8 1437.5,442.3 1437.5,440.8 1437.5,439.3 1437.5,437.8 1437.5,436.3 1437.5,434.8 1437.5,433.3 1437.5,431.8 1437.5,430.3 1437.5,428.7 1437.5,427.2 1437.5,425.7 1437.5,424.2 1437.5,422.7 1437.5,421.2 1437.5,419.7 1437.5,418.2 1437.5,416.7 1437.5,415.2 1437.5,413.7 1437.5,412.2 1437.6,410.7 1437.6,409.2 1437.6,407.7 1437.6,406.2 1437.6,404.6 1437.6,403.1 1437.6,401.6 1437.6,400.1 1437.6,398.6 1437.6,397.1 1437.6,395.6 1437.6,394.1 1437.6,392.6 1437.6,391.1 1437.6,389.6 1437.7,388.1 1437.7,386.6 1437.7,385.1 1437.7,383.6 1437.7,382.0 1437.7,380.5 1437.7,379.0 1437.7,377.5 1437.7,376.0 1437.7,374.5 1437.7,373.0 1437.7,371.5 1437.7,370.0 1437.7,368.5 1437.8,367.0 1437.8,365.5 1437.8,364.0 1437.8,362.5 1437.8,361.0 1437.8,359.5 1437.8,357.9 1437.8,356.4 1437.8,354.9 1437.8,353.4 1437.8,351.9 1437.8,350.4 1437.8,348.9 1437.8,347.4 1437.9,345.9 1437.9,344.4 1437.9,342.9 1437.9,341.4 1437.9,339.9 1437.9,338.4 1437.9,336.9 1437.9,335.4 1437.9,333.8 1437.9,332.3 1437.9,330.8 1437.9,329.3 1437.9,327.8 1438.0,326.3 1438.0,324.8 1438.0,323.3 1438.0,321.8 1438.0,320.3 1438.0,318.8 1438.0,317.3 1438.0,315.8 1438.0,314.3 1438.0,312.8 1438.0,311.2 1438.1,309.7 1438.1,308.2 1438.1,306.7 1438.1,305.2 1438.1,303.7 1438.1,302.2 1438.1,300.7 1438.1,299.2 1438.1,297.7 1438.1,296.2 1438.1,294.7 1438.2,293.2 1438.2,291.7 1438.2,290.2 1438.2,288.7 1438.2,287.1 1438.2,285.6 1438.2,284.1 1438.2,282.6 1438.2,281.1 1438.3,279.6 1438.3,278.1 1438.3,276.6 1438.3,275.1 1438.3,273.6 1438.3,272.1 1438.3,270.6 1438.3,269.1 1438.3,267.6 1438.4,266.1 1438.4,264.6 1438.4,263.0 1438.4,261.5 1438.4,260.0 1438.4,258.5 1438.4,257.0 1438.4,255.5 1438.5,254.0 1438.5,252.5 1438.5,251.0 1438.5,249.5 1438.5,248.0 1438.5,246.5 1438.6,245.0 1438.6,243.5 1438.6,242.0 1438.6,240.5 1438.6,238.9 1438.6,237.4 1438.7,235.9 1438.7,234.4 1438.7,232.9 1438.7,231.4 1438.7,229.9 1438.8,228.4 1438.8,226.9 1438.8,225.4 1438.8,223.9 1438.9,222.4 1438.9,220.9 1438.9,219.4 1438.9,217.9 1439.0,216.4 1439.0,214.8 1439.0,213.3 1439.0,211.8 1439.1,210.3 1439.1,208.8 1439.1,207.3 1439.2,205.8 1439.2,204.3 1439.2,202.8 1439.2,201.3 1439.3,199.8 1439.3,198.3 1439.3,196.8 1439.4,195.3 1439.4,193.8 1439.4,192.3 1439.5,190.7 1439.5,189.2 1439.5,187.7 1439.5,186.2 1439.6,184.7 1439.6,183.2 1439.6,181.7 1439.7,180.2 1439.7,178.7 1439.8,180.2 1439.8,181.7 1439.9,183.2 1439.9,184.8 1440.0,186.3 1440.1,187.8 1440.1,189.3 1440.2,190.8 1440.3,192.3 1440.3,193.8 1440.4,195.4 1440.5,196.9 1440.5,198.4 1440.6,199.9 1440.7,201.4 1440.7,202.9 1440.8,204.4 1440.9,205.9 1441.0,207.5 1441.0,209.0 1441.1,210.5 1441.2,212.0 1441.3,213.5 1441.3,215.0 1441.4,216.5 1441.5,218.1 1441.6,219.6 1441.6,221.1 1441.7,222.6 1441.8,224.1 1441.9,225.6 1442.0,227.1 1442.0,228.6 1442.1,230.2 1442.2,231.7 1442.3,233.2 1442.4,234.7 1442.5,236.2 1442.5,237.7 1442.6,239.2 1442.7,240.8 1442.8,242.3 1442.9,243.8 1443.0,245.3 1443.1,246.8 1443.2,248.3 1443.3,249.8 1443.4,251.3 1443.5,252.8 1443.6,254.4 1443.7,255.9 1443.8,257.4 1443.8,258.9 1443.9,260.4 1444.0,261.9 1444.1,263.4 1444.1,265.0 1444.2,266.5 1444.3,268.0 1444.3,269.5 1444.4,271.0 1444.4,272.5 1444.5,274.0 1444.6,275.6 1444.6,277.1 1444.7,278.6 1444.8,280.1 1444.9,281.6 1445.0,283.1 1445.1,284.6 1445.2,286.1 1445.3,287.6 1445.5,289.2 1445.6,290.7 1445.7,292.2 1445.9,293.7 1446.0,295.2 1446.1,296.7 1446.2,298.2 1446.3,299.7 1446.4,301.2 1446.4,302.8 1446.5,304.3 1446.5,305.8 1446.6,307.3 1446.6,308.8 1446.7,310.3 1446.7,311.8 1446.8,313.4 1446.8,314.9 1446.9,316.4 1446.9,317.9 1446.9,319.4 1447.0,320.9 1447.0,322.4 1447.1,324.0 1447.1,325.5 1447.1,327.0 1447.2,328.5 1447.2,330.0 1447.2,331.5 1447.3,333.1 1447.3,334.6 1447.3,336.1 1447.4,337.6 1447.4,339.1 1447.4,340.6 1447.5,342.1 1447.5,343.7 1447.5,345.2 1447.6,346.7 1447.6,348.2 1447.7,346.6 1447.8,345.1 1447.9,343.5 1447.9,342.0 1448.0,340.4 1448.1,338.9 1448.3,337.3 1448.4,335.7 1448.5,334.2 1448.6,332.6 1448.7,331.1 1448.8,329.5 1449.0,328.0 1449.1,326.4 1449.2,324.9 1449.4,323.3 1449.5,321.8 1449.7,320.2 1449.9,318.6 1450.0,317.1 1450.2,315.5 1450.4,314.0 1450.5,312.4 1450.7,310.9 1450.9,309.3 1451.1,307.8 1451.3,306.2 1451.5,304.7 1451.7,306.2 1451.8,307.7 1452.0,309.2 1452.1,310.8 1452.2,312.3 1452.4,313.8 1452.5,315.3 1452.6,316.8 1452.8,318.3 1452.9,319.8 1453.0,321.4 1453.2,322.9 1453.3,324.4 1453.4,325.9 1453.5,327.4 1453.6,328.9 1453.8,330.5 1453.8,332.0 1453.9,333.5 1454.0,335.0 1454.0,336.5 1454.0,338.1 1454.1,339.6 1454.1,341.1 1454.1,342.6 1454.2,344.1 1454.2,345.7 1454.2,347.2 1454.3,348.7 1454.3,350.2 1454.4,351.7 1454.4,353.3 1454.5,354.8 1454.6,356.3 1454.8,357.8 1454.9,359.3 1455.1,360.8 1455.2,362.3 1455.4,363.9 1455.5,365.4 1455.7,366.9 1455.9,368.4 1456.0,369.9 1456.2,371.4 1456.4,372.9 1456.6,374.5 1456.8,376.0 1457.0,377.5 1457.1,379.0 1457.3,380.5 1457.4,382.0 1457.5,383.5 1457.5,385.0 1457.6,386.6 1457.6,388.1 1457.6,389.6 1457.7,391.1 1457.7,392.6 1457.7,394.2 1457.7,395.7 1457.7,397.2 1457.8,398.7 1457.8,400.3 1457.9,401.8 1457.9,403.3 1458.0,404.8 1458.0,406.3 1458.1,407.8 1458.2,409.4 1458.3,410.9 1458.4,412.4 1458.5,413.9 1458.6,415.4 1458.7,417.0 1458.8,418.5 1458.9,420.0 1459.0,421.5 1459.1,423.0 1459.3,424.5 1459.4,426.1 1459.5,427.6 1459.6,429.1 1459.7,430.6 1459.8,432.1 1459.9,433.6 1460.0,435.2 1460.1,436.7 1460.2,438.2 1460.3,439.7 1460.4,441.2 1460.5,442.8 1460.6,444.3 1460.6,445.8 1460.7,447.3 1460.8,448.8 1460.9,450.3 1460.9,451.9 1461.0,453.4 1461.1,454.9 1461.2,456.4 1461.2,457.9 1461.3,459.5 1461.4,461.0 1461.4,462.5 1461.5,464.0 1461.6,465.5 1461.6,467.1 1461.7,468.6 1461.8,470.1 1461.8,471.6 1461.9,473.1 1462.0,474.7 1462.0,476.2 1462.1,477.7 1462.1,479.2 1462.2,480.7 1462.3,482.3 1462.3,483.8 1462.4,485.3 1462.4,486.8 1462.5,488.3 1462.5,489.9 1462.6,491.4 1462.6,492.9 1462.7,491.4 1462.9,489.9 1463.0,488.4 1463.1,486.9 1463.3,485.4 1463.4,483.9 1463.5,482.4 1463.7,480.9 1463.8,479.4 1463.9,477.9 1464.0,476.4 1464.1,474.9 1464.1,473.3 1464.2,471.8 1464.2,470.3 1464.2,468.8 1464.2,467.3 1464.2,465.8 1464.2,464.3 1464.2,462.8 1464.2,461.3 1464.3,459.8 1464.3,458.3 1464.3,456.8 1464.3,455.3 1464.3,453.8 1464.3,452.3 1464.3,450.8 1464.3,449.2 1464.3,447.7 1464.3,446.2 1464.3,444.7 1464.3,443.2 1464.3,441.7 1464.3,440.2 1464.3,438.7 1464.3,437.2 1464.3,435.7 1464.3,434.2 1464.4,432.7 1464.4,431.2 1464.4,429.7 1464.4,428.1 1464.4,426.6 1464.4,425.1 1464.4,423.6 1464.4,422.1 1464.4,420.6 1464.4,419.1 1464.4,417.6 1464.4,416.1 1464.4,414.6 1464.4,413.1 1464.4,411.6 1464.4,410.0 1464.4,408.5 1464.4,407.0 1464.4,405.5 1464.4,404.0 1464.4,402.5 1464.4,401.0 1464.4,399.5 1464.4,398.0 1464.4,396.5 1464.4,395.0 1464.4,393.5 1464.4,391.9 1464.4,390.4 1464.4,388.9 1464.4,387.4 1464.4,385.9 1464.4,384.4 1464.4,382.9 1464.4,381.4 1464.4,379.9 1464.4,378.4 1464.4,376.9 1464.4,375.3 1464.4,373.8 1464.4,372.3 1464.5,370.8 1464.5,369.3 1464.5,367.8 1464.5,366.3 1464.5,364.8 1464.5,363.3 1464.5,361.8 1464.5,360.3 1464.5,358.8 1464.5,357.3 1464.5,355.7 1464.5,354.2 1464.5,352.7 1464.5,351.2 1464.5,349.7 1464.5,348.2 1464.5,346.7 1464.5,345.2 1464.5,343.7 1464.5,342.2 1464.5,340.7 1464.5,339.2 1464.5,337.6 1464.5,336.1 1464.5,334.6 1464.6,333.1 1464.6,331.6 1464.6,330.1 1464.6,328.6 1464.6,327.1 1464.6,325.6 1464.6,324.1 1464.6,322.6 1464.6,321.1 1464.6,319.6 1464.6,318.0 1464.6,316.5 1464.6,315.0 1464.6,313.5 1464.6,312.0 1464.6,310.5 1464.6,309.0 1464.6,307.5 1464.6,306.0 1464.6,304.5 1464.6,303.0 1464.7,301.5 1464.7,300.0 1464.7,298.4 1464.7,296.9 1464.7,295.4 1464.7,293.9 1464.7,292.4 1464.7,290.9 1464.7,289.4 1464.7,287.9 1464.7,286.4 1464.7,284.9 1464.7,283.4 1464.7,281.9 1464.7,280.3 1464.7,278.8 1464.8,277.3 1464.8,275.8 1464.8,274.3 1464.8,272.8 1464.8,271.3 1464.8,269.8 1464.8,268.3 1464.8,266.8 1464.8,265.3 1464.8,263.8 1464.8,262.3 1464.8,260.7 1464.8,259.2 1464.9,257.7 1464.9,256.2 1464.9,254.7 1464.9,253.2 1464.9,251.7 1464.9,250.2 1464.9,248.7 1464.9,247.2 1464.9,245.7 1464.9,244.2 1465.0,242.7 1465.0,241.1 1465.0,239.6 1465.0,238.1 1465.0,236.6 1465.0,235.1 1465.0,233.6 1465.0,232.1 1465.1,230.6 1465.1,229.1 1465.1,227.6 1465.1,226.1 1465.1,224.6 1465.1,223.1 1465.2,221.5 1465.2,220.0 1465.2,218.5 1465.2,217.0 1465.2,215.5 1465.2,214.0 1465.3,212.5 1465.3,211.0 1465.3,209.5 1465.3,208.0 1465.4,206.5 1465.4,205.0 1465.4,203.4 1465.4,201.9 1465.4,200.4 1465.5,198.9 1465.5,197.4 1465.5,195.9 1465.5,194.4 1465.6,192.9 1465.6,191.4 1465.6,189.9 1465.6,188.4 1465.7,186.9 1465.7,185.4 1465.7,183.9 1465.8,182.3 1465.8,180.8 1465.8,179.3 1465.8,177.8 1465.9,176.3 1465.9,174.8 1465.9,173.3 1466.0,171.8 1466.0,170.3 1466.0,168.8 1466.1,167.3 1466.1,165.8 1466.1,164.3 1466.2,162.7 1466.2,161.2 1466.3,159.7 1466.3,158.2 1466.4,156.7 1466.4,155.2 1466.5,153.7 1466.5,152.2 1466.6,150.7 1466.7,149.2 1466.7,147.7 1466.8,146.2 1466.8,144.7 1466.9,143.2 1467.0,141.7 1467.0,140.1 1467.1,138.6 1467.2,137.1 1467.2,135.6 1467.3,134.1 1467.4,132.6 1467.4,131.1 1467.5,129.6 1467.5,131.1 1467.5,132.6 1467.5,134.1 1467.5,135.6 1467.5,137.2 1467.5,138.7 1467.6,140.2 1467.6,141.7 1467.6,143.2 1467.6,144.7 1467.7,146.2 1467.7,147.7 1467.7,149.2 1467.7,150.7 1467.8,152.2 1467.8,153.8 1467.9,155.3 1467.9,156.8 1467.9,158.3 1468.0,159.8 1468.0,161.3 1468.1,162.8 1468.1,164.3 1468.2,165.8 1468.2,167.3 1468.3,168.8 1468.3,170.3 1468.4,171.9 1468.4,173.4 1468.5,174.9 1468.5,176.4 1468.6,177.9 1468.7,179.4 1468.7,180.9 1468.8,182.4 1468.8,183.9 1468.9,185.4 1469.0,186.9 1469.0,188.4 1469.1,189.9 1469.2,191.4 1469.2,192.9 1469.3,194.4 1469.4,196.0 1469.5,197.5 1469.5,199.0 1469.6,200.5 1469.7,202.0 1469.8,203.5 1470.0,205.0 1470.1,206.5 1470.2,208.0 1470.3,209.5 1470.4,211.0 1470.6,212.5 1470.7,214.0 1470.8,215.5 1471.0,217.0 1471.1,218.5 1471.2,220.0 1471.4,221.5 1471.5,223.1 1471.7,224.6 1471.9,226.1 1472.0,227.6 1472.2,229.1 1472.4,230.5 1472.5,232.0 1472.7,233.5 1472.9,235.0 1473.0,236.5 1473.2,238.0 1473.4,239.5 1473.6,241.0 1473.9,242.5 1474.1,244.0 1474.3,245.5 1474.6,247.0 1474.8,248.5 1475.1,250.0 1475.4,251.5 1475.7,252.9 1475.9,254.4 1476.2,255.9 1476.5,257.4 1476.9,258.9 1477.2,260.3 1477.5,261.8 1477.8,263.3 1478.1,264.7 1478.5,266.2 1478.9,267.7 1479.2,269.1 1479.7,270.6 1480.1,272.0 1480.5,273.5 1481.0,274.9 1481.4,276.4 1481.9,277.8 1482.4,279.2 1482.9,280.6 1483.4,282.1 1483.8,283.5 1484.3,285.0 1484.8,286.4 1485.3,287.9 1485.9,289.3 1486.4,290.7 1487.0,292.1 1487.6,293.5 1488.3,294.8 1489.0,296.0 1489.8,297.3 1490.8,298.4 1491.8,299.6 1492.8,300.7 1493.8,301.9 1494.7,303.1 1495.6,304.3 1496.4,305.6 1497.2,306.9 1498.0,308.1 1498.8,309.4 1499.6,310.7 1500.4,312.0 1501.3,313.2 1502.1,314.5 1502.9,315.8 1503.7,317.1 1504.5,318.4 1505.2,319.7 1505.8,321.1 1506.4,322.4 1507.0,323.8 1507.5,325.2 1508.1,326.6 1508.6,328.0 1509.2,329.4 1509.7,330.8 1510.2,332.3 1510.7,333.7 1511.2,335.2 1511.6,336.6 1512.0,338.1 1512.5,339.6 1512.9,341.1 1513.2,342.5 1513.6,344.0 1513.9,345.5 1514.2,347.0 1514.5,348.4 1514.7,349.9 1514.9,351.4 1515.1,352.9 1515.3,354.4 1515.5,355.8 1515.7,357.3 1515.8,358.8 1516.0,360.3 1516.1,361.8 1516.2,363.3 1516.4,364.8 1516.5,366.4 1516.6,367.9 1516.7,369.4 1516.8,370.9 1516.9,372.4 1517.1,373.9 1517.2,375.4 1517.3,376.9 1517.4,378.4 1517.5,379.9 1517.6,381.5 1517.8,383.0 1517.9,384.5 1518.0,386.0 1518.1,387.5 1518.2,389.0 1518.4,390.5 1518.5,392.0 1518.6,393.5 1518.7,395.0 1518.8,396.5 1519.0,398.0 1519.1,399.5 1519.2,401.0 1519.3,402.5 1519.4,404.0 1519.5,405.5 1519.7,407.0 1519.8,408.5 1519.9,410.0 1520.0,411.5 1520.1,413.0 1520.2,414.5 1520.3,416.1 1520.4,417.6 1520.5,419.1 1520.6,420.6 1520.8,422.1 1520.9,423.6 1521.0,425.1 1521.1,426.6 1521.2,428.1 1521.3,429.6 1521.4,431.1 1521.5,432.6 1521.6,434.1 1521.7,435.6 1521.7,437.1 1521.8,438.6 1521.9,440.1 1522.0,441.6 1522.1,443.1 1522.2,444.7 1522.3,446.2 1522.4,447.7 1522.4,449.2 1522.5,450.7 1522.6,452.2 1522.7,453.7 1522.8,455.2 1522.8,456.7 1522.9,458.2 1523.0,459.7 1523.1,461.2 1523.1,462.7 1523.2,464.2 1523.3,465.7 1523.4,467.3 1523.4,468.8 1523.5,470.3 1523.6,471.8 1523.7,473.3 1523.7,474.8 1523.8,476.3 1523.9,477.8 1523.9,479.3 1524.0,480.8 1524.1,482.3 1524.2,483.8 1524.2,485.3 1524.3,486.8 1524.4,488.4 1524.5,489.9 1524.5,491.4 1524.6,492.9 1524.7,494.4 1524.7,495.9 1524.8,497.4 1524.9,498.9 1525.0,500.4 1525.0,501.9 1525.1,503.4 1525.2,504.9 1525.2,506.4 1525.3,507.9 1525.4,509.5 1525.5,511.0 1525.6,512.5 1525.7,514.0 1525.7,515.5 1525.8,517.0 1525.9,518.5 1526.1,520.0 1526.2,521.5 1526.3,523.0 1526.4,521.5 1526.5,520.0 1526.7,518.5 1526.8,517.0 1526.9,515.5 1527.1,514.0 1527.2,512.4 1527.3,510.9 1527.4,509.4 1527.5,507.9 1527.6,506.4 1527.7,504.9 1527.7,503.4 1527.8,501.9 1527.8,500.4 1527.8,498.9 1527.8,497.4 1527.8,495.9 1527.8,494.3 1527.8,492.8 1527.9,491.3 1527.9,489.8 1527.9,488.3 1527.9,486.8 1527.9,485.3 1527.9,483.8 1527.9,482.3 1527.9,480.8 1527.9,479.2 1527.9,477.7 1527.9,476.2 1527.9,474.7 1527.9,473.2 1527.9,471.7 1527.9,470.2 1528.0,468.7 1528.0,467.2 1528.0,465.6 1528.0,464.1 1528.0,462.6 1528.0,461.1 1528.0,459.6 1528.0,458.1 1528.0,456.6 1528.0,455.1 1528.0,453.6 1528.0,452.0 1528.0,450.5 1528.0,449.0 1528.0,447.5 1528.0,446.0 1528.0,444.5 1528.0,443.0 1528.0,441.5 1528.0,440.0 1528.0,438.4 1528.0,436.9 1528.0,435.4 1528.0,433.9 1528.0,432.4 1528.0,430.9 1528.0,429.4 1528.0,427.9 1528.0,426.4 1528.0,424.8 1528.0,423.3 1528.0,421.8 1528.0,420.3 1528.1,418.8 1528.1,417.3 1528.1,415.8 1528.1,414.3 1528.1,412.7 1528.1,411.2 1528.1,409.7 1528.1,408.2 1528.1,406.7 1528.1,405.2 1528.1,403.7 1528.1,402.2 1528.1,400.7 1528.1,399.1 1528.1,397.6 1528.1,396.1 1528.1,394.6 1528.1,393.1 1528.1,391.6 1528.1,390.1 1528.1,388.6 1528.1,387.1 1528.1,385.5 1528.2,384.0 1528.2,382.5 1528.2,381.0 1528.2,379.5 1528.2,378.0 1528.2,376.5 1528.2,375.0 1528.2,373.5 1528.2,371.9 1528.2,370.4 1528.2,368.9 1528.2,367.4 1528.2,365.9 1528.2,364.4 1528.2,362.9 1528.2,361.4 1528.2,359.9 1528.2,358.3 1528.2,356.8 1528.2,355.3 1528.3,353.8 1528.3,352.3 1528.3,350.8 1528.3,349.3 1528.3,347.8 1528.3,346.3 1528.3,344.7 1528.3,343.2 1528.3,341.7 1528.3,340.2 1528.3,338.7 1528.3,337.2 1528.3,335.7 1528.3,334.2 1528.3,332.7 1528.3,331.1 1528.3,329.6 1528.3,328.1 1528.3,326.6 1528.3,325.1 1528.4,323.6 1528.4,322.1 1528.4,320.6 1528.4,319.1 1528.4,317.6 1528.4,316.0 1528.4,314.5 1528.4,313.0 1528.4,311.5 1528.4,310.0 1528.4,308.5 1528.4,307.0 1528.4,305.5 1528.4,304.0 1528.4,302.4 1528.4,300.9 1528.4,299.4 1528.5,297.9 1528.5,296.4 1528.5,294.9 1528.5,293.4 1528.5,291.9 1528.5,290.4 1528.5,288.8 1528.5,287.3 1528.5,285.8 1528.5,284.3 1528.5,282.8 1528.5,281.3 1528.5,279.8 1528.5,278.3 1528.6,276.8 1528.6,275.2 1528.6,273.7 1528.6,272.2 1528.6,270.7 1528.6,269.2 1528.6,267.7 1528.6,266.2 1528.6,264.7 1528.6,263.2 1528.6,261.6 1528.6,260.1 1528.6,258.6 1528.7,257.1 1528.7,255.6 1528.7,254.1 1528.7,252.6 1528.7,251.1 1528.7,249.6 1528.7,248.0 1528.7,246.5 1528.7,245.0 1528.7,243.5 1528.8,242.0 1528.8,240.5 1528.8,239.0 1528.8,237.5 1528.8,236.0 1528.8,234.4 1528.8,232.9 1528.8,231.4 1528.9,229.9 1528.9,228.4 1528.9,226.9 1528.9,225.4 1528.9,223.9 1528.9,222.4 1528.9,220.8 1529.0,219.3 1529.0,217.8 1529.0,216.3 1529.0,214.8 1529.0,213.3 1529.0,211.8 1529.0,210.3 1529.1,208.8 1529.1,207.2 1529.1,205.7 1529.1,204.2 1529.1,202.7 1529.2,201.2 1529.2,199.7 1529.2,198.2 1529.2,196.7 1529.2,195.2 1529.2,193.7 1529.3,192.1 1529.3,190.6 1529.3,189.1 1529.3,187.6 1529.3,186.1 1529.4,184.6 1529.4,183.1 1529.4,181.6 1529.4,180.1 1529.4,178.5 1529.5,177.0 1529.5,175.5 1529.5,174.0 1529.5,172.5 1529.5,171.0 1529.6,169.5 1529.6,168.0 1529.6,166.5 1529.6,164.9 1529.6,163.4 1529.7,161.9 1529.7,160.4 1529.7,158.9 1529.8,160.4 1529.8,161.9 1529.9,163.4 1530.0,164.9 1530.0,166.5 1530.1,168.0 1530.2,169.5 1530.3,171.0 1530.3,172.5 1530.4,174.0 1530.5,175.5 1530.6,177.0 1530.7,178.5 1530.8,180.0 1530.8,181.6 1530.9,183.1 1531.0,184.6 1531.1,186.1 1531.2,187.6 1531.3,189.1 1531.4,190.6 1531.5,192.1 1531.6,193.6 1531.6,195.1 1531.7,196.7 1531.8,198.2 1531.9,199.7 1532.0,201.2 1532.1,202.7 1532.2,204.2 1532.3,205.7 1532.4,207.2 1532.5,208.7 1532.6,210.2 1532.8,211.7 1532.9,213.2 1533.0,214.8 1533.1,216.3 1533.2,217.8 1533.3,219.3 1533.4,220.8 1533.5,222.3 1533.7,223.8 1533.8,225.3 1533.9,226.8 1534.0,228.3 1534.2,229.8 1534.3,231.3 1534.4,232.9 1534.5,234.4 1534.7,235.9 1534.8,237.4 1534.9,238.9 1535.1,240.4 1535.2,241.9 1535.3,243.4 1535.5,244.9 1535.6,246.4 1535.8,247.9 1535.9,249.4 1536.1,250.9 1536.2,252.4 1536.3,253.9 1536.5,255.4 1536.6,257.0 1536.8,258.5 1536.9,260.0 1537.1,261.5 1537.2,263.0 1537.4,264.5 1537.5,266.0 1537.7,267.5 1537.9,269.0 1538.0,270.5 1538.2,272.0 1538.4,273.5 1538.6,275.0 1538.9,276.5 1539.1,278.0 1539.3,279.5 1539.6,281.0 1539.9,282.4 1540.3,283.9 1540.7,285.3 1541.1,286.8 1541.5,288.2 1542.0,289.7 1542.5,291.1 1543.0,292.6 1543.5,294.0 1544.0,295.4 1544.5,296.9 1545.0,298.3 1545.5,299.7 1546.0,301.2 1546.6,302.6 1547.1,304.0 1547.7,305.4 1548.3,306.8 1548.9,308.2 1549.5,309.5 1550.2,310.9 1550.9,312.2 1551.6,313.6 1552.4,315.0 1553.2,316.3 1554.1,317.6 1555.0,318.8 1555.9,320.0 1556.9,320.9 1558.0,321.8 1559.3,322.6 1560.6,323.3 1562.1,323.9 1563.5,324.6 1564.9,325.2 1566.3,325.9 1567.7,326.5 1569.0,327.1 1570.4,327.7 1571.8,328.3 1573.2,328.9 1574.6,329.4 1576.0,330.0 1577.4,330.5 1578.9,331.1 1580.3,331.6 1581.7,332.1 1583.1,332.6 1584.5,333.1 1586.0,333.6 1587.4,334.1 1588.8,334.6 1590.3,335.1 1591.7,335.6 1593.2,336.0 1594.6,336.4 1596.0,336.9 1597.4,337.3 1598.9,337.8 1600.3,338.3 1601.8,338.8 1603.2,339.3 1604.6,339.8 1606.0,340.3 1607.5,340.8 1608.9,341.3 1610.3,341.8 1611.7,342.4 1613.1,342.9 1614.5,343.5 1615.9,344.0 1617.3,344.6 1618.7,345.2 1620.1,345.8 1621.5,346.4 1622.9,347.0 1624.2,347.7 1625.7,348.3 1627.1,349.0 1628.5,349.6 1629.9,350.3 1631.1,351.1 1632.2,352.0 1633.2,352.9 1634.2,354.1 1635.1,355.3 1635.9,356.6 1636.8,357.9 1637.5,359.3 1638.3,360.7 1639.0,362.0 1639.6,363.4 1640.3,364.7 1640.9,366.1 1641.5,367.5 1642.0,368.9 1642.6,370.3 1643.1,371.7 1643.6,373.2 1644.2,374.6 1644.6,376.0 1645.1,377.5 1645.6,378.9 1646.1,380.3 1646.6,381.8 1647.1,383.2 1647.6,384.7 1648.1,386.1 1648.5,387.6 1648.9,389.0 1649.2,390.5 1649.5,391.9 1649.8,393.4 1650.1,394.9 1650.3,396.4 1650.5,397.9 1650.7,399.4 1650.9,400.9 1651.1,402.4 1651.3,403.9 1651.5,405.4 1651.6,406.9 1651.8,408.4 1651.9,409.9 1652.1,411.4 1652.2,412.9 1652.4,414.4 1652.5,415.9 1652.7,417.5 1652.8,419.0 1652.9,420.5 1653.1,422.0 1653.2,423.5 1653.4,425.0 1653.5,426.5 1653.7,428.0 1653.8,429.5 1653.9,431.0 1654.1,432.5 1654.2,434.0 1654.4,435.5 1654.5,437.0 1654.6,438.5 1654.7,440.0 1654.9,441.6 1655.0,443.1 1655.1,444.6 1655.2,446.1 1655.4,447.6 1655.5,449.1 1655.6,450.6 1655.7,452.1 1655.8,453.6 1656.0,455.1 1656.1,456.6 1656.2,458.1 1656.3,459.7 1656.4,461.2 1656.5,462.7 1656.6,464.2 1656.7,465.7 1656.8,467.2 1656.9,468.7 1657.0,470.2 1657.1,471.7 1657.2,473.2 1657.3,474.7 1657.4,476.2 1657.5,477.8 1657.6,479.3 1657.7,480.8 1657.8,482.3 1657.9,483.8 1658.0,485.3 1658.1,486.8 1658.1,488.3 1658.2,489.8 1658.3,491.3 1658.4,492.9 1658.5,494.4 1658.6,495.9 1658.6,497.4 1658.7,498.9 1658.8,500.4 1658.9,501.9 1659.0,503.4 1659.0,504.9 1659.1,506.4 1659.2,508.0 1659.2,509.5 1659.3,511.0 1659.4,512.5 1659.5,514.0 1659.5,512.5 1659.5,511.0 1659.5,509.5 1659.5,508.0 1659.6,506.4 1659.6,504.9 1659.6,503.4 1659.6,501.9 1659.6,500.4 1659.7,498.9 1659.7,497.4 1659.7,495.9 1659.7,494.4 1659.7,492.8 1659.8,491.3 1659.8,489.8 1659.8,488.3 1659.8,486.8 1659.8,485.3 1659.8,483.8 1659.9,482.3 1659.9,480.8 1659.9,479.2 1659.9,477.7 1659.9,476.2 1660.0,474.7 1660.0,473.2 1660.0,471.7 1660.0,470.2 1660.0,468.7 1660.1,467.2 1660.1,465.7 1660.1,464.1 1660.1,462.6 1660.1,461.1 1660.1,459.6 1660.2,458.1 1660.2,456.6 1660.2,455.1 1660.2,453.6 1660.2,452.1 1660.2,450.5 1660.2,449.0 1660.3,447.5 1660.3,446.0 1660.3,444.5 1660.3,443.0 1660.3,441.5 1660.3,440.0 1660.3,438.5 1660.3,436.9 1660.4,435.4 1660.4,433.9 1660.4,432.4 1660.4,430.9 1660.4,429.4 1660.4,427.9 1660.4,426.4 1660.4,424.9 1660.4,423.3 1660.5,421.8 1660.5,420.3 1660.5,418.8 1660.5,417.3 1660.5,415.8 1660.5,414.3 1660.5,412.8 1660.5,411.3 1660.5,409.7 1660.5,408.2 1660.5,406.7 1660.6,405.2 1660.6,403.7 1660.6,402.2 1660.6,400.7 1660.6,399.2 1660.6,397.7 1660.6,396.1 1660.6,394.6 1660.6,393.1 1660.6,391.6 1660.6,390.1 1660.6,388.6 1660.6,387.1 1660.6,385.6 1660.7,384.1 1660.7,382.5 1660.7,381.0 1660.7,379.5 1660.7,378.0 1660.7,376.5 1660.7,375.0 1660.7,373.5 1660.7,372.0 1660.7,370.5 1660.7,368.9 1660.7,367.4 1660.7,365.9 1660.7,364.4 1660.7,362.9 1660.7,361.4 1660.8,359.9 1660.8,358.4 1660.8,356.9 1660.8,355.3 1660.8,353.8 1660.8,352.3 1660.8,350.8 1660.8,349.3 1660.8,347.8 1660.8,346.3 1660.8,344.8 1660.8,343.3 1660.8,341.8 1660.8,340.2 1660.8,338.7 1660.8,337.2 1660.8,335.7 1660.8,334.2 1660.9,332.7 1660.9,331.2 1660.9,329.7 1660.9,328.2 1660.9,326.6 1660.9,325.1 1660.9,323.6 1660.9,322.1 1660.9,320.6 1660.9,319.1 1660.9,317.6 1660.9,316.1 1660.9,314.6 1660.9,313.0 1660.9,311.5 1660.9,310.0 1660.9,308.5 1660.9,307.0 1660.9,305.5 1660.9,304.0 1661.0,302.5 1661.0,301.0 1661.0,299.4 1661.0,297.9 1661.0,296.4 1661.0,294.9 1661.0,293.4 1661.0,291.9 1661.0,290.4 1661.0,288.9 1661.0,287.4 1661.0,285.8 1661.0,284.3 1661.0,282.8 1661.0,281.3 1661.0,279.8 1661.0,278.3 1661.0,276.8 1661.0,275.3 1661.0,273.8 1661.1,272.2 1661.1,270.7 1661.1,269.2 1661.1,267.7 1661.1,266.2 1661.1,264.7 1661.1,263.2 1661.1,261.7 1661.1,260.2 1661.1,258.6 1661.1,257.1 1661.1,255.6 1661.1,254.1 1661.1,252.6 1661.1,251.1 1661.1,249.6 1661.1,248.1 1661.1,246.5 1661.1,245.0 1661.1,243.5 1661.1,242.0 1661.1,240.5 1661.1,239.0 1661.1,237.5 1661.1,236.0 1661.1,234.5 1661.1,232.9 1661.1,231.4 1661.1,229.9 1661.1,228.4 1661.1,226.9 1661.1,225.4 1661.2,223.9 1661.2,222.4 1661.2,220.9 1661.2,219.3 1661.2,217.8 1661.2,216.3 1661.2,214.8 1661.2,213.3 1661.2,211.8 1661.2,210.3 1661.2,208.8 1661.2,207.3 1661.2,205.7 1661.2,204.2 1661.2,202.7 1661.2,201.2 1661.2,199.7 1661.2,198.2 1661.2,196.7 1661.2,195.2 1661.2,193.7 1661.2,192.1 1661.2,190.6 1661.3,189.1 1661.3,187.6 1661.3,186.1 1661.3,184.6 1661.3,183.1 1661.3,181.6 1661.3,180.1 1661.3,178.6 1661.3,177.0 1661.3,175.5 1661.3,174.0 1661.4,172.5 1661.4,171.0 1661.4,169.5 1661.5,168.0 1661.6,166.5 1661.6,165.0 1661.7,163.5 1661.9,162.0 1662.0,160.5 1662.1,158.9 1662.2,157.4 1662.4,155.9 1662.5,154.4 1662.6,152.9 1662.7,151.4 1662.9,149.9 1663.0,151.4 1663.1,152.9 1663.2,154.4 1663.3,155.9 1663.4,157.4 1663.5,158.9 1663.6,160.4 1663.7,161.9 1663.8,163.4 1663.8,165.0 1663.9,166.5 1664.0,168.0 1664.1,169.5 1664.1,171.0 1664.2,172.5 1664.3,174.0 1664.3,175.5 1664.4,177.0 1664.5,178.5 1664.5,180.0 1664.6,181.5 1664.7,183.0 1664.8,184.5 1664.8,186.1 1664.9,187.6 1665.0,189.1 1665.1,190.6 1665.1,192.1 1665.2,193.6 1665.3,195.1 1665.3,196.6 1665.4,198.1 1665.5,199.6 1665.6,201.1 1665.6,202.6 1665.7,204.1 1665.8,205.6 1665.9,207.2 1665.9,208.7 1666.0,210.2 1666.1,211.7 1666.2,213.2 1666.2,214.7 1666.3,216.2 1666.4,217.7 1666.5,219.2 1666.5,220.7 1666.6,222.2 1666.7,223.7 1666.8,225.2 1666.9,226.7 1667.0,228.2 1667.0,229.8 1667.1,231.3 1667.2,232.8 1667.3,234.3 1667.4,235.8 1667.5,237.3 1667.6,238.8 1667.7,240.3 1667.8,241.8 1667.9,243.3 1668.0,244.8 1668.1,246.3 1668.2,247.8 1668.3,249.3 1668.4,250.8 1668.5,252.3 1668.6,253.8 1668.7,255.3 1668.8,256.8 1668.9,258.4 1669.0,259.9 1669.2,261.4 1669.3,262.9 1669.4,264.4 1669.5,265.9 1669.6,267.4 1669.7,268.9 1669.8,270.4 1670.0,271.9 1670.1,273.4 1670.2,274.9 1670.3,276.4 1670.4,277.9 1670.6,279.4 1670.7,280.9 1670.8,282.4 1670.9,283.9 1671.0,285.4 1671.2,286.9 1671.3,288.4 1671.4,289.9 1671.5,291.4 1671.6,293.0 1671.8,294.5 1671.9,296.0 1672.0,297.5 1672.1,299.0 1672.2,300.5 1672.3,302.0 1672.4,303.5 1672.5,305.0 1672.7,306.5 1672.8,308.1 1672.9,309.6 1673.0,311.1 1673.2,312.6 1673.3,314.1 1673.5,315.6 1673.7,317.1 1673.8,318.5 1674.0,320.0 1674.2,321.5 1674.4,323.0 1674.7,324.5 1674.9,325.9 1675.2,327.4 1675.6,328.9 1675.9,330.4 1676.3,331.8 1676.7,333.3 1677.1,334.8 1677.5,336.3 1678.0,337.7 1678.5,339.2 1679.0,340.6 1679.5,342.1 1680.0,343.5 1680.5,344.9 1681.1,346.3 1681.6,347.7 1682.2,349.1 1682.7,350.5 1683.3,351.8 1683.9,353.2 1684.6,354.5 1685.4,355.8 1686.2,357.1 1687.0,358.4 1687.9,359.7 1688.7,360.9 1689.5,362.2 1690.3,363.5 1691.1,364.8 1691.9,366.0 1692.7,367.3 1693.6,368.6 1694.4,369.8 1695.4,371.0 1696.4,372.2 1697.4,373.3 1698.4,374.5 1699.3,375.6 1700.2,376.9 1700.9,378.1 1701.5,379.4 1702.2,380.8 1702.7,382.2 1703.3,383.6 1703.8,385.0 1704.3,386.5 1704.8,387.9 1705.3,389.4 1705.8,390.8 1706.3,392.3 1706.7,393.7 1707.2,395.1 1707.7,396.5 1708.2,398.0 1708.6,399.4 1709.1,400.9 1709.5,402.3 1709.9,403.8 1710.3,405.2 1710.7,406.7 1711.0,408.2 1711.3,409.6 1711.7,411.1 1712.0,412.6 1712.3,414.0 1712.6,415.5 1712.9,417.0 1713.2,418.5 1713.5,420.0 1713.8,421.4 1714.0,422.9 1714.3,424.4 1714.6,425.9 1714.8,427.4 1715.1,428.9 1715.3,430.4 1715.5,431.9 1715.7,433.4 1715.9,434.9 1716.1,436.4 1716.3,437.9 1716.5,439.4 1716.6,440.9 1716.8,442.4 1717.0,443.8 1717.1,445.3 1717.3,446.8 1717.4,448.3 1717.6,449.8 1717.8,451.4 1717.9,452.9 1718.1,454.4 1718.2,455.9 1718.3,457.4 1718.5,458.9 1718.6,460.4 1718.7,461.9 1718.9,463.4 1719.0,464.9 1719.1,466.4 1719.2,467.9 1719.3,469.4 1719.4,470.9 1719.5,472.4 1719.6,473.9 1719.7,475.4 1719.8,476.9 1719.9,478.5 1719.9,480.0 1720.0,481.5 1720.1,483.0 1720.1,484.5 1720.2,486.0 1720.2,487.5 1720.3,489.0 1720.4,490.5 1720.4,492.0 1720.5,493.5 1720.5,495.0 1720.6,496.5 1720.7,498.0 1720.7,499.5 1720.8,501.0 1720.8,502.6 1720.9,504.1 1720.9,505.6 1721.0,507.1 1721.0,508.6 1721.1,510.1 1721.1,511.6 1721.2,513.1 1721.2,514.6 1721.3,516.1 1721.3,517.6 1721.3,519.1 1721.4,520.7 1721.4,522.2 1721.4,523.7 1721.5,525.2 1721.5,526.7 1721.5,528.2 1721.5,529.7 1721.6,531.2 1721.6,532.7 1721.6,534.2 1721.6,535.7 1721.6,537.3 1721.6,538.8 1721.6,540.3 1721.6,541.8 1721.7,543.3 1721.7,541.8 1721.8,540.3 1721.9,538.8 1721.9,537.3 1722.0,535.8 1722.1,534.3 1722.1,532.8 1722.2,531.2 1722.2,529.7 1722.3,528.2 1722.4,526.7 1722.4,525.2 1722.5,523.7 1722.6,522.2 1722.6,520.7 1722.7,519.2 1722.7,517.7 1722.8,516.2 1722.8,514.7 1722.9,513.2 1722.9,511.7 1723.0,510.2 1723.0,508.6 1723.1,507.1 1723.1,505.6 1723.1,504.1 1723.2,502.6 1723.2,501.1 1723.2,499.6 1723.2,498.1 1723.3,496.6 1723.3,495.1 1723.3,493.6 1723.4,492.1 1723.4,490.6 1723.4,489.0 1723.5,487.5 1723.5,486.0 1723.5,484.5 1723.5,483.0 1723.6,481.5 1723.6,480.0 1723.6,478.5 1723.6,477.0 1723.7,475.5 1723.7,474.0 1723.7,472.5 1723.7,471.0 1723.8,469.5 1723.8,467.9 1723.8,466.4 1723.8,464.9 1723.8,463.4 1723.9,461.9 1723.9,460.4 1723.9,458.9 1723.9,457.4 1723.9,455.9 1724.0,454.4 1724.0,452.9 1724.0,451.4 1724.0,449.8 1724.0,448.3 1724.0,446.8 1724.1,445.3 1724.1,443.8 1724.1,442.3 1724.1,440.8 1724.1,439.3 1724.1,437.8 1724.1,436.3 1724.2,434.8 1724.2,433.3 1724.2,431.8 1724.2,430.2 1724.2,428.7 1724.2,427.2 1724.2,425.7 1724.2,424.2 1724.3,422.7 1724.3,421.2 1724.3,419.7 1724.3,418.2 1724.3,416.7 1724.3,415.2 1724.3,413.7 1724.3,412.2 1724.3,410.6 1724.3,409.1 1724.3,407.6 1724.3,406.1 1724.4,404.6 1724.4,403.1 1724.4,401.6 1724.4,400.1 1724.4,398.6 1724.4,397.1 1724.4,395.6 1724.4,394.1 1724.4,392.6 1724.4,391.0 1724.4,389.5 1724.4,388.0 1724.4,386.5 1724.4,385.0 1724.4,383.5 1724.5,382.0 1724.5,380.5 1724.5,379.0 1724.5,377.5 1724.5,376.0 1724.5,374.5 1724.5,372.9 1724.5,371.4 1724.5,369.9 1724.5,368.4 1724.5,366.9 1724.5,365.4 1724.5,363.9 1724.5,362.4 1724.5,360.9 1724.5,359.4 1724.5,357.9 1724.5,356.4 1724.6,354.9 1724.6,353.3 1724.6,351.8 1724.6,350.3 1724.6,348.8 1724.6,347.3 1724.6,345.8 1724.6,344.3 1724.6,342.8 1724.6,341.3 1724.6,339.8 1724.6,338.3 1724.6,336.8 1724.6,335.3 1724.6,333.7 1724.6,332.2 1724.6,330.7 1724.6,329.2 1724.6,327.7 1724.6,326.2 1724.6,324.7 1724.6,323.2 1724.7,321.7 1724.7,320.2 1724.7,318.7 1724.7,317.2 1724.7,315.6 1724.7,314.1 1724.7,312.6 1724.7,311.1 1724.7,309.6 1724.7,308.1 1724.7,306.6 1724.7,305.1 1724.7,303.6 1724.7,302.1 1724.7,300.6 1724.7,299.1 1724.7,297.6 1724.7,296.0 1724.7,294.5 1724.7,293.0 1724.7,291.5 1724.7,290.0 1724.7,288.5 1724.7,287.0 1724.7,285.5 1724.7,284.0 1724.7,282.5 1724.7,281.0 1724.7,279.4 1724.7,277.9 1724.7,276.4 1724.7,274.9 1724.7,273.4 1724.7,271.9 1724.7,270.4 1724.7,268.9 1724.7,267.4 1724.8,265.9 1724.8,264.4 1724.8,262.9 1724.8,261.3 1724.8,259.8 1724.8,258.3 1724.8,256.8 1724.8,255.3 1724.8,253.8 1724.8,252.3 1724.8,250.8 1724.8,249.3 1724.8,247.8 1724.8,246.3 1724.8,244.8 1724.8,243.2 1724.8,241.7 1724.8,240.2 1724.8,238.7 1724.8,237.2 1724.8,235.7 1724.8,234.2 1724.8,232.7 1724.8,231.2 1724.8,229.7 1724.8,228.2 1724.8,226.7 1724.8,225.2 1724.8,223.7 1724.9,222.1 1724.9,220.6 1724.9,219.1 1724.9,217.6 1724.9,216.1 1724.9,214.6 1724.9,213.1 1724.9,211.6 1724.9,210.1 1724.9,208.6 1724.9,207.1 1724.9,205.6 1724.9,204.1 1725.0,202.6 1725.0,201.1 1725.0,199.6 1725.1,198.0 1725.2,196.5 1725.3,195.0 1725.4,193.5 1725.5,192.0 1725.6,190.5 1725.7,189.0 1725.9,187.5 1726.0,186.0 1726.2,184.5 1726.3,183.0 1726.4,181.5 1726.6,180.0 1726.6,181.5 1726.6,183.0 1726.7,184.6 1726.7,186.1 1726.8,187.6 1726.8,189.1 1726.9,190.6 1727.0,192.2 1727.0,193.7 1727.1,195.2 1727.1,196.7 1727.2,198.2 1727.3,199.8 1727.3,201.3 1727.4,202.8 1727.4,204.3 1727.5,205.8 1727.6,207.4 1727.6,208.9 1727.7,210.4 1727.8,211.9 1727.9,213.4 1727.9,215.0 1728.0,216.5 1728.1,218.0 1728.1,219.5 1728.2,221.0 1728.3,222.6 1728.4,224.1 1728.4,225.6 1728.5,227.1 1728.6,228.6 1728.7,230.1 1728.8,231.7 1728.8,233.2 1728.9,234.7 1729.0,236.2 1729.1,237.7 1729.2,239.3 1729.3,240.8 1729.4,242.3 1729.5,243.8 1729.7,245.3 1729.8,246.8 1729.9,248.4 1730.0,249.9 1730.1,251.4 1730.2,252.9 1730.3,254.4 1730.5,255.9 1730.6,257.5 1730.7,259.0 1730.8,260.5 1730.9,262.0 1730.9,263.5 1731.0,265.1 1731.1,266.6 1731.2,268.1 1731.2,269.6 1731.3,271.1 1731.3,272.6 1731.4,274.2 1731.4,275.7 1731.4,277.2 1731.5,278.7 1731.5,280.3 1731.5,281.8 1731.5,283.3 1731.5,284.8 1731.6,286.3 1731.6,287.9 1731.7,289.4 1731.7,290.9 1731.9,292.4 1732.0,293.9 1732.2,295.4 1732.4,296.9 1732.6,298.4 1732.8,300.0 1733.0,301.5 1733.1,303.0 1733.3,304.5 1733.4,306.0 1733.6,307.5 1733.8,309.0 1733.9,310.6 1734.1,312.1 1734.2,313.6 1734.4,315.1 1734.5,316.6 1734.6,318.1 1734.7,319.6 1734.8,321.2 1734.8,322.7 1734.9,324.2 1734.9,325.7 1734.9,327.2 1735.0,328.8 1735.0,330.3 1735.0,331.8 1735.1,333.3 1735.1,334.8 1735.1,336.4 1735.2,337.9 1735.2,339.4 1735.3,340.9 1735.4,342.4 1735.5,344.0 1735.6,345.5 1735.7,347.0 1735.9,348.5 1736.0,350.0 1736.1,351.5 1736.2,353.1 1736.4,354.6 1736.5,356.1 1736.6,357.6 1736.8,359.1 1736.9,360.6 1737.1,362.1 1737.2,363.7 1737.3,365.2 1737.5,366.7 1737.7,368.2 1737.9,366.7 1738.0,365.1 1738.2,363.6 1738.4,362.0 1738.6,360.5 1738.8,358.9 1739.0,357.4 1739.1,355.8 1739.3,354.3 1739.5,352.7 1739.6,351.1 1739.8,349.6 1739.9,348.0 1740.0,346.5 1740.2,344.9 1740.3,343.4 1740.4,341.8 1740.6,340.3 1740.7,338.7 1740.8,337.2 1740.9,335.6 1741.0,334.0 1741.1,332.5 1741.2,330.9 1741.3,329.4 1741.4,327.8 1741.5,326.3 1741.6,324.7 1741.6,326.2 1741.6,327.7 1741.6,329.2 1741.7,330.8 1741.7,332.3 1741.7,333.8 1741.8,335.3 1741.8,336.8 1741.8,338.3 1741.9,339.8 1741.9,341.4 1741.9,342.9 1742.0,344.4 1742.0,345.9 1742.1,347.4 1742.1,348.9 1742.1,350.5 1742.2,352.0 1742.2,353.5 1742.2,355.0 1742.3,356.5 1742.3,358.0 1742.4,359.5 1742.4,361.1 1742.5,362.6 1742.5,364.1 1742.6,365.6 1742.6,367.1 1742.7,368.6 1742.7,370.1 1742.8,371.7 1742.9,373.2 1742.9,374.7 1743.0,376.2 1743.2,377.7 1743.3,379.2 1743.4,380.7 1743.6,382.2 1743.7,383.7 1743.8,385.3 1744.0,386.8 1744.1,388.3 1744.2,389.8 1744.3,391.3 1744.4,392.8 1744.4,394.3 1744.5,395.8 1744.6,397.3 1744.6,398.9 1744.7,400.4 1744.8,401.9 1744.8,403.4 1744.9,404.9 1745.0,406.4 1745.0,407.9 1745.1,409.5 1745.2,411.0 1745.2,412.5 1745.3,414.0 1745.4,415.5 1745.5,417.0 1745.6,418.5 1745.7,420.1 1745.8,421.6 1745.9,423.1 1745.9,424.6 1746.0,426.1 1746.1,427.6 1746.2,429.1 1746.3,430.6 1746.4,432.1 1746.5,433.7 1746.6,435.2 1746.7,436.7 1746.8,438.2 1746.9,439.7 1746.9,441.2 1747.0,442.7 1747.1,444.3 1747.2,445.8 1747.3,447.3 1747.3,448.8 1747.4,450.3 1747.5,451.8 1747.6,453.3 1747.7,454.8 1747.7,456.4 1747.8,457.9 1747.9,459.4 1748.0,460.9 1748.0,462.4 1748.1,463.9 1748.2,465.4 1748.3,467.0 1748.3,468.5 1748.4,470.0 1748.5,471.5 1748.5,473.0 1748.6,474.5 1748.7,476.0 1748.8,477.5 1748.8,479.1 1748.9,480.6 1749.0,482.1 1749.0,483.6 1749.1,485.1 1749.1,486.6 1749.2,488.1 1749.3,489.7 1749.3,491.2 1749.4,492.7 1749.5,494.2 1749.5,492.7 1749.5,491.2 1749.5,489.7 1749.6,488.2 1749.6,486.7 1749.6,485.2 1749.7,483.7 1749.7,482.2 1749.7,480.6 1749.8,479.1 1749.8,477.6 1749.8,476.1 1749.8,474.6 1749.9,473.1 1749.9,471.6 1749.9,470.1 1750.0,468.6 1750.0,467.1 1750.0,465.6 1750.0,464.1 1750.1,462.6 1750.1,461.1 1750.1,459.6 1750.2,458.1 1750.2,456.5 1750.2,455.0 1750.2,453.5 1750.3,452.0 1750.3,450.5 1750.3,449.0 1750.3,447.5 1750.4,446.0 1750.4,444.5 1750.4,443.0 1750.4,441.5 1750.4,440.0 1750.5,438.5 1750.5,437.0 1750.5,435.5 1750.5,434.0 1750.5,432.4 1750.6,430.9 1750.6,429.4 1750.6,427.9 1750.6,426.4 1750.6,424.9 1750.6,423.4 1750.7,421.9 1750.7,420.4 1750.7,418.9 1750.7,417.4 1750.7,415.9 1750.7,414.4 1750.7,412.9 1750.8,411.4 1750.8,409.9 1750.8,408.3 1750.8,406.8 1750.8,405.3 1750.8,403.8 1750.8,402.3 1750.8,400.8 1750.9,399.3 1750.9,397.8 1750.9,396.3 1750.9,394.8 1750.9,393.3 1750.9,391.8 1750.9,390.3 1750.9,388.8 1750.9,387.3 1751.0,385.8 1751.0,384.2 1751.0,382.7 1751.0,381.2 1751.0,379.7 1751.0,378.2 1751.0,376.7 1751.0,375.2 1751.0,373.7 1751.0,372.2 1751.1,370.7 1751.1,369.2 1751.1,367.7 1751.1,366.2 1751.1,364.7 1751.1,363.2 1751.1,361.7 1751.1,360.1 1751.1,358.6 1751.1,357.1 1751.1,355.6 1751.2,354.1 1751.2,352.6 1751.2,351.1 1751.2,349.6 1751.2,348.1 1751.2,346.6 1751.2,345.1 1751.2,343.6 1751.2,342.1 1751.2,340.6 1751.2,339.1 1751.2,337.5 1751.2,336.0 1751.3,334.5 1751.3,333.0 1751.3,331.5 1751.3,330.0 1751.3,328.5 1751.3,327.0 1751.3,325.5 1751.3,324.0 1751.3,322.5 1751.3,321.0 1751.3,319.5 1751.3,318.0 1751.3,316.5 1751.4,315.0 1751.4,313.4 1751.4,311.9 1751.4,310.4 1751.4,308.9 1751.4,307.4 1751.4,305.9 1751.4,304.4 1751.4,302.9 1751.4,301.4 1751.4,299.9 1751.4,298.4 1751.4,296.9 1751.4,295.4 1751.5,293.9 1751.5,292.4 1751.5,290.9 1751.5,289.3 1751.5,287.8 1751.5,286.3 1751.5,284.8 1751.5,283.3 1751.5,281.8 1751.5,280.3 1751.5,278.8 1751.5,277.3 1751.5,275.8 1751.5,274.3 1751.6,272.8 1751.6,271.3 1751.6,269.8 1751.6,268.3 1751.6,266.7 1751.6,265.2 1751.6,263.7 1751.6,262.2 1751.6,260.7 1751.6,259.2 1751.6,257.7 1751.6,256.2 1751.6,254.7 1751.6,253.2 1751.6,251.7 1751.6,250.2 1751.6,248.7 1751.6,247.2 1751.6,245.7 1751.7,244.2 1751.7,242.6 1751.7,241.1 1751.7,239.6 1751.7,238.1 1751.7,236.6 1751.7,235.1 1751.7,233.6 1751.7,232.1 1751.7,230.6 1751.7,229.1 1751.7,227.6 1751.7,226.1 1751.7,224.6 1751.7,223.1 1751.7,221.6 1751.7,220.0 1751.7,218.5 1751.7,217.0 1751.7,215.5 1751.7,214.0 1751.7,212.5 1751.7,211.0 1751.7,209.5 1751.8,208.0 1751.8,206.5 1751.8,205.0 1751.8,203.5 1751.8,202.0 1751.8,200.5 1751.8,199.0 1751.8,197.5 1751.8,195.9 1751.8,194.4 1751.8,192.9 1751.8,191.4 1751.8,189.9 1751.8,188.4 1751.9,186.9 1751.9,185.4 1751.9,183.9 1751.9,182.4 1751.9,180.9 1751.9,179.4 1751.9,177.9 1751.9,176.4 1751.9,174.9 1751.9,173.4 1752.0,171.8 1752.0,170.3 1752.0,168.8 1752.0,167.3 1752.1,165.8 1752.1,164.3 1752.1,162.8 1752.2,161.3 1752.2,159.8 1752.3,158.3 1752.3,156.8 1752.4,155.3 1752.4,153.8 1752.5,152.3 1752.6,150.8 1752.6,149.3 1752.7,147.8 1752.8,146.3 1752.8,144.8 1752.9,143.2 1753.0,141.7 1753.0,140.2 1753.1,138.7 1753.2,137.2 1753.3,135.7 1753.3,134.2 1753.4,132.7 1753.5,131.2 1753.6,129.7 1753.6,131.2 1753.7,132.7 1753.8,134.2 1753.9,135.7 1754.0,137.2 1754.1,138.7 1754.2,140.3 1754.3,141.8 1754.3,143.3 1754.4,144.8 1754.5,146.3 1754.5,147.8 1754.6,149.3 1754.6,150.8 1754.7,152.3 1754.7,153.8 1754.8,155.4 1754.8,156.9 1754.8,158.4 1754.9,159.9 1754.9,161.4 1755.0,162.9 1755.0,164.4 1755.0,165.9 1755.1,167.4 1755.1,168.9 1755.2,170.5 1755.2,172.0 1755.3,173.5 1755.3,175.0 1755.4,176.5 1755.4,178.0 1755.5,179.5 1755.5,181.0 1755.6,182.5 1755.6,184.0 1755.7,185.6 1755.8,187.1 1755.9,188.6 1755.9,190.1 1756.0,191.6 1756.1,193.1 1756.2,194.6 1756.3,196.1 1756.4,197.6 1756.5,199.1 1756.6,200.6 1756.7,202.1 1756.9,203.6 1757.0,205.2 1757.1,206.7 1757.2,208.2 1757.3,209.7 1757.5,211.2 1757.6,212.7 1757.8,214.2 1757.9,215.7 1758.0,217.2 1758.2,218.7 1758.3,220.2 1758.5,221.7 1758.6,223.2 1758.8,224.7 1758.9,226.2 1759.1,227.7 1759.2,229.2 1759.4,230.7 1759.5,232.2 1759.7,233.7 1759.8,235.2 1760.0,236.7 1760.2,238.2 1760.3,239.7 1760.5,241.2 1760.7,242.7 1760.8,244.2 1761.0,245.7 1761.2,247.2 1761.4,248.7 1761.6,250.2 1761.8,251.7 1762.0,253.2 1762.1,254.7 1762.3,256.2 1762.5,257.7 1762.7,259.2 1763.0,260.7 1763.2,262.2 1763.4,263.7 1763.6,265.2 1763.8,266.7 1764.0,268.2 1764.2,269.7 1764.4,271.2 1764.7,272.7 1764.9,274.2 1765.1,275.7 1765.3,277.2 1765.6,278.7 1765.8,280.2 1766.0,281.7 1766.3,283.2 1766.5,284.7 1766.7,286.1 1767.0,287.6 1767.2,289.1 1767.5,290.6 1767.7,292.1 1767.9,293.6 1768.2,295.1 1768.5,296.6 1768.7,298.1 1769.0,299.5 1769.3,301.0 1769.5,302.5 1769.8,304.0 1770.1,305.5 1770.4,307.0 1770.7,308.4 1771.0,309.9 1771.3,311.4 1771.6,312.9 1771.9,314.4 1772.2,315.8 1772.5,317.3 1772.8,318.8 1773.1,320.3 1773.4,321.8 1773.7,323.2 1774.0,324.7 1774.4,326.2 1774.7,327.7 1775.0,329.1 1775.3,330.6 1775.6,332.1 1776.0,333.6 1776.3,335.1 1776.6,336.5 1776.9,338.0 1777.2,339.5 1777.6,341.0 1777.9,342.4 1778.2,343.9 1778.5,345.4 1778.8,346.9 1779.1,348.4 1779.4,349.8 1779.7,351.3 1780.0,352.8 1780.3,354.3 1780.7,355.8 1781.0,357.2 1781.3,358.7 1781.6,360.2 1781.9,361.7 1782.3,363.1 1782.6,364.6 1782.9,366.1 1783.3,367.6 1783.6,369.1 1783.9,370.5 1784.2,372.0 1784.6,373.5 1784.9,375.0 1785.2,376.4 1785.5,377.9 1785.8,379.4 1786.1,380.9 1786.4,382.4 1786.7,383.8 1787.0,385.3 1787.3,386.8 1787.5,388.3 1787.8,389.8 1788.1,391.3 1788.3,392.7 1788.5,394.2 1788.8,395.7 1789.0,397.2 1789.2,398.7 1789.4,400.2 1789.7,401.7 1789.9,403.2 1790.1,404.7 1790.3,406.2 1790.5,407.7 1790.7,409.2 1790.9,410.7 1791.1,412.2 1791.3,413.7 1791.5,415.2 1791.7,416.7 1791.9,418.2 1792.1,419.7 1792.3,421.2 1792.4,422.7 1792.6,424.2 1792.8,425.7 1792.9,427.2 1793.1,428.7 1793.2,430.2 1793.4,431.7 1793.5,433.2 1793.7,434.7 1793.8,436.2 1794.0,437.7 1794.1,439.2 1794.2,440.7 1794.3,442.2 1794.5,443.7 1794.6,445.2 1794.7,446.7 1794.8,448.2 1794.9,449.8 1795.0,451.3 1795.1,452.8 1795.2,454.3 1795.3,455.8 1795.4,457.3 1795.5,458.8 1795.6,460.3 1795.7,461.8 1795.8,463.3 1795.9,464.8 1796.0,466.3 1796.1,467.9 1796.2,469.4 1796.3,470.9 1796.4,472.4 1796.5,473.9 1796.5,475.4 1796.6,476.9 1796.7,478.4 1796.8,479.9 1796.9,481.4 1797.0,482.9 1797.0,484.4 1797.1,486.0 1797.2,487.5 1797.3,489.0 1797.4,490.5 1797.5,492.0 1797.5,493.5 1797.6,495.0 1797.7,496.5 1797.8,498.0 1797.9,499.5 1797.9,501.0 1798.0,502.5 1798.1,504.1 1798.2,505.6 1798.3,507.1 1798.3,508.6 1798.4,510.1 1798.5,511.6 1798.5,513.1 1798.6,514.6 1798.7,516.1 1798.8,517.6 1798.8,519.1 1798.9,520.7 1799.0,522.2 1799.0,523.7 1799.1,525.2 1799.2,526.7 1799.2,528.2 1799.3,529.7 1799.4,531.2 1799.4,532.7 1799.5,534.2 1799.6,535.8 1799.6,537.3 1799.7,538.8 1799.7,540.3 1799.8,541.8 1799.9,543.3 1799.9,541.8 1800.0,540.3 1800.0,538.8 1800.1,537.3 1800.1,535.8 1800.2,534.2 1800.3,532.7 1800.3,531.2 1800.4,529.7 1800.4,528.2 1800.5,526.7 1800.5,525.2 1800.6,523.7 1800.7,522.2 1800.7,520.7 1800.7,519.1 1800.8,517.6 1800.8,516.1 1800.9,514.6 1800.9,513.1 1801.0,511.6 1801.0,510.1 1801.0,508.6 1801.1,507.1 1801.1,505.6 1801.1,504.0 1801.2,502.5 1801.2,501.0 1801.2,499.5 1801.2,498.0 1801.2,496.5 1801.3,495.0 1801.3,493.5 1801.3,492.0 1801.3,490.4 1801.4,488.9 1801.4,487.4 1801.4,485.9 1801.4,484.4 1801.4,482.9 1801.5,481.4 1801.5,479.9 1801.5,478.4 1801.5,476.9 1801.5,475.3 1801.5,473.8 1801.6,472.3 1801.6,470.8 1801.6,469.3 1801.6,467.8 1801.6,466.3 1801.6,464.8 1801.6,463.3 1801.7,461.7 1801.7,460.2 1801.7,458.7 1801.7,457.2 1801.7,455.7 1801.7,454.2 1801.7,452.7 1801.7,451.2 1801.8,449.7 1801.8,448.2 1801.8,446.6 1801.8,445.1 1801.8,443.6 1801.8,442.1 1801.8,440.6 1801.8,439.1 1801.9,437.6 1801.9,436.1 1801.9,434.6 1801.9,433.0 1801.9,431.5 1801.9,430.0 1801.9,428.5 1801.9,427.0 1801.9,425.5 1801.9,424.0 1802.0,422.5 1802.0,421.0 1802.0,419.4 1802.0,417.9 1802.0,416.4 1802.0,414.9 1802.0,413.4 1802.0,411.9 1802.0,410.4 1802.0,408.9 1802.0,407.4 1802.1,405.9 1802.1,404.3 1802.1,402.8 1802.1,401.3 1802.1,399.8 1802.1,398.3 1802.1,396.8 1802.1,395.3 1802.1,393.8 1802.1,392.3 1802.1,390.7 1802.1,389.2 1802.1,387.7 1802.2,386.2 1802.2,384.7 1802.2,383.2 1802.2,381.7 1802.2,380.2 1802.2,378.7 1802.2,377.1 1802.2,375.6 1802.2,374.1 1802.2,372.6 1802.2,371.1 1802.2,369.6 1802.2,368.1 1802.2,366.6 1802.2,365.1 1802.3,363.6 1802.3,362.0 1802.3,360.5 1802.3,359.0 1802.3,357.5 1802.3,356.0 1802.3,354.5 1802.3,353.0 1802.3,351.5 1802.3,350.0 1802.3,348.4 1802.3,346.9 1802.3,345.4 1802.3,343.9 1802.3,342.4 1802.3,340.9 1802.3,339.4 1802.4,337.9 1802.4,336.4 1802.4,334.8 1802.4,333.3 1802.4,331.8 1802.4,330.3 1802.4,328.8 1802.4,327.3 1802.4,325.8 1802.4,324.3 1802.4,322.8 1802.4,321.3 1802.4,319.7 1802.4,318.2 1802.4,316.7 1802.4,315.2 1802.5,313.7 1802.5,312.2 1802.5,310.7 1802.5,309.2 1802.5,307.7 1802.5,306.1 1802.5,304.6 1802.5,303.1 1802.5,301.6 1802.5,300.1 1802.5,298.6 1802.5,297.1 1802.5,295.6 1802.5,294.1 1802.5,292.5 1802.6,291.0 1802.6,289.5 1802.6,288.0 1802.6,286.5 1802.6,285.0 1802.6,283.5 1802.6,282.0 1802.6,280.5 1802.6,279.0 1802.6,277.4 1802.6,275.9 1802.6,274.4 1802.6,272.9 1802.7,271.4 1802.7,269.9 1802.7,268.4 1802.7,266.9 1802.7,265.4 1802.7,263.8 1802.7,262.3 1802.7,260.8 1802.7,259.3 1802.7,257.8 1802.7,256.3 1802.7,254.8 1802.7,253.3 1802.8,251.8 1802.8,250.2 1802.8,248.7 1802.8,247.2 1802.8,245.7 1802.8,244.2 1802.8,242.7 1802.8,241.2 1802.8,239.7 1802.8,238.2 1802.8,236.6 1802.8,235.1 1802.8,233.6 1802.9,232.1 1802.9,230.6 1802.9,229.1 1802.9,227.6 1802.9,226.1 1802.9,224.6 1802.9,223.0 1802.9,221.5 1802.9,220.0 1803.0,218.5 1803.0,217.0 1803.0,215.5 1803.0,214.0 1803.0,212.5 1803.0,211.0 1803.1,209.5 1803.1,207.9 1803.1,206.4 1803.1,204.9 1803.1,203.4 1803.2,201.9 1803.2,200.4 1803.3,198.9 1803.3,197.4 1803.4,195.9 1803.5,194.4 1803.6,192.9 1803.7,191.4 1803.8,189.8 1804.0,188.3 1804.1,186.8 1804.2,185.3 1804.4,183.8 1804.5,182.3 1804.6,180.8 1804.8,179.3 1804.8,180.8 1804.8,182.3 1804.8,183.8 1804.8,185.3 1804.8,186.9 1804.8,188.4 1804.8,189.9 1804.8,191.4 1804.8,192.9 1804.8,194.4 1804.8,195.9 1804.9,197.4 1804.9,198.9 1804.9,200.5 1805.0,202.0 1805.0,203.5 1805.1,205.0 1805.1,206.5 1805.2,208.0 1805.2,209.5 1805.3,211.0 1805.3,212.5 1805.4,214.0 1805.4,215.6 1805.5,217.1 1805.6,218.6 1805.6,220.1 1805.7,221.6 1805.8,223.1 1805.8,224.6 1805.9,226.1 1806.0,227.6 1806.0,229.1 1806.1,230.7 1806.2,232.2 1806.2,233.7 1806.3,235.2 1806.4,236.7 1806.5,238.2 1806.5,239.7 1806.6,241.2 1806.7,242.7 1806.8,244.2 1806.9,245.7 1807.0,247.2 1807.1,248.8 1807.2,250.3 1807.3,251.8 1807.4,253.3 1807.5,254.8 1807.6,256.3 1807.7,257.8 1807.8,259.3 1808.0,260.8 1808.1,262.3 1808.2,263.8 1808.3,265.3 1808.4,266.8 1808.6,268.3 1808.7,269.9 1808.8,271.4 1808.9,272.9 1809.1,274.4 1809.2,275.9 1809.3,277.4 1809.5,278.9 1809.6,280.4 1809.7,281.9 1809.9,283.4 1810.0,284.9 1810.2,286.4 1810.3,287.9 1810.4,289.4 1810.6,290.9 1810.7,292.4 1810.8,293.9 1811.0,295.4 1811.1,296.9 1811.3,298.4 1811.4,299.9 1811.6,301.4 1811.8,302.9 1811.9,304.4 1812.1,306.0 1812.2,307.5 1812.4,309.0 1812.6,310.5 1812.8,312.0 1812.9,313.5 1813.1,315.0 1813.3,316.5 1813.5,318.0 1813.6,319.5 1813.8,321.0 1814.0,322.5 1814.2,324.0 1814.4,325.5 1814.5,327.0 1814.7,328.5 1814.9,330.0 1815.1,331.5 1815.3,333.0 1815.4,334.5 1815.6,336.0 1815.8,337.5 1816.0,339.0 1816.1,340.5 1816.3,342.0 1816.5,343.5 1816.7,345.0 1816.8,346.5 1817.0,348.0 1817.2,349.5 1817.4,351.0 1817.5,352.5 1817.7,354.0 1817.8,355.5 1818.0,357.0 1818.1,358.5 1818.2,360.0 1818.4,361.5 1818.5,363.0 1818.6,364.5 1818.8,366.0 1818.9,367.5 1819.0,369.0 1819.1,370.5 1819.3,372.0 1819.4,373.5 1819.5,375.1 1819.6,376.6 1819.8,378.1 1819.9,379.6 1820.0,381.1 1820.1,382.6 1820.2,384.1 1820.4,385.6 1820.5,387.1 1820.6,388.6 1820.7,390.1 1820.8,391.6 1820.9,393.1 1821.0,394.6 1821.2,396.1 1821.3,397.7 1821.4,399.2 1821.5,400.7 1821.6,402.2 1821.7,403.7 1821.8,405.2 1821.9,406.7 1822.0,408.2 1822.1,409.7 1822.2,411.2 1822.3,412.7 1822.4,414.2 1822.5,415.7 1822.6,417.2 1822.7,418.8 1822.8,420.3 1822.9,421.8 1823.0,423.3 1823.1,424.8 1823.2,426.3 1823.3,427.8 1823.4,429.3 1823.4,430.8 1823.5,432.3 1823.6,433.8 1823.7,435.3 1823.8,436.9 1823.9,438.4 1824.0,439.9 1824.1,441.4 1824.2,442.9 1824.2,444.4 1824.3,445.9 1824.4,447.4 1824.5,448.9 1824.6,450.4 1824.7,451.9 1824.7,453.4 1824.8,455.0 1824.9,456.5 1825.0,458.0 1825.1,459.5 1825.1,461.0 1825.2,462.5 1825.3,464.0 1825.4,465.5 1825.4,467.0 1825.5,468.5 1825.6,470.0 1825.7,471.6 1825.7,473.1 1825.8,474.6 1825.9,476.1 1825.9,477.6 1826.0,479.1 1826.1,480.6 1826.1,482.1 1826.2,483.6 1826.3,485.1 1826.3,486.7 1826.4,488.2 1826.5,489.7 1826.5,491.2 1826.6,492.7 1826.7,494.2 1826.7,492.7 1826.7,491.2 1826.7,489.7 1826.7,488.2 1826.7,486.6 1826.8,485.1 1826.8,483.6 1826.8,482.1 1826.8,480.6 1826.8,479.1 1826.9,477.6 1826.9,476.1 1826.9,474.5 1826.9,473.0 1826.9,471.5 1826.9,470.0 1827.0,468.5 1827.0,467.0 1827.0,465.5 1827.0,464.0 1827.0,462.4 1827.1,460.9 1827.1,459.4 1827.1,457.9 1827.1,456.4 1827.1,454.9 1827.2,453.4 1827.2,451.9 1827.2,450.3 1827.2,448.8 1827.2,447.3 1827.3,445.8 1827.3,444.3 1827.3,442.8 1827.3,441.3 1827.3,439.8 1827.3,438.3 1827.4,436.7 1827.4,435.2 1827.4,433.7 1827.4,432.2 1827.4,430.7 1827.5,429.2 1827.5,427.7 1827.5,426.2 1827.5,424.6 1827.5,423.1 1827.6,421.6 1827.6,420.1 1827.6,418.6 1827.6,417.1 1827.7,415.6 1827.7,414.1 1827.7,412.5 1827.7,411.0 1827.7,409.5 1827.8,408.0 1827.8,406.5 1827.8,405.0 1827.8,403.5 1827.9,402.0 1827.9,400.5 1827.9,398.9 1827.9,397.4 1828.0,395.9 1828.0,394.4 1828.0,392.9 1828.1,391.4 1828.1,389.9 1828.1,388.4 1828.1,386.8 1828.2,385.3 1828.2,383.8 1828.2,382.3 1828.2,380.8 1828.3,379.3 1828.3,377.8 1828.3,376.3 1828.3,374.7 1828.3,373.2 1828.4,371.7 1828.4,370.2 1828.4,368.7 1828.4,367.2 1828.5,365.7 1828.5,364.2 1828.5,362.6 1828.5,361.1 1828.5,359.6 1828.5,358.1 1828.6,356.6 1828.6,355.1 1828.6,353.6 1828.6,352.1 1828.6,350.6 1828.6,349.0 1828.6,347.5 1828.6,346.0 1828.6,344.5 1828.6,343.0 1828.7,341.5 1828.7,340.0 1828.7,338.5 1828.7,336.9 1828.7,335.4 1828.7,333.9 1828.7,332.4 1828.7,330.9 1828.7,329.4 1828.7,327.9 1828.7,326.4 1828.7,324.8 1828.7,323.3 1828.7,321.8 1828.7,320.3 1828.7,318.8 1828.7,317.3 1828.7,315.8 1828.7,314.3 1828.7,312.7 1828.7,311.2 1828.7,309.7 1828.7,308.2 1828.7,306.7 1828.7,305.2 1828.7,303.7 1828.8,302.2 1828.8,300.6 1828.8,299.1 1828.8,297.6 1828.8,296.1 1828.8,294.6 1828.8,293.1 1828.8,291.6 1828.8,290.1 1828.8,288.5 1828.8,287.0 1828.8,285.5 1828.8,284.0 1828.8,282.5 1828.8,281.0 1828.8,279.5 1828.8,278.0 1828.8,276.4 1828.8,274.9 1828.8,273.4 1828.8,271.9 1828.8,270.4 1828.8,268.9 1828.8,267.4 1828.8,265.9 1828.8,264.4 1828.8,262.8 1828.8,261.3 1828.8,259.8 1828.8,258.3 1828.8,256.8 1828.8,255.3 1828.8,253.8 1828.8,252.3 1828.8,250.7 1828.8,249.2 1828.8,247.7 1828.8,246.2 1828.8,244.7 1828.8,243.2 1828.8,241.7 1828.8,240.2 1828.8,238.6 1828.8,237.1 1828.8,235.6 1828.8,234.1 1828.8,232.6 1828.8,231.1 1828.8,229.6 1828.8,228.1 1828.8,226.5 1828.9,225.0 1828.9,223.5 1828.9,222.0 1828.9,220.5 1828.9,219.0 1828.9,217.5 1828.9,216.0 1828.9,214.4 1828.9,212.9 1828.9,211.4 1828.9,209.9 1828.9,208.4 1828.9,206.9 1828.9,205.4 1828.9,203.9 1828.9,202.4 1828.9,200.8 1828.9,199.3 1828.9,197.8 1828.9,196.3 1828.9,194.8 1828.9,193.3 1829.0,191.8 1829.0,190.3 1829.0,188.7 1829.0,187.2 1829.0,185.7 1829.0,184.2 1829.1,182.7 1829.1,181.2 1829.1,179.7 1829.2,178.2 1829.2,176.7 1829.2,175.1 1829.3,173.6 1829.3,172.1 1829.4,170.6 1829.4,169.1 1829.4,167.6 1829.5,166.1 1829.6,164.6 1829.6,163.0 1829.7,161.5 1829.7,160.0 1829.8,158.5 1829.8,157.0 1829.9,155.5 1829.9,154.0 1830.0,152.5 1830.1,151.0 1830.1,149.4 1830.2,147.9 1830.3,146.4 1830.3,144.9 1830.4,143.4 1830.4,141.9 1830.5,140.4 1830.6,138.9 1830.6,137.4 1830.7,135.8 1830.8,134.3 1830.8,132.8 1830.9,131.3 1831.0,129.8 1831.1,131.3 1831.2,132.8 1831.3,134.3 1831.5,135.8 1831.6,137.3 1831.7,138.9 1831.9,140.4 1832.0,141.9 1832.1,143.4 1832.2,144.9 1832.4,146.4 1832.5,147.9 1832.6,149.4 1832.7,150.9 1832.8,152.4 1832.9,153.9 1833.0,155.5 1833.2,157.0 1833.3,158.5 1833.4,160.0 1833.5,161.5 1833.6,163.0 1833.7,164.5 1833.8,166.0 1833.9,167.5 1834.0,169.0 1834.0,170.6 1834.1,172.1 1834.2,173.6 1834.3,175.1 1834.4,176.6 1834.5,178.1 1834.6,179.6 1834.7,181.1 1834.8,182.6 1834.9,184.2 1835.0,185.7 1835.1,187.2 1835.2,188.7 1835.3,190.2 1835.4,191.7 1835.5,193.2 1835.6,194.7 1835.7,196.2 1835.8,197.7 1835.9,199.3 1836.0,200.8 1836.2,202.3 1836.3,203.8 1836.4,205.3 1836.5,206.8 1836.6,208.3 1836.7,209.8 1836.8,211.3 1837.0,212.8 1837.1,214.4 1837.2,215.9 1837.3,217.4 1837.5,218.9 1837.6,220.4 1837.7,221.9 1837.8,223.4 1838.0,224.9 1838.1,226.4 1838.2,227.9 1838.4,229.4 1838.5,231.0 1838.6,232.5 1838.7,234.0 1838.9,235.5 1839.0,237.0 1839.1,238.5 1839.3,240.0 1839.4,241.5 1839.6,243.0 1839.7,244.5 1839.9,246.0 1840.1,247.5 1840.2,249.1 1840.4,250.6 1840.6,252.1 1840.8,253.5 1841.0,255.0 1841.2,256.5 1841.4,258.0 1841.6,259.6 1841.8,261.1 1842.1,262.6 1842.3,264.1 1842.6,265.6 1842.9,267.1 1843.2,268.6 1843.5,270.1 1843.8,271.6 1844.2,273.0 1844.5,274.5 1844.9,276.0 1845.3,277.4 1845.7,278.8 1846.1,280.2 1846.6,281.6 1847.2,283.1 1847.7,284.5 1848.4,285.9 1849.1,287.2 1849.8,288.6 1850.6,290.0 1851.3,291.3 1852.1,292.6 1853.0,293.8 1853.8,295.1 1854.7,296.3 1855.6,297.4 1856.6,298.6 1857.7,299.7 1858.7,300.8 1859.9,301.9 1861.0,302.9 1862.2,303.8 1863.3,304.7 1864.5,305.6 1865.8,306.5 1867.0,307.4 1868.3,308.2 1869.6,309.0 1871.0,309.8 1872.3,310.5 1873.7,311.2 1875.0,311.9 1876.4,312.5 1877.8,313.1 1879.2,313.6 1880.6,314.1 1882.0,314.6 1883.5,315.0 1884.9,315.5 1886.4,315.9 1887.9,316.2 1889.4,316.6 1890.8,316.9 1892.3,317.3 1893.8,317.6 1895.3,317.9 1896.8,318.2 1898.3,318.5 1899.7,318.8 1901.2,319.0 1902.7,319.3 1904.2,319.5 1905.7,319.8 1907.2,320.0 1908.7,320.3 1910.2,320.5 1911.7,320.7 1913.2,321.0 1914.7,321.2 1916.2,321.4 1917.7,321.6 1919.2,321.8 1920.7,322.0 1922.2,322.2 1923.7,322.4 1925.2,322.6 1926.7,322.8 1928.2,323.0 1929.7,323.2 1931.2,323.4 1932.7,323.5 1934.2,323.7 1935.7,323.9 1937.2,324.1 1938.7,324.2 1940.2,324.4 1941.7,324.6 1943.3,324.8 1944.8,324.9 1946.3,325.1 1947.8,325.2 1949.3,325.4 1950.8,325.5 1952.3,325.7 1953.8,325.8 1955.3,325.9 1956.8,326.0 1958.3,326.2 1959.8,326.3 1961.3,326.4 1962.9,326.5 1964.4,326.6 1965.9,326.7 1967.4,326.8 1968.9,326.9 1970.4,327.0 1971.9,327.1 1973.4,327.2 1974.9,327.3 1976.4,327.4 1978.0,327.5 1979.5,327.6 1981.0,327.7 1982.5,327.7 1984.0,327.8 1985.5,327.9 1987.0,328.0 1988.5,328.1 1990.1,328.1 1991.6,328.2 1993.1,328.2 1994.6,328.3 1996.1,328.4 1997.6,328.4 1999.1,328.5 2000.7,328.5" fill="none" stroke="#f00" stroke-width="9.2" stroke-linejoin="round" stroke-linecap="butt" clip-path="url(#clipc)"/>
<rect x="1188.5" y="47.4" width="740.0" height="578.1" fill="none" stroke="#000" stroke-width="3.1"/>
<path d="M1188.50,625.50 L1188.50,637.00 M1373.50,625.50 L1373.50,637.00 M1558.50,625.50 L1558.50,637.00 M1743.50,625.50 L1743.50,637.00 M1928.50,625.50 L1928.50,637.00 M1281.00,625.50 L1281.00,631.80 M1466.00,625.50 L1466.00,631.80 M1651.00,625.50 L1651.00,631.80 M1836.00,625.50 L1836.00,631.80 M1188.50,509.88 L1177.80,509.88 M1188.50,336.45 L1177.80,336.45 M1188.50,163.02 L1177.80,163.02 M1188.50,596.60 L1182.80,596.60 M1188.50,423.16 L1182.80,423.16 M1188.50,249.73 L1182.80,249.73 M1188.50,76.30 L1182.80,76.30" stroke="#000" stroke-width="3.1" fill="none"/>
<text transform="translate(1091.20,521.98) scale(1.0,1.035)" font-family='"Liberation Sans", Arial, sans-serif' font-weight="bold" font-size="48" fill="#000">-0.3</text>
<text transform="translate(1107.40,348.55) scale(1.0,1.035)" font-family='"Liberation Sans", Arial, sans-serif' font-weight="bold" font-size="48" fill="#000">0.0</text>
<text transform="translate(1107.16,175.12) scale(1.0,1.035)" font-family='"Liberation Sans", Arial, sans-serif' font-weight="bold" font-size="48" fill="#000">0.3</text>
<text transform="translate(1141.46,678.50) scale(1.0,1.035)" font-family='"Liberation Sans", Arial, sans-serif' font-weight="bold" font-size="48" fill="#000">-100</text>
<text transform="translate(1360.15,678.50) scale(1.0,1.035)" font-family='"Liberation Sans", Arial, sans-serif' font-weight="bold" font-size="48" fill="#000">0</text>
<text transform="translate(1518.46,678.50) scale(1.0,1.035)" font-family='"Liberation Sans", Arial, sans-serif' font-weight="bold" font-size="48" fill="#000">100</text>
<text transform="translate(1703.46,678.50) scale(1.0,1.035)" font-family='"Liberation Sans", Arial, sans-serif' font-weight="bold" font-size="48" fill="#000">200</text>
<text transform="translate(1888.46,678.50) scale(1.0,1.035)" font-family='"Liberation Sans", Arial, sans-serif' font-weight="bold" font-size="48" fill="#000">300</text>
<text transform="translate(1199.89,112.20) scale(1.045,1.035)" font-family='"Liberation Sans", Arial, sans-serif' font-weight="bold" font-size="48" fill="#000">(c)</text>
<text transform="translate(1596.50,115.40) scale(1.0,1.035)" font-family='"Liberation Sans", Arial, sans-serif' font-weight="bold" font-size="50" fill="#000">S</text>
<text transform="translate(1628.32,145.00) scale(1.0,1.035)" font-family='"Liberation Sans", Arial, sans-serif' font-weight="bold" font-size="48" fill="#000">2(5)</text>
<text transform="translate(1477.50,553.40) scale(1.0,1.035)" font-family='"Liberation Sans", Arial, sans-serif' font-weight="bold" font-size="50" fill="#000">S</text>
<text transform="translate(1510.28,583.00) scale(1.0,1.035)" font-family='"Liberation Sans", Arial, sans-serif' font-weight="bold" font-size="48" fill="#000">4(7)</text>
<text transform="translate(1068.30,482.62) rotate(-90) scale(1.0,1.035)" font-family='"Liberation Sans", Arial, sans-serif' font-weight="bold" font-size="74" fill="#000">S</text>
<text transform="translate(1068.30,429.68) rotate(-90) scale(0.86,1.0)" font-family='"Liberation Sans", Arial, sans-serif' font-weight="bold" font-size="74" fill="#000">(</text>
<text transform="translate(1068.30,405.98) rotate(-90) scale(1.0,1.035)" font-family='"Liberation Sans", Arial, sans-serif' font-weight="bold" font-size="74" fill="#000">k</text>
<text transform="translate(1097.70,363.97) rotate(-90) scale(1.0,1.035)" font-family='"Liberation Sans", Arial, sans-serif' font-weight="bold" font-size="44" fill="#000">B</text>
<text transform="translate(1068.30,331.64) rotate(-90) scale(1.0,1.035)" font-family='"Liberation Sans", Arial, sans-serif' font-weight="bold" font-size="74" fill="#000">/</text>
<text transform="translate(1068.30,310.86) rotate(-90) scale(1.0,1.035)" font-family='"Liberation Sans", Arial, sans-serif' font-weight="bold" font-size="74" fill="#000">e</text>
<text transform="translate(1068.30,264.66) rotate(-90) scale(0.86,1.0)" font-family='"Liberation Sans", Arial, sans-serif' font-weight="bold" font-size="74" fill="#000">)</text>
<path d="M1188.5,1286.5 1192.2,1286.5 1195.9,1286.5 1199.6,1286.5 1203.3,1286.5 1207.0,1286.5 1210.7,1286.5 1214.4,1286.5 1218.1,1286.5 1221.8,1286.5 1225.5,1286.5 1229.2,1286.5 1232.9,1286.5 1236.6,1286.5 1240.3,1286.5 1244.0,1286.5 1247.7,1286.5 1251.4,1286.5 1255.1,1286.5 1258.8,1286.5 1262.5,1286.5 1266.2,1286.5 1269.9,1286.5 1273.6,1286.5 1277.3,1286.5 1281.0,1286.5 1284.7,1286.5 1288.4,1286.5 1292.1,1286.5 1295.8,1286.5 1299.5,1286.5 1303.2,1286.5 1306.9,1286.5 1310.6,1286.5 1314.3,1286.5 1318.0,1286.5 1321.7,1286.5 1325.4,1286.5 1329.1,1286.5 1332.8,1286.5 1334.7,1286.5 1335.6,1286.5 1336.5,1286.5 1337.4,1286.5 1338.3,1286.5 1339.3,1286.4 1340.2,1286.4 1341.1,1286.3 1342.0,1286.0 1343.0,1285.7 1343.9,1285.2 1344.8,1284.5 1345.8,1283.5 1346.7,1282.3 1347.6,1280.7 1348.5,1278.7 1349.5,1276.2 1350.4,1273.1 1351.3,1269.2 1352.2,1264.2 1353.2,1257.6 1353.3,1256.0 1353.5,1254.3 1353.7,1252.5 1353.9,1250.5 1354.1,1248.4 1354.3,1246.2 1354.4,1243.8 1354.6,1241.1 1354.8,1238.3 1355.0,1235.2 1355.2,1231.9 1355.4,1228.2 1355.6,1224.2 1355.7,1219.8 1355.9,1215.0 1356.1,1209.7 1356.3,1203.9 1356.5,1197.4 1356.7,1190.3 1356.8,1182.3 1357.0,1173.4 1357.2,1163.4 1357.4,1152.3 1357.6,1139.8 1357.8,1125.7 1358.0,1109.9 1358.1,1092.2 1358.3,1072.2 1358.5,1049.9 1358.7,1025.0 1358.9,997.5 1359.1,967.5 1359.3,935.4 1359.4,901.8 1359.5,891.6 1359.6,881.5 1359.6,871.3 1359.6,868.0 1359.7,861.3 1359.7,851.4 1359.8,841.8 1359.8,835.5 1359.8,832.4 1359.9,823.4 1359.9,814.7 1360.0,806.5 1360.1,798.9 1360.1,791.8 1360.2,785.4 1360.2,783.4 1360.2,779.7 1360.3,774.8 1360.3,770.7 1360.4,768.5 1360.4,767.5 1360.4,765.2 1360.5,763.8 1360.5,763.3 1360.6,763.6 1360.7,764.5 1360.7,766.0 1360.7,766.6 1360.8,768.1 1360.8,770.7 1360.9,773.9 1360.9,776.3 1360.9,777.6 1361.0,781.9 1361.0,786.6 1361.1,791.8 1361.2,797.3 1361.2,803.3 1361.3,809.7 1361.3,811.8 1361.3,816.3 1361.4,823.3 1361.4,830.5 1361.5,835.4 1361.5,837.9 1361.5,845.5 1361.6,853.3 1361.7,861.2 1361.8,888.1 1362.0,915.2 1362.2,941.8 1362.4,967.3 1362.6,991.4 1362.8,1014.0 1363.0,1034.9 1363.1,1054.2 1363.3,1071.8 1363.5,1087.9 1363.7,1102.6 1363.9,1115.9 1364.1,1128.1 1364.2,1139.1 1364.4,1149.2 1364.6,1158.3 1364.8,1166.6 1365.0,1174.2 1365.2,1181.1 1365.4,1187.5 1365.5,1193.2 1365.7,1198.5 1365.9,1203.4 1366.1,1207.8 1366.3,1211.9 1366.5,1215.6 1366.7,1219.1 1366.8,1222.2 1367.0,1225.1 1367.2,1227.8 1367.4,1230.2 1367.6,1232.5 1367.8,1234.6 1368.0,1236.5 1368.9,1243.9 1369.8,1248.6 1370.7,1251.7 1371.7,1253.6 1372.6,1255.0 1373.5,1256.2 1374.4,1257.4 1375.3,1258.3 1376.3,1259.0 1377.2,1258.9 1378.1,1257.6 1379.0,1254.5 1379.2,1253.6 1379.4,1252.6 1379.6,1251.5 1379.8,1250.2 1380.0,1248.8 1380.2,1247.3 1380.3,1245.6 1380.5,1243.8 1380.7,1241.7 1380.9,1239.5 1381.1,1237.0 1381.3,1234.3 1381.5,1231.3 1381.6,1228.1 1381.8,1224.5 1382.0,1220.5 1382.2,1216.2 1382.4,1211.4 1382.6,1206.2 1382.8,1200.4 1382.9,1194.0 1383.1,1187.0 1383.3,1179.3 1383.5,1170.8 1383.7,1161.4 1383.9,1151.2 1384.0,1140.1 1384.2,1127.9 1384.4,1114.8 1384.6,1100.8 1384.8,1086.0 1385.0,1070.5 1385.2,1054.8 1385.3,1039.2 1385.4,1034.6 1385.5,1030.1 1385.5,1025.6 1385.5,1024.2 1385.6,1021.3 1385.6,1017.1 1385.7,1013.1 1385.7,1010.5 1385.7,1009.2 1385.8,1005.5 1385.8,1002.1 1385.9,998.8 1386.0,995.8 1386.0,993.1 1386.1,990.6 1386.1,989.9 1386.1,988.5 1386.2,986.6 1386.2,985.1 1386.3,984.2 1386.3,983.9 1386.3,983.0 1386.4,982.5 1386.5,982.3 1386.5,982.6 1386.6,983.4 1386.6,984.8 1386.6,985.3 1386.7,986.6 1386.7,989.0 1386.8,991.9 1386.8,994.0 1386.8,995.2 1386.9,998.9 1386.9,1003.0 1387.0,1007.4 1387.1,1012.2 1387.1,1017.2 1387.2,1022.5 1387.2,1024.3 1387.2,1027.9 1387.3,1033.6 1387.3,1039.3 1387.4,1043.2 1387.4,1045.1 1387.4,1051.0 1387.5,1056.9 1387.6,1062.9 1387.7,1082.4 1387.9,1101.1 1388.1,1118.5 1388.3,1134.5 1388.5,1148.9 1388.7,1161.9 1388.9,1173.5 1389.0,1183.8 1389.2,1193.0 1389.4,1201.2 1389.6,1208.5 1389.8,1215.0 1390.0,1220.7 1390.2,1225.9 1390.3,1230.5 1390.5,1234.7 1390.7,1238.5 1390.9,1241.9 1391.1,1244.9 1391.3,1247.7 1391.4,1250.3 1391.6,1252.6 1391.8,1254.7 1392.0,1256.7 1392.2,1258.5 1392.4,1260.1 1392.6,1261.7 1392.7,1263.1 1392.9,1264.4 1393.1,1265.6 1393.3,1266.7 1393.5,1267.8 1393.7,1268.8 1393.8,1269.7 1394.8,1273.6 1395.7,1276.5 1396.6,1278.7 1397.5,1280.5 1398.5,1282.0 1399.4,1283.1 1400.3,1284.0 1401.2,1284.8 1402.2,1285.3 1403.1,1285.8 1404.0,1286.0 1405.0,1286.2 1405.9,1286.4 1406.8,1286.4 1407.7,1286.5 1408.7,1286.5 1409.6,1286.5 1410.5,1286.5 1411.4,1286.5 1412.3,1286.5 1412.5,1286.5 1413.5,1286.5 1414.2,1286.5 1414.4,1286.5 1415.3,1286.5 1416.2,1286.5 1417.2,1286.5 1417.9,1286.4 1418.1,1286.4 1419.0,1286.4 1419.9,1286.3 1420.9,1286.1 1421.6,1285.9 1421.8,1285.8 1422.7,1285.5 1423.6,1284.9 1424.6,1284.3 1425.3,1283.6 1425.5,1283.4 1426.2,1282.6 1426.4,1282.4 1427.2,1281.4 1427.3,1281.1 1428.1,1279.8 1428.3,1279.5 1429.0,1277.9 1429.2,1277.4 1429.9,1275.4 1430.1,1274.8 1430.8,1272.0 1431.0,1271.2 1431.2,1270.4 1431.4,1269.5 1431.6,1268.5 1431.8,1267.5 1432.0,1266.4 1432.1,1265.2 1432.3,1263.9 1432.5,1262.5 1432.7,1260.9 1432.9,1259.3 1433.1,1257.5 1433.3,1255.5 1433.4,1253.4 1433.6,1251.1 1433.8,1248.5 1434.0,1245.7 1434.2,1242.6 1434.4,1239.1 1434.5,1235.3 1434.7,1231.0 1434.9,1226.3 1435.1,1221.0 1435.3,1215.1 1435.5,1208.4 1435.7,1201.0 1435.8,1192.6 1436.0,1183.1 1436.2,1172.6 1436.4,1160.7 1436.6,1147.6 1436.8,1133.0 1437.0,1117.2 1437.1,1100.2 1437.3,1082.4 1437.4,1077.0 1437.4,1071.6 1437.5,1066.3 1437.5,1064.5 1437.5,1061.0 1437.6,1055.7 1437.7,1050.6 1437.7,1047.3 1437.7,1045.7 1437.8,1040.9 1437.8,1036.3 1437.9,1032.0 1437.9,1027.9 1438.0,1024.1 1438.0,1020.7 1438.1,1019.7 1438.1,1017.7 1438.2,1015.1 1438.2,1012.9 1438.2,1011.7 1438.3,1011.2 1438.3,1009.9 1438.4,1009.1 1438.4,1008.8 1438.5,1008.9 1438.5,1009.4 1438.6,1010.2 1438.6,1010.6 1438.7,1011.4 1438.7,1012.8 1438.8,1014.6 1438.8,1015.9 1438.8,1016.6 1438.9,1019.0 1438.9,1021.6 1439.0,1024.5 1439.0,1027.6 1439.1,1030.9 1439.2,1034.4 1439.2,1035.6 1439.2,1038.1 1439.3,1042.0 1439.3,1045.9 1439.4,1048.6 1439.4,1050.0 1439.4,1054.2 1439.5,1058.4 1439.5,1062.8 1439.7,1077.4 1439.9,1092.0 1440.1,1106.2 1440.3,1119.7 1440.5,1132.3 1440.7,1144.1 1440.8,1154.9 1441.0,1164.7 1441.2,1173.6 1441.4,1181.7 1441.6,1189.1 1441.8,1195.7 1442.0,1201.7 1442.1,1207.1 1442.3,1212.0 1442.5,1216.4 1442.7,1220.4 1442.9,1224.0 1443.1,1227.3 1443.2,1230.2 1443.4,1232.9 1443.6,1235.4 1443.8,1237.6 1444.0,1239.6 1444.2,1241.5 1444.4,1243.2 1444.5,1244.7 1444.7,1246.1 1444.9,1247.4 1445.1,1248.5 1445.3,1249.6 1445.5,1250.6 1445.7,1251.5 1445.8,1252.3 1446.0,1253.0 1446.2,1253.7 1446.4,1254.3 1446.6,1254.8 1446.8,1255.3 1446.9,1255.8 1447.1,1256.2 1447.3,1256.6 1447.5,1257.0 1447.7,1257.3 1447.9,1257.6 1448.1,1257.8 1448.2,1258.1 1448.4,1258.3 1448.6,1258.5 1448.8,1258.7 1449.0,1258.9 1449.2,1259.1 1449.3,1259.3 1449.5,1259.5 1449.7,1259.7 1449.9,1259.8 1450.1,1260.0 1450.1,1260.1 1450.2,1260.1 1450.3,1260.2 1450.3,1260.2 1450.3,1260.3 1450.4,1260.3 1450.4,1260.4 1450.5,1260.4 1450.5,1260.4 1450.5,1260.5 1450.6,1260.6 1450.6,1260.6 1450.7,1260.7 1450.8,1260.7 1450.8,1260.8 1450.8,1260.8 1450.9,1260.9 1450.9,1260.9 1451.0,1261.0 1451.0,1261.0 1451.0,1261.1 1451.1,1261.1 1451.1,1261.2 1451.2,1261.3 1451.3,1261.4 1451.3,1261.4 1451.4,1261.5 1451.4,1261.6 1451.4,1261.6 1451.5,1261.8 1451.5,1261.9 1451.6,1262.0 1451.6,1262.0 1451.6,1262.2 1451.7,1262.3 1451.8,1262.5 1451.8,1262.6 1451.9,1262.8 1451.9,1263.0 1451.9,1263.1 1452.0,1263.2 1452.0,1263.4 1452.1,1263.6 1452.1,1263.7 1452.1,1263.8 1452.2,1264.0 1452.3,1264.2 1452.3,1264.5 1452.5,1265.3 1452.7,1266.1 1452.9,1266.9 1453.0,1267.7 1453.2,1268.6 1453.4,1269.4 1453.6,1270.2 1453.8,1270.9 1454.0,1271.6 1454.2,1272.3 1454.3,1273.0 1454.5,1273.6 1454.7,1274.1 1454.9,1274.6 1455.1,1275.1 1455.3,1275.5 1455.5,1275.9 1455.6,1276.3 1455.8,1276.6 1456.0,1276.9 1456.2,1277.2 1456.4,1277.4 1456.6,1277.6 1456.8,1277.8 1456.9,1277.9 1457.1,1278.0 1457.3,1278.1 1457.5,1278.2 1457.7,1278.2 1457.9,1278.2 1458.0,1278.2 1458.2,1278.1 1458.4,1278.0 1458.6,1277.9 1458.8,1277.8 1459.0,1277.6 1459.2,1277.4 1459.3,1277.1 1459.5,1276.9 1459.7,1276.6 1459.9,1276.2 1460.1,1275.8 1460.3,1275.3 1460.5,1274.8 1460.6,1274.2 1460.8,1273.6 1461.0,1272.9 1461.2,1272.1 1461.4,1271.1 1461.6,1270.1 1461.7,1269.0 1461.9,1267.7 1462.1,1266.3 1462.3,1264.7 1462.5,1262.9 1462.7,1260.8 1462.9,1258.6 1463.0,1256.0 1463.2,1253.2 1463.4,1250.0 1463.6,1246.5 1463.8,1242.6 1464.0,1238.5 1464.2,1234.0 1464.3,1229.5 1464.4,1228.1 1464.4,1226.7 1464.5,1225.4 1464.5,1224.9 1464.6,1224.0 1464.6,1222.7 1464.7,1221.4 1464.7,1220.6 1464.7,1220.2 1464.8,1219.0 1464.8,1217.9 1464.9,1216.8 1464.9,1215.8 1465.0,1214.9 1465.1,1214.1 1465.1,1213.8 1465.1,1213.3 1465.2,1212.7 1465.2,1212.2 1465.3,1211.9 1465.3,1211.8 1465.3,1211.5 1465.4,1211.3 1465.4,1211.3 1465.5,1211.3 1465.6,1211.6 1465.6,1211.9 1465.6,1212.0 1465.7,1212.4 1465.7,1213.0 1465.8,1213.7 1465.8,1214.2 1465.8,1214.5 1465.9,1215.4 1465.9,1216.4 1466.0,1217.5 1466.1,1218.7 1466.1,1220.0 1466.2,1221.3 1466.2,1221.7 1466.2,1222.6 1466.3,1224.0 1466.3,1225.4 1466.4,1226.4 1466.4,1226.8 1466.4,1228.3 1466.5,1229.8 1466.6,1231.2 1466.7,1236.0 1466.9,1240.7 1467.1,1245.0 1467.3,1248.9 1467.5,1252.5 1467.7,1255.7 1467.8,1258.6 1468.0,1261.1 1468.2,1263.4 1468.4,1265.4 1468.6,1267.2 1468.8,1268.8 1469.0,1270.2 1469.1,1271.5 1469.3,1272.7 1469.5,1273.7 1469.7,1274.6 1469.9,1275.5 1470.1,1276.2 1470.3,1276.9 1470.4,1277.6 1470.6,1278.1 1470.8,1278.7 1471.0,1279.1 1471.2,1279.6 1471.4,1280.0 1471.5,1280.4 1471.7,1280.7 1471.9,1281.0 1472.1,1281.3 1472.3,1281.6 1472.5,1281.9 1472.7,1282.1 1472.8,1282.4 1473.4,1283.0 1473.8,1283.3 1474.3,1283.8 1474.7,1284.0 1475.2,1284.4 1475.6,1284.6 1476.2,1284.9 1476.5,1285.0 1477.1,1285.2 1477.5,1285.4 1478.4,1285.7 1479.3,1285.9 1480.2,1286.1 1480.8,1286.2 1481.2,1286.2 1482.1,1286.3 1483.0,1286.4 1483.9,1286.4 1484.5,1286.5 1484.9,1286.5 1485.8,1286.5 1486.7,1286.5 1487.6,1286.5 1488.2,1286.5 1488.6,1286.5 1489.5,1286.5 1490.4,1286.5 1491.3,1286.5 1491.9,1286.5 1495.6,1286.5 1499.3,1286.5 1503.0,1286.5 1503.2,1286.5 1504.1,1286.5 1505.0,1286.5 1506.0,1286.5 1506.7,1286.5 1506.9,1286.5 1507.8,1286.5 1508.7,1286.5 1509.7,1286.5 1510.4,1286.5 1510.6,1286.5 1511.5,1286.5 1512.4,1286.5 1513.4,1286.5 1514.1,1286.5 1514.3,1286.5 1515.2,1286.5 1516.1,1286.5 1517.1,1286.5 1517.8,1286.5 1518.0,1286.5 1518.9,1286.4 1519.8,1286.4 1520.8,1286.4 1521.5,1286.4 1521.7,1286.4 1521.9,1286.4 1522.1,1286.4 1522.2,1286.3 1522.4,1286.3 1522.6,1286.3 1522.8,1286.3 1523.0,1286.3 1523.2,1286.3 1523.3,1286.3 1523.5,1286.3 1523.7,1286.3 1523.9,1286.2 1524.1,1286.2 1524.3,1286.2 1524.5,1286.2 1524.6,1286.2 1524.8,1286.1 1525.0,1286.1 1525.2,1286.1 1525.4,1286.0 1525.6,1286.0 1525.8,1286.0 1525.9,1285.9 1526.1,1285.9 1526.3,1285.8 1526.5,1285.7 1526.7,1285.6 1526.9,1285.6 1527.0,1285.5 1527.2,1285.3 1527.4,1285.2 1527.6,1285.1 1527.8,1284.9 1528.0,1284.8 1528.0,1284.8 1528.1,1284.7 1528.1,1284.7 1528.2,1284.6 1528.2,1284.6 1528.3,1284.6 1528.3,1284.5 1528.3,1284.5 1528.4,1284.5 1528.4,1284.5 1528.5,1284.4 1528.5,1284.4 1528.6,1284.3 1528.6,1284.3 1528.7,1284.3 1528.7,1284.3 1528.8,1284.3 1528.8,1284.2 1528.9,1284.2 1528.9,1284.2 1528.9,1284.2 1529.0,1284.2 1529.0,1284.2 1529.1,1284.2 1529.1,1284.2 1529.2,1284.2 1529.3,1284.2 1529.3,1284.2 1529.3,1284.2 1529.4,1284.2 1529.4,1284.3 1529.5,1284.3 1529.5,1284.3 1529.5,1284.3 1529.6,1284.3 1529.6,1284.4 1529.7,1284.4 1529.8,1284.5 1529.8,1284.5 1529.8,1284.5 1529.9,1284.5 1529.9,1284.6 1530.0,1284.6 1530.0,1284.6 1530.0,1284.7 1530.1,1284.7 1530.1,1284.8 1530.2,1284.8 1530.4,1284.9 1530.6,1285.1 1530.8,1285.2 1530.9,1285.3 1531.1,1285.5 1531.3,1285.6 1531.5,1285.6 1531.7,1285.7 1531.9,1285.8 1532.0,1285.9 1532.2,1285.9 1532.4,1286.0 1532.6,1286.0 1532.8,1286.0 1533.0,1286.1 1533.2,1286.1 1533.3,1286.1 1533.5,1286.2 1533.7,1286.2 1533.9,1286.2 1534.1,1286.2 1534.3,1286.2 1534.5,1286.3 1534.6,1286.3 1534.8,1286.3 1535.0,1286.3 1535.2,1286.3 1535.4,1286.3 1535.6,1286.3 1535.7,1286.3 1535.9,1286.3 1536.1,1286.4 1536.3,1286.4 1536.5,1286.4 1537.4,1286.4 1538.3,1286.4 1539.3,1286.4 1540.0,1286.5 1540.2,1286.5 1541.1,1286.5 1542.0,1286.5 1543.0,1286.5 1543.7,1286.5 1543.9,1286.5 1544.8,1286.5 1545.7,1286.5 1546.7,1286.5 1547.4,1286.5 1547.6,1286.5 1548.5,1286.5 1549.4,1286.5 1550.4,1286.5 1551.1,1286.5 1551.3,1286.5 1552.2,1286.5 1553.1,1286.5 1554.1,1286.5 1554.8,1286.5 1555.0,1286.5 1558.5,1286.5 1562.2,1286.5 1565.9,1286.5 1569.6,1286.5 1573.3,1286.5 1577.0,1286.5 1580.7,1286.5 1584.4,1286.5 1588.1,1286.5 1591.8,1286.5 1595.5,1286.5 1599.2,1286.5 1602.9,1286.5 1606.6,1286.5 1610.3,1286.5 1614.0,1286.5 1617.7,1286.5 1621.4,1286.5 1625.1,1286.5 1628.8,1286.5 1632.5,1286.5 1634.2,1286.5 1635.1,1286.5 1636.0,1286.5 1636.2,1286.5 1636.9,1286.5 1637.9,1286.5 1638.8,1286.5 1639.7,1286.5 1639.9,1286.5 1640.6,1286.5 1641.6,1286.5 1642.5,1286.5 1643.4,1286.5 1643.6,1286.5 1644.3,1286.5 1645.3,1286.5 1646.2,1286.5 1647.1,1286.5 1647.3,1286.5 1648.0,1286.5 1649.0,1286.5 1649.9,1286.4 1650.8,1286.4 1651.0,1286.4 1651.7,1286.4 1652.7,1286.4 1652.8,1286.4 1653.0,1286.4 1653.2,1286.3 1653.4,1286.3 1653.6,1286.3 1653.8,1286.3 1654.0,1286.3 1654.1,1286.3 1654.3,1286.3 1654.5,1286.3 1654.7,1286.3 1654.9,1286.2 1655.1,1286.2 1655.3,1286.2 1655.4,1286.2 1655.6,1286.2 1655.8,1286.1 1656.0,1286.1 1656.2,1286.1 1656.4,1286.0 1656.5,1286.0 1656.7,1286.0 1656.9,1285.9 1657.1,1285.9 1657.3,1285.8 1657.5,1285.7 1657.7,1285.6 1657.8,1285.6 1658.0,1285.5 1658.2,1285.3 1658.4,1285.2 1658.6,1285.1 1658.8,1284.9 1659.0,1284.8 1659.0,1284.8 1659.1,1284.7 1659.1,1284.7 1659.1,1284.6 1659.2,1284.6 1659.2,1284.6 1659.3,1284.5 1659.3,1284.5 1659.3,1284.5 1659.4,1284.5 1659.5,1284.4 1659.5,1284.4 1659.6,1284.3 1659.6,1284.3 1659.7,1284.3 1659.7,1284.3 1659.7,1284.3 1659.8,1284.2 1659.8,1284.2 1659.9,1284.2 1659.9,1284.2 1660.0,1284.2 1660.0,1284.2 1660.1,1284.2 1660.1,1284.2 1660.2,1284.2 1660.2,1284.2 1660.2,1284.2 1660.3,1284.2 1660.3,1284.2 1660.4,1284.3 1660.4,1284.3 1660.5,1284.3 1660.5,1284.3 1660.6,1284.3 1660.6,1284.4 1660.7,1284.4 1660.7,1284.5 1660.8,1284.5 1660.8,1284.5 1660.8,1284.5 1660.9,1284.6 1661.0,1284.6 1661.0,1284.6 1661.0,1284.7 1661.1,1284.7 1661.1,1284.8 1661.2,1284.8 1661.4,1284.9 1661.5,1285.1 1661.7,1285.2 1661.9,1285.3 1662.1,1285.5 1662.3,1285.6 1662.5,1285.6 1662.7,1285.7 1662.8,1285.8 1663.0,1285.9 1663.2,1285.9 1663.4,1286.0 1663.6,1286.0 1663.8,1286.0 1664.0,1286.1 1664.1,1286.1 1664.3,1286.1 1664.5,1286.2 1664.7,1286.2 1664.9,1286.2 1665.1,1286.2 1665.2,1286.2 1665.4,1286.3 1665.6,1286.3 1665.8,1286.3 1666.0,1286.3 1666.2,1286.3 1666.4,1286.3 1666.5,1286.3 1666.7,1286.3 1666.9,1286.3 1667.1,1286.4 1667.3,1286.4 1667.5,1286.4 1668.4,1286.4 1669.3,1286.4 1669.5,1286.4 1670.2,1286.4 1671.2,1286.5 1672.1,1286.5 1673.0,1286.5 1673.2,1286.5 1673.9,1286.5 1674.9,1286.5 1675.8,1286.5 1676.7,1286.5 1676.9,1286.5 1677.6,1286.5 1678.6,1286.5 1679.5,1286.5 1680.4,1286.5 1680.6,1286.5 1681.3,1286.5 1682.3,1286.5 1683.2,1286.5 1684.1,1286.5 1684.3,1286.5 1685.0,1286.5 1686.0,1286.5 1688.0,1286.5 1691.7,1286.5 1695.4,1286.5 1697.8,1286.5 1698.7,1286.5 1699.1,1286.5 1699.7,1286.5 1700.6,1286.5 1701.5,1286.5 1702.4,1286.5 1702.8,1286.5 1703.4,1286.5 1704.3,1286.5 1705.2,1286.4 1706.1,1286.4 1706.5,1286.4 1707.1,1286.3 1708.0,1286.2 1708.9,1286.1 1709.8,1285.9 1710.2,1285.8 1710.8,1285.7 1711.7,1285.4 1712.1,1285.2 1712.6,1285.0 1713.0,1284.9 1713.5,1284.6 1713.9,1284.4 1714.5,1284.0 1714.8,1283.8 1715.4,1283.3 1715.8,1283.0 1716.3,1282.4 1716.5,1282.1 1716.7,1281.9 1716.9,1281.6 1717.0,1281.3 1717.2,1281.0 1717.4,1280.7 1717.6,1280.4 1717.8,1280.0 1718.0,1279.6 1718.2,1279.1 1718.3,1278.7 1718.5,1278.1 1718.7,1277.6 1718.9,1276.9 1719.1,1276.2 1719.3,1275.5 1719.5,1274.6 1719.6,1273.7 1719.8,1272.7 1720.0,1271.5 1720.2,1270.2 1720.4,1268.8 1720.6,1267.2 1720.7,1265.4 1720.9,1263.4 1721.1,1261.1 1721.3,1258.6 1721.5,1255.7 1721.7,1252.5 1721.9,1248.9 1722.0,1245.0 1722.2,1240.7 1722.4,1236.0 1722.6,1231.2 1722.7,1229.8 1722.7,1228.3 1722.8,1226.8 1722.8,1226.4 1722.8,1225.4 1722.9,1224.0 1722.9,1222.6 1723.0,1221.7 1723.0,1221.3 1723.0,1220.0 1723.1,1218.7 1723.2,1217.5 1723.2,1216.4 1723.3,1215.4 1723.3,1214.5 1723.3,1214.2 1723.4,1213.7 1723.4,1213.0 1723.5,1212.4 1723.5,1212.0 1723.5,1211.9 1723.6,1211.6 1723.6,1211.3 1723.7,1211.3 1723.8,1211.3 1723.8,1211.5 1723.9,1211.8 1723.9,1211.9 1723.9,1212.2 1724.0,1212.7 1724.0,1213.3 1724.1,1213.8 1724.1,1214.1 1724.1,1214.9 1724.2,1215.8 1724.3,1216.8 1724.3,1217.9 1724.4,1219.0 1724.4,1220.2 1724.4,1220.6 1724.5,1221.4 1724.5,1222.7 1724.6,1224.0 1724.6,1224.9 1724.6,1225.4 1724.7,1226.7 1724.8,1228.1 1724.8,1229.5 1725.0,1234.0 1725.2,1238.5 1725.4,1242.6 1725.6,1246.5 1725.7,1250.0 1725.9,1253.2 1726.1,1256.0 1726.3,1258.6 1726.5,1260.8 1726.7,1262.9 1726.8,1264.7 1727.0,1266.3 1727.2,1267.7 1727.4,1269.0 1727.6,1270.1 1727.8,1271.1 1728.0,1272.1 1728.1,1272.9 1728.3,1273.6 1728.5,1274.2 1728.7,1274.8 1728.9,1275.3 1729.1,1275.8 1729.3,1276.2 1729.4,1276.6 1729.6,1276.9 1729.8,1277.1 1730.0,1277.4 1730.2,1277.6 1730.4,1277.8 1730.6,1277.9 1730.7,1278.0 1730.9,1278.1 1731.1,1278.2 1731.3,1278.2 1731.5,1278.2 1731.7,1278.2 1731.8,1278.1 1732.0,1278.0 1732.2,1277.9 1732.4,1277.8 1732.6,1277.6 1732.8,1277.4 1733.0,1277.2 1733.1,1276.9 1733.3,1276.6 1733.5,1276.3 1733.7,1275.9 1733.9,1275.5 1734.1,1275.1 1734.2,1274.6 1734.4,1274.1 1734.6,1273.6 1734.8,1273.0 1735.0,1272.3 1735.2,1271.6 1735.4,1270.9 1735.5,1270.2 1735.7,1269.4 1735.9,1268.6 1736.1,1267.7 1736.3,1266.9 1736.5,1266.1 1736.7,1265.3 1736.8,1264.5 1736.9,1264.2 1737.0,1264.0 1737.0,1263.8 1737.0,1263.7 1737.1,1263.6 1737.1,1263.4 1737.2,1263.2 1737.2,1263.1 1737.2,1263.0 1737.3,1262.8 1737.3,1262.6 1737.4,1262.5 1737.5,1262.3 1737.5,1262.2 1737.6,1262.0 1737.6,1262.0 1737.6,1261.9 1737.7,1261.8 1737.7,1261.6 1737.8,1261.6 1737.8,1261.5 1737.8,1261.4 1737.9,1261.4 1738.0,1261.3 1738.0,1261.2 1738.1,1261.1 1738.1,1261.1 1738.1,1261.0 1738.2,1261.0 1738.2,1260.9 1738.3,1260.9 1738.3,1260.8 1738.3,1260.8 1738.4,1260.7 1738.4,1260.7 1738.5,1260.6 1738.6,1260.6 1738.6,1260.5 1738.7,1260.4 1738.7,1260.4 1738.7,1260.4 1738.8,1260.3 1738.8,1260.3 1738.9,1260.2 1738.9,1260.2 1738.9,1260.1 1739.0,1260.1 1739.1,1260.0 1739.2,1259.8 1739.4,1259.7 1739.6,1259.5 1739.8,1259.3 1740.0,1259.1 1740.2,1258.9 1740.4,1258.7 1740.5,1258.5 1740.7,1258.3 1740.9,1258.1 1741.1,1257.8 1741.3,1257.6 1741.5,1257.3 1741.7,1257.0 1741.8,1256.6 1742.0,1256.2 1742.2,1255.8 1742.4,1255.3 1742.6,1254.8 1742.8,1254.3 1742.9,1253.7 1743.1,1253.0 1743.3,1252.3 1743.5,1251.5 1743.7,1250.6 1743.9,1249.6 1744.1,1248.5 1744.2,1247.4 1744.4,1246.1 1744.6,1244.7 1744.8,1243.2 1745.0,1241.5 1745.2,1239.6 1745.3,1237.6 1745.5,1235.4 1745.7,1232.9 1745.9,1230.2 1746.1,1227.3 1746.3,1224.0 1746.5,1220.4 1746.6,1216.4 1746.8,1212.0 1747.0,1207.1 1747.2,1201.7 1747.4,1195.7 1747.6,1189.1 1747.8,1181.7 1747.9,1173.6 1748.1,1164.7 1748.3,1154.9 1748.5,1144.1 1748.7,1132.3 1748.9,1119.7 1749.0,1106.2 1749.2,1092.0 1749.4,1077.4 1749.6,1062.8 1749.7,1058.4 1749.7,1054.2 1749.8,1050.0 1749.8,1048.6 1749.8,1045.9 1749.9,1042.0 1749.9,1038.1 1750.0,1035.6 1750.0,1034.4 1750.0,1030.9 1750.1,1027.6 1750.2,1024.5 1750.2,1021.6 1750.3,1019.0 1750.3,1016.6 1750.3,1015.9 1750.4,1014.6 1750.4,1012.8 1750.5,1011.4 1750.5,1010.6 1750.5,1010.2 1750.6,1009.4 1750.7,1008.9 1750.7,1008.8 1750.8,1009.1 1750.8,1009.9 1750.9,1011.2 1750.9,1011.7 1750.9,1012.9 1751.0,1015.1 1751.0,1017.7 1751.1,1019.7 1751.1,1020.7 1751.2,1024.1 1751.2,1027.9 1751.3,1032.0 1751.3,1036.3 1751.4,1040.9 1751.4,1045.7 1751.5,1047.3 1751.5,1050.6 1751.5,1055.7 1751.6,1061.0 1751.6,1064.5 1751.7,1066.3 1751.7,1071.6 1751.8,1077.0 1751.8,1082.4 1752.0,1100.2 1752.2,1117.2 1752.4,1133.0 1752.6,1147.6 1752.8,1160.7 1752.9,1172.6 1753.1,1183.1 1753.3,1192.6 1753.5,1201.0 1753.7,1208.4 1753.9,1215.1 1754.0,1221.0 1754.2,1226.3 1754.4,1231.0 1754.6,1235.3 1754.8,1239.1 1755.0,1242.6 1755.2,1245.7 1755.3,1248.5 1755.5,1251.1 1755.7,1253.4 1755.9,1255.5 1756.1,1257.5 1756.3,1259.3 1756.4,1260.9 1756.6,1262.5 1756.8,1263.9 1757.0,1265.2 1757.2,1266.4 1757.4,1267.5 1757.6,1268.5 1757.7,1269.5 1757.9,1270.4 1758.1,1271.2 1758.3,1272.0 1759.0,1274.8 1759.2,1275.4 1760.0,1277.4 1760.2,1277.9 1760.9,1279.5 1761.1,1279.8 1761.8,1281.1 1762.0,1281.4 1762.7,1282.4 1762.9,1282.6 1763.7,1283.4 1763.8,1283.6 1764.6,1284.3 1765.5,1284.9 1765.7,1285.1 1766.4,1285.5 1767.4,1285.8 1768.3,1286.1 1769.2,1286.3 1769.4,1286.3 1770.1,1286.4 1771.1,1286.4 1772.0,1286.5 1772.9,1286.5 1773.1,1286.5 1773.8,1286.5 1774.8,1286.5 1775.7,1286.5 1776.6,1286.5 1776.8,1286.5 1777.7,1286.5 1778.7,1286.5 1779.6,1286.5 1780.5,1286.5 1781.4,1286.5 1782.3,1286.4 1783.3,1286.4 1784.2,1286.2 1785.1,1286.0 1786.0,1285.8 1787.0,1285.3 1787.9,1284.8 1788.8,1284.0 1789.8,1283.1 1790.7,1282.0 1791.6,1280.5 1792.5,1278.7 1793.5,1276.5 1794.4,1273.6 1795.3,1269.7 1795.5,1268.8 1795.7,1267.8 1795.9,1266.7 1796.0,1265.6 1796.2,1264.4 1796.4,1263.1 1796.6,1261.7 1796.8,1260.1 1797.0,1258.5 1797.2,1256.7 1797.3,1254.7 1797.5,1252.6 1797.7,1250.3 1797.9,1247.7 1798.1,1244.9 1798.3,1241.9 1798.4,1238.5 1798.6,1234.7 1798.8,1230.5 1799.0,1225.9 1799.2,1220.7 1799.4,1215.0 1799.6,1208.5 1799.7,1201.2 1799.9,1193.0 1800.1,1183.8 1800.3,1173.5 1800.5,1161.9 1800.7,1148.9 1800.8,1134.5 1801.0,1118.5 1801.2,1101.1 1801.4,1082.4 1801.6,1062.9 1801.6,1056.9 1801.7,1051.0 1801.8,1045.1 1801.8,1043.2 1801.8,1039.3 1801.9,1033.6 1801.9,1027.9 1802.0,1024.3 1802.0,1022.5 1802.0,1017.2 1802.1,1012.2 1802.1,1007.4 1802.2,1003.0 1802.3,998.9 1802.3,995.2 1802.3,994.0 1802.4,991.9 1802.4,989.0 1802.5,986.6 1802.5,985.3 1802.5,984.8 1802.6,983.4 1802.6,982.6 1802.7,982.3 1802.8,982.5 1802.8,983.0 1802.9,983.9 1802.9,984.2 1802.9,985.1 1803.0,986.6 1803.0,988.5 1803.1,989.9 1803.1,990.6 1803.1,993.1 1803.2,995.8 1803.3,998.8 1803.3,1002.1 1803.4,1005.5 1803.4,1009.2 1803.4,1010.5 1803.5,1013.1 1803.5,1017.1 1803.6,1021.3 1803.6,1024.2 1803.6,1025.6 1803.7,1030.1 1803.8,1034.6 1803.8,1039.2 1804.0,1054.8 1804.2,1070.5 1804.4,1086.0 1804.6,1100.8 1804.7,1114.8 1804.9,1127.9 1805.1,1140.1 1805.3,1151.2 1805.5,1161.4 1805.7,1170.8 1805.8,1179.3 1806.0,1187.0 1806.2,1194.0 1806.4,1200.4 1806.6,1206.2 1806.8,1211.4 1807.0,1216.2 1807.1,1220.5 1807.3,1224.5 1807.5,1228.1 1807.7,1231.3 1807.9,1234.3 1808.1,1237.0 1808.2,1239.5 1808.4,1241.7 1808.6,1243.8 1808.8,1245.6 1809.0,1247.3 1809.2,1248.8 1809.4,1250.2 1809.5,1251.5 1809.7,1252.6 1809.9,1253.6 1810.1,1254.5 1811.0,1257.6 1812.0,1258.9 1812.9,1259.0 1813.8,1258.3 1814.7,1257.4 1815.7,1256.2 1816.6,1255.0 1817.5,1253.6 1818.4,1251.7 1819.3,1248.6 1820.3,1243.9 1821.2,1236.5 1821.4,1234.6 1821.6,1232.5 1821.8,1230.2 1821.9,1227.8 1822.1,1225.1 1822.3,1222.2 1822.5,1219.1 1822.7,1215.6 1822.9,1211.9 1823.1,1207.8 1823.2,1203.4 1823.4,1198.5 1823.6,1193.2 1823.8,1187.5 1824.0,1181.1 1824.2,1174.2 1824.3,1166.6 1824.5,1158.3 1824.7,1149.2 1824.9,1139.1 1825.1,1128.1 1825.3,1115.9 1825.5,1102.6 1825.6,1087.9 1825.8,1071.8 1826.0,1054.2 1826.2,1034.9 1826.4,1014.0 1826.6,991.4 1826.8,967.3 1826.9,941.8 1827.1,915.2 1827.3,888.1 1827.5,861.2 1827.5,853.3 1827.6,845.5 1827.7,837.9 1827.7,835.4 1827.7,830.5 1827.8,823.3 1827.8,816.3 1827.9,811.8 1827.9,809.7 1827.9,803.3 1828.0,797.3 1828.0,791.8 1828.1,786.6 1828.2,781.9 1828.2,777.6 1828.2,776.3 1828.3,773.9 1828.3,770.7 1828.4,768.1 1828.4,766.6 1828.4,766.0 1828.5,764.5 1828.5,763.6 1828.6,763.3 1828.7,763.8 1828.7,765.2 1828.8,767.5 1828.8,768.5 1828.8,770.7 1828.9,774.8 1828.9,779.7 1829.0,783.4 1829.0,785.4 1829.0,791.8 1829.1,798.9 1829.2,806.5 1829.2,814.7 1829.3,823.4 1829.3,832.4 1829.3,835.5 1829.4,841.8 1829.4,851.4 1829.5,861.3 1829.5,868.0 1829.5,871.3 1829.6,881.5 1829.7,891.6 1829.7,901.8 1829.9,935.4 1830.1,967.5 1830.3,997.5 1830.5,1025.0 1830.6,1049.9 1830.8,1072.2 1831.0,1092.2 1831.2,1109.9 1831.4,1125.7 1831.6,1139.8 1831.7,1152.3 1831.9,1163.4 1832.1,1173.4 1832.3,1182.3 1832.5,1190.3 1832.7,1197.4 1832.9,1203.9 1833.0,1209.7 1833.2,1215.0 1833.4,1219.8 1833.6,1224.2 1833.8,1228.2 1834.0,1231.9 1834.2,1235.2 1834.3,1238.3 1834.5,1241.1 1834.7,1243.8 1834.9,1246.2 1835.1,1248.4 1835.3,1250.5 1835.4,1252.5 1835.6,1254.3 1835.8,1256.0 1836.0,1257.6 1836.9,1264.2 1837.8,1269.2 1838.8,1273.1 1839.7,1276.2 1840.6,1278.7 1841.5,1280.7 1842.5,1282.3 1843.4,1283.5 1844.3,1284.5 1845.2,1285.2 1846.2,1285.7 1847.1,1286.0 1848.0,1286.3 1848.9,1286.4 1849.9,1286.4 1850.8,1286.5 1851.7,1286.5 1852.7,1286.5 1853.6,1286.5 1854.5,1286.5 1858.2,1286.5 1861.9,1286.5 1865.6,1286.5 1869.3,1286.5 1873.0,1286.5 1876.7,1286.5 1880.4,1286.5 1884.1,1286.5 1887.8,1286.5 1891.5,1286.5 1895.2,1286.5 1898.9,1286.5 1902.6,1286.5 1906.3,1286.5 1910.0,1286.5 1913.7,1286.5 1917.4,1286.5 1921.1,1286.5 1924.8,1286.5 1928.5,1286.5" fill="none" stroke="#0f0" stroke-width="9.2" stroke-linejoin="round" stroke-linecap="butt" clip-path="url(#clipd)"/>
<rect x="1188.5" y="708.5" width="740.0" height="578.5" fill="none" stroke="#000" stroke-width="3.1"/>
<path d="M1188.50,1287.00 L1188.50,1298.50 M1373.50,1287.00 L1373.50,1298.50 M1558.50,1287.00 L1558.50,1298.50 M1743.50,1287.00 L1743.50,1298.50 M1928.50,1287.00 L1928.50,1298.50 M1281.00,1287.00 L1281.00,1293.30 M1466.00,1287.00 L1466.00,1293.30 M1651.00,1287.00 L1651.00,1293.30 M1836.00,1287.00 L1836.00,1293.30 M1188.50,1287.00 L1177.80,1287.00 M1188.50,1121.71 L1177.80,1121.71 M1188.50,956.43 L1177.80,956.43 M1188.50,791.14 L1177.80,791.14 M1188.50,1204.36 L1182.80,1204.36 M1188.50,1039.07 L1182.80,1039.07 M1188.50,873.79 L1182.80,873.79 M1188.50,708.50 L1182.80,708.50" stroke="#000" stroke-width="3.1" fill="none"/>
<text transform="translate(1107.40,1299.10) scale(1.0,1.035)" font-family='"Liberation Sans", Arial, sans-serif' font-weight="bold" font-size="48" fill="#000">0.0</text>
<text transform="translate(1106.80,1133.81) scale(1.0,1.035)" font-family='"Liberation Sans", Arial, sans-serif' font-weight="bold" font-size="48" fill="#000">0.1</text>
<text transform="translate(1107.40,968.53) scale(1.0,1.035)" font-family='"Liberation Sans", Arial, sans-serif' font-weight="bold" font-size="48" fill="#000">0.2</text>
<text transform="translate(1107.16,803.24) scale(1.0,1.035)" font-family='"Liberation Sans", Arial, sans-serif' font-weight="bold" font-size="48" fill="#000">0.3</text>
<text transform="translate(1141.46,1340.00) scale(1.0,1.035)" font-family='"Liberation Sans", Arial, sans-serif' font-weight="bold" font-size="48" fill="#000">-100</text>
<text transform="translate(1360.15,1340.00) scale(1.0,1.035)" font-family='"Liberation Sans", Arial, sans-serif' font-weight="bold" font-size="48" fill="#000">0</text>
<text transform="translate(1518.46,1340.00) scale(1.0,1.035)" font-family='"Liberation Sans", Arial, sans-serif' font-weight="bold" font-size="48" fill="#000">100</text>
<text transform="translate(1703.46,1340.00) scale(1.0,1.035)" font-family='"Liberation Sans", Arial, sans-serif' font-weight="bold" font-size="48" fill="#000">200</text>
<text transform="translate(1888.46,1340.00) scale(1.0,1.035)" font-family='"Liberation Sans", Arial, sans-serif' font-weight="bold" font-size="48" fill="#000">300</text>
<text transform="translate(1219.89,771.00) scale(1.045,1.035)" font-family='"Liberation Sans", Arial, sans-serif' font-weight="bold" font-size="48" fill="#000">(d)</text>
<text transform="translate(1060.00,1114.08) rotate(-90) scale(1.0,1.0)" font-family='"Liberation Serif", "Times New Roman", serif' font-weight="normal" font-size="74" fill="#000" stroke="#000" stroke-width="1.6">κ</text>
<text transform="translate(1087.50,1076.06) rotate(-90) scale(1.0,1.035)" font-family='"Liberation Sans", Arial, sans-serif' font-weight="bold" font-size="44" fill="#000">e</text>
<text transform="translate(1060.00,1050.08) rotate(-90) scale(0.86,1.0)" font-family='"Liberation Sans", Arial, sans-serif' font-weight="bold" font-size="74" fill="#000">(</text>
<text transform="translate(1060.00,1025.58) rotate(-90) scale(1.0,1.0)" font-family='"Liberation Serif", "Times New Roman", serif' font-weight="normal" font-size="74" fill="#000" stroke="#000" stroke-width="1.6">κ</text>
<text transform="translate(1087.50,986.76) rotate(-90) scale(1.0,1.035)" font-family='"Liberation Sans", Arial, sans-serif' font-weight="bold" font-size="44" fill="#000">0</text>
<text transform="translate(1060.00,959.46) rotate(-90) scale(0.86,1.0)" font-family='"Liberation Sans", Arial, sans-serif' font-weight="bold" font-size="74" fill="#000">)</text>
<text transform="translate(1489.13,1416.30) scale(1.16,1.0)" font-family='"Liberation Serif", "Times New Roman", serif' font-weight="normal" font-size="74" fill="#000" stroke="#000" stroke-width="0.5">μ</text>
<text transform="translate(1552.12,1416.30) scale(0.86,1.0)" font-family='"Liberation Sans", Arial, sans-serif' font-weight="bold" font-size="74" fill="#000">(</text>
<text transform="translate(1574.39,1416.30) scale(1.0,1.035)" font-family='"Liberation Sans", Arial, sans-serif' font-weight="bold" font-size="74" fill="#000">meV</text>
<text transform="translate(1734.74,1416.30) scale(0.86,1.0)" font-family='"Liberation Sans", Arial, sans-serif' font-weight="bold" font-size="74" fill="#000">)</text>
</svg>
</body></html>
